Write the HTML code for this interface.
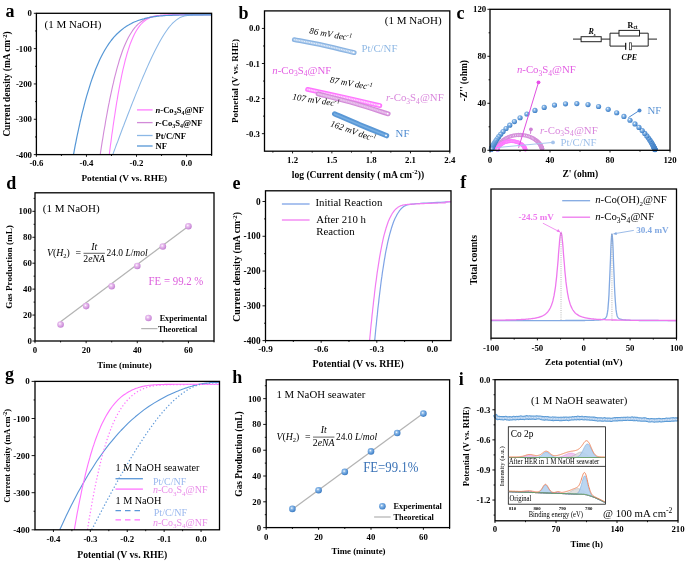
<!DOCTYPE html>
<html><head><meta charset="utf-8"><style>
html,body{margin:0;padding:0;background:#fff;overflow:hidden}
svg{display:block;will-change:transform}
text{font-family:"Liberation Serif", serif}
</style></head><body>
<svg width="685" height="561" viewBox="0 0 685 561">
<defs><radialGradient id="sB" cx="0.4" cy="0.38" r="0.62"><stop offset="0" stop-color="#ffffff"/><stop offset="0.3" stop-color="#8fbbe8"/><stop offset="0.75" stop-color="#5592d4"/><stop offset="1" stop-color="#3f7cc0"/></radialGradient><radialGradient id="sP" cx="0.4" cy="0.38" r="0.62"><stop offset="0" stop-color="#ffffff"/><stop offset="0.3" stop-color="#eac2f0"/><stop offset="0.75" stop-color="#d398de"/><stop offset="1" stop-color="#c281d2"/></radialGradient><radialGradient id="sM" cx="0.45" cy="0.45" r="0.6"><stop offset="0" stop-color="#ffffff"/><stop offset="0.4" stop-color="#ffb0ff"/><stop offset="1" stop-color="#f060f0"/></radialGradient><radialGradient id="sR" cx="0.45" cy="0.45" r="0.6"><stop offset="0" stop-color="#ffffff"/><stop offset="0.4" stop-color="#e8bdea"/><stop offset="1" stop-color="#cc88d2"/></radialGradient><radialGradient id="sL" cx="0.45" cy="0.45" r="0.6"><stop offset="0" stop-color="#ffffff"/><stop offset="0.4" stop-color="#cfe0f6"/><stop offset="1" stop-color="#a6c4ec"/></radialGradient></defs>
<rect width="685" height="561" fill="#fff"/>
<text x="5.40" y="16.60" font-size="18" font-weight="bold" text-anchor="start" fill="#000">a</text>
<path d="M100.2,154.6 L100.7,151.3 L101.2,148.1 L101.7,144.8 L102.2,141.6 L102.8,138.3 L103.3,135.0 L103.8,131.8 L104.4,128.5 L105.0,125.3 L105.5,122.0 L106.1,118.7 L106.7,115.5 L107.3,112.2 L107.9,108.9 L108.5,105.7 L109.2,102.4 L109.8,99.2 L110.5,95.9 L111.2,92.6 L111.9,89.4 L112.6,86.1 L113.4,82.9 L114.1,79.6 L114.9,76.3 L115.8,73.1 L116.6,69.8 L117.5,66.6 L118.5,63.3 L119.4,60.0 L120.5,56.8 L121.6,53.5 L122.7,50.3 L124.0,47.0 L125.4,43.7 L126.9,40.5 L128.5,37.2 L130.4,34.0 L132.5,30.7 L135.0,27.4 L135.0,27.4 L135.8,26.6 L136.5,25.7 L137.3,25.0 L138.1,24.2 L138.8,23.6 L139.6,22.9 L140.3,22.3 L141.1,21.8 L141.8,21.3 L142.5,20.8 L143.3,20.3 L144.0,19.9 L144.7,19.5 L145.5,19.1 L146.2,18.8 L146.9,18.4 L147.6,18.1 L148.4,17.8 L149.1,17.6 L149.8,17.3 L150.5,17.1 L151.2,16.9 L152.0,16.7 L152.7,16.6 L153.4,16.4 L154.1,16.2 L154.8,16.1 L155.5,16.0 L156.2,15.9 L157.0,15.8 L157.7,15.7 L158.4,15.6 L159.1,15.5 L159.8,15.5 L160.5,15.4 L161.2,15.4 L161.9,15.3 L162.6,15.3 L163.3,15.2 L164.0,15.2 L164.8,15.1 L165.5,15.1 L166.2,15.1 L166.9,15.1 L167.6,15.0 L168.3,15.0 L169.0,15.0 L169.7,15.0 L170.4,15.0 L171.1,14.9 L171.8,14.9 L172.5,14.9 L173.2,14.9 L173.9,14.9 L174.6,14.9 L175.3,14.9 L176.0,14.9 L176.7,14.8 L177.4,14.8 L178.1,14.8 L178.8,14.8 L179.5,14.8 L180.2,14.8 L180.9,14.8 L181.6,14.8 L182.3,14.8 L183.0,14.8 L183.8,14.8 L184.5,14.8 L185.2,14.8 L185.9,14.8 L186.6,14.8 L187.3,14.8 L188.0,14.8 L188.7,14.8 L189.4,14.8 L190.1,14.8 L190.8,14.8 L191.5,14.8 L192.2,14.8 L192.9,14.8 L193.6,14.8 L194.3,14.8 L195.0,14.8 L195.7,14.8 L196.4,14.8 L197.1,14.7 L197.8,14.7 L198.5,14.7 L199.2,14.7 L199.9,14.7 L200.6,14.7 L201.3,14.7 L202.0,14.7 L202.7,14.7 L203.4,14.7 L204.1,14.7 L204.8,14.7 L205.5,14.7 L206.2,14.7 L206.9,14.7 L207.6,14.7 L208.3,14.7 L209.0,14.7 L209.7,14.7 L210.4,14.7 L211.1,14.7 L211.2,14.3 L211.2,14.3 L211.2,14.3 L211.3,14.3 L211.3,14.3 L211.4,14.3 L211.4,14.3 L211.5,14.3 L211.5,14.3 L211.6,14.3 L211.6,14.3" fill="none" stroke="#d28ad8" stroke-width="1.1" stroke-linejoin="round"/>
<path d="M109.3,154.6 L109.7,151.3 L110.1,148.1 L110.5,144.8 L111.0,141.6 L111.4,138.3 L111.8,135.0 L112.3,131.8 L112.8,128.5 L113.2,125.3 L113.7,122.0 L114.2,118.7 L114.7,115.5 L115.2,112.2 L115.7,108.9 L116.2,105.7 L116.7,102.4 L117.3,99.2 L117.8,95.9 L118.4,92.6 L119.0,89.4 L119.6,86.1 L120.2,82.9 L120.9,79.6 L121.5,76.3 L122.2,73.1 L122.9,69.8 L123.7,66.6 L124.5,63.3 L125.3,60.0 L126.2,56.8 L127.1,53.5 L128.1,50.3 L129.2,47.0 L130.3,43.7 L131.6,40.5 L133.0,37.2 L134.5,34.0 L136.3,30.7 L138.5,27.4 L138.5,27.4 L139.1,26.6 L139.8,25.7 L140.4,25.0 L141.0,24.2 L141.7,23.6 L142.3,22.9 L142.9,22.3 L143.6,21.8 L144.2,21.3 L144.8,20.8 L145.5,20.3 L146.1,19.9 L146.7,19.5 L147.3,19.1 L147.9,18.8 L148.6,18.4 L149.2,18.1 L149.8,17.8 L150.4,17.6 L151.0,17.3 L151.6,17.1 L152.2,16.9 L152.9,16.7 L153.5,16.6 L154.1,16.4 L154.7,16.2 L155.3,16.1 L155.9,16.0 L156.5,15.9 L157.1,15.8 L157.7,15.7 L158.3,15.6 L158.9,15.5 L159.5,15.5 L160.1,15.4 L160.7,15.4 L161.3,15.3 L161.9,15.3 L162.5,15.2 L163.1,15.2 L163.7,15.1 L164.3,15.1 L164.9,15.1 L165.5,15.1 L166.1,15.0 L166.7,15.0 L167.3,15.0 L167.9,15.0 L168.5,15.0 L169.1,14.9 L169.7,14.9 L170.3,14.9 L170.9,14.9 L171.5,14.9 L172.1,14.9 L172.7,14.9 L173.3,14.9 L173.9,14.8 L174.5,14.8 L175.1,14.8 L175.7,14.8 L176.3,14.8 L176.9,14.8 L177.5,14.8 L178.1,14.8 L178.7,14.8 L179.3,14.8 L179.9,14.8 L180.5,14.8 L181.1,14.8 L181.7,14.8 L182.3,14.8 L182.9,14.8 L183.5,14.8 L184.1,14.8 L184.7,14.8 L185.3,14.8 L185.9,14.8 L186.5,14.8 L187.1,14.8 L187.7,14.8 L188.3,14.8 L188.9,14.8 L189.5,14.8 L190.1,14.8 L190.7,14.8 L191.3,14.7 L191.9,14.7 L192.5,14.7 L193.1,14.7 L193.7,14.7 L194.3,14.7 L194.9,14.7 L195.5,14.7 L196.1,14.7 L196.7,14.7 L197.3,14.7 L197.9,14.7 L198.5,14.7 L199.1,14.7 L199.7,14.7 L200.3,14.7 L200.8,14.7 L201.4,14.7 L202.0,14.7 L202.6,14.7 L203.2,14.7 L203.8,14.7 L204.4,14.7 L205.0,14.7 L205.6,14.7 L206.2,14.7 L206.8,14.7 L207.4,14.7 L208.0,14.7 L208.6,14.7 L209.2,14.7 L209.8,14.7 L210.4,14.7 L210.5,14.3 L210.6,14.3 L210.7,14.3 L210.8,14.3 L210.9,14.3 L211.1,14.3 L211.2,14.3 L211.3,14.3 L211.4,14.3 L211.5,14.3 L211.6,14.3" fill="none" stroke="#ff7dff" stroke-width="1.1" stroke-linejoin="round"/>
<path d="M112.8,154.6 L114.0,151.3 L115.2,148.1 L116.4,144.8 L117.7,141.6 L118.9,138.3 L120.1,135.0 L121.3,131.8 L122.5,128.5 L123.8,125.3 L125.0,122.0 L126.3,118.7 L127.5,115.5 L128.8,112.2 L130.1,108.9 L131.3,105.7 L132.6,102.4 L133.9,99.2 L135.2,95.9 L136.5,92.6 L137.9,89.4 L139.2,86.1 L140.5,82.9 L141.9,79.6 L143.3,76.3 L144.7,73.1 L146.1,69.8 L147.5,66.6 L149.0,63.3 L150.5,60.0 L152.0,56.8 L153.6,53.5 L155.2,50.3 L156.9,47.0 L158.6,43.7 L160.4,40.5 L162.3,37.2 L164.3,34.0 L166.5,30.7 L168.9,27.4 L168.9,27.4 L169.6,26.6 L170.3,25.7 L171.0,25.0 L171.6,24.2 L172.3,23.6 L172.9,22.9 L173.5,22.3 L174.1,21.8 L174.7,21.3 L175.3,20.8 L175.9,20.3 L176.4,19.9 L177.0,19.5 L177.5,19.1 L178.1,18.8 L178.6,18.4 L179.1,18.1 L179.6,17.8 L180.1,17.6 L180.7,17.3 L181.2,17.1 L181.6,16.9 L182.1,16.7 L182.6,16.6 L183.1,16.4 L183.6,16.3 L184.1,16.1 L184.5,16.0 L185.0,15.9 L185.5,15.8 L185.9,15.7 L186.4,15.7 L186.9,15.6 L187.3,15.5 L187.8,15.5 L188.2,15.4 L188.7,15.4 L189.1,15.3 L189.6,15.3 L190.0,15.2 L190.5,15.2 L190.9,15.2 L191.4,15.1 L191.8,15.1 L192.3,15.1 L192.7,15.1 L193.1,15.0 L193.6,15.0 L194.0,15.0 L194.4,15.0 L194.9,15.0 L195.3,15.0 L195.7,15.0 L196.2,14.9 L196.6,14.9 L197.0,14.9 L197.5,14.9 L197.9,14.9 L198.3,14.9 L198.8,14.9 L199.2,14.9 L199.6,14.9 L200.1,14.9 L200.5,14.9 L200.9,14.9 L201.3,14.9 L201.8,14.9 L202.2,14.9 L202.6,14.9 L203.0,14.9 L203.5,14.8 L203.9,14.8 L204.3,14.8 L204.8,14.8 L205.2,14.8 L205.6,14.8 L206.0,14.8 L206.5,14.8 L206.9,14.8 L207.3,14.8 L207.7,14.8 L208.2,14.8 L208.6,14.8 L209.0,14.8 L209.4,14.8 L209.9,14.8 L210.3,14.8 L210.7,14.8 L211.1,14.8 L211.6,14.8 L211.6,14.4 L211.6,14.4 L211.6,14.4 L211.6,14.4 L211.6,14.4 L211.6,14.4 L211.6,14.4 L211.6,14.4 L211.6,14.4 L211.6,14.4 L211.6,14.4" fill="none" stroke="#8cb8e6" stroke-width="1.05" stroke-linejoin="round"/>
<path d="M73.5,154.6 L74.1,151.3 L74.7,148.1 L75.3,144.8 L76.0,141.6 L76.6,138.3 L77.3,135.0 L78.0,131.8 L78.7,128.5 L79.4,125.3 L80.1,122.0 L80.9,118.7 L81.6,115.5 L82.4,112.2 L83.3,108.9 L84.1,105.7 L84.9,102.4 L85.8,99.2 L86.7,95.9 L87.7,92.6 L88.7,89.4 L89.7,86.1 L90.7,82.9 L91.8,79.6 L93.0,76.3 L94.2,73.1 L95.4,69.8 L96.8,66.6 L98.2,63.3 L99.6,60.0 L101.2,56.8 L102.9,53.5 L104.7,50.3 L106.7,47.0 L108.9,43.7 L111.2,40.5 L113.9,37.2 L116.9,34.0 L120.5,30.7 L124.7,27.4 L124.7,27.4 L126.0,26.6 L127.3,25.7 L128.6,25.0 L129.9,24.2 L131.2,23.6 L132.4,22.9 L133.7,22.3 L135.0,21.8 L136.3,21.3 L137.5,20.8 L138.8,20.3 L140.1,19.9 L141.3,19.5 L142.6,19.1 L143.9,18.8 L145.1,18.4 L146.4,18.1 L147.6,17.8 L148.9,17.6 L150.1,17.3 L151.3,17.1 L152.6,16.9 L153.8,16.7 L155.0,16.6 L156.3,16.4 L157.5,16.2 L158.7,16.1 L159.9,16.0 L161.1,15.9 L162.3,15.8 L163.5,15.7 L164.7,15.6 L165.9,15.5 L167.1,15.5 L168.3,15.4 L169.5,15.4 L170.6,15.3 L171.8,15.3 L173.0,15.2 L174.1,15.2 L175.2,15.1 L176.4,15.1 L177.5,15.1 L178.6,15.1 L179.7,15.0 L180.8,15.0 L181.9,15.0 L183.0,15.0 L184.1,15.0 L185.1,14.9 L186.2,14.9 L187.2,14.9 L188.2,14.9 L189.2,14.9 L190.2,14.9 L191.2,14.9 L192.2,14.9 L193.1,14.8 L194.0,14.8 L195.0,14.8 L195.9,14.8 L196.7,14.8 L197.6,14.8 L198.5,14.8 L199.3,14.8 L200.1,14.8 L200.9,14.8 L201.7,14.8 L202.4,14.8 L203.2,14.8 L203.9,14.8 L204.6,14.8 L205.3,14.8 L205.9,14.8 L206.5,14.8 L207.2,14.8 L207.8,14.8 L208.3,14.8 L208.9,14.8 L209.4,14.8 L209.9,14.8 L210.4,14.8 L210.9,14.8 L211.4,14.8 L211.4,14.3 L211.4,14.3 L211.4,14.3 L211.4,14.3 L211.5,14.3 L211.5,14.3 L211.5,14.3 L211.5,14.3 L211.6,14.3 L211.6,14.3 L211.6,14.3" fill="none" stroke="#5597d6" stroke-width="1.2" stroke-linejoin="round"/>
<rect x="36.40" y="13.30" width="175.20" height="141.30" fill="none" stroke="#000" stroke-width="1.3"/>
<line x1="61.43" y1="154.60" x2="61.43" y2="156.00" stroke="#000" stroke-width="0.9"/>
<line x1="111.49" y1="154.60" x2="111.49" y2="156.00" stroke="#000" stroke-width="0.9"/>
<line x1="161.54" y1="154.60" x2="161.54" y2="156.00" stroke="#000" stroke-width="0.9"/>
<line x1="211.60" y1="154.60" x2="211.60" y2="156.00" stroke="#000" stroke-width="0.9"/>
<line x1="36.40" y1="154.60" x2="36.40" y2="156.80" stroke="#000" stroke-width="0.9"/>
<text x="36.40" y="165.80" font-size="8.8" font-weight="bold" text-anchor="middle" fill="#000">-0.6</text>
<line x1="86.46" y1="154.60" x2="86.46" y2="156.80" stroke="#000" stroke-width="0.9"/>
<text x="86.46" y="165.80" font-size="8.8" font-weight="bold" text-anchor="middle" fill="#000">-0.4</text>
<line x1="136.51" y1="154.60" x2="136.51" y2="156.80" stroke="#000" stroke-width="0.9"/>
<text x="136.51" y="165.80" font-size="8.8" font-weight="bold" text-anchor="middle" fill="#000">-0.2</text>
<line x1="186.57" y1="154.60" x2="186.57" y2="156.80" stroke="#000" stroke-width="0.9"/>
<text x="186.57" y="165.80" font-size="8.8" font-weight="bold" text-anchor="middle" fill="#000">0.0</text>
<line x1="35.00" y1="30.96" x2="36.40" y2="30.96" stroke="#000" stroke-width="0.9"/>
<line x1="35.00" y1="66.29" x2="36.40" y2="66.29" stroke="#000" stroke-width="0.9"/>
<line x1="35.00" y1="101.61" x2="36.40" y2="101.61" stroke="#000" stroke-width="0.9"/>
<line x1="35.00" y1="136.94" x2="36.40" y2="136.94" stroke="#000" stroke-width="0.9"/>
<line x1="33.80" y1="13.30" x2="36.40" y2="13.30" stroke="#000" stroke-width="0.9"/>
<text x="32.00" y="16.30" font-size="8.8" font-weight="bold" text-anchor="end" fill="#000">0</text>
<line x1="33.80" y1="48.62" x2="36.40" y2="48.62" stroke="#000" stroke-width="0.9"/>
<text x="32.00" y="51.62" font-size="8.8" font-weight="bold" text-anchor="end" fill="#000">-100</text>
<line x1="33.80" y1="83.95" x2="36.40" y2="83.95" stroke="#000" stroke-width="0.9"/>
<text x="32.00" y="86.95" font-size="8.8" font-weight="bold" text-anchor="end" fill="#000">-200</text>
<line x1="33.80" y1="119.28" x2="36.40" y2="119.28" stroke="#000" stroke-width="0.9"/>
<text x="32.00" y="122.28" font-size="8.8" font-weight="bold" text-anchor="end" fill="#000">-300</text>
<line x1="33.80" y1="154.60" x2="36.40" y2="154.60" stroke="#000" stroke-width="0.9"/>
<text x="32.00" y="157.60" font-size="8.8" font-weight="bold" text-anchor="end" fill="#000">-400</text>
<text x="10.30" y="84.00" font-size="9.3" font-weight="bold" text-anchor="middle" fill="#000" transform="rotate(-90 10.30 84.00)">Current density (mA cm<tspan font-size="6.5" dy="-3.25">-2</tspan><tspan dy="3.25">)</tspan></text>
<text x="124.30" y="180.80" font-size="9.27" font-weight="bold" text-anchor="middle" fill="#000">Potential (V vs. RHE)</text>
<text x="44.50" y="28.00" font-size="11" font-weight="normal" text-anchor="start" fill="#000">(1 M NaOH)</text>
<line x1="137.00" y1="109.90" x2="152.60" y2="109.90" stroke="#ff7dff" stroke-width="1.3"/>
<text x="155.50" y="112.90" font-size="8.6" font-weight="bold" text-anchor="start" fill="#000"><tspan font-style="italic">n</tspan>-Co<tspan font-size="6.0" dy="2.15">3</tspan><tspan dy="-2.15">S</tspan><tspan font-size="6.0" dy="2.15">4</tspan><tspan dy="-2.15">@NF</tspan></text>
<line x1="137.00" y1="122.60" x2="152.60" y2="122.60" stroke="#d28ad8" stroke-width="1.3"/>
<text x="155.50" y="125.60" font-size="8.6" font-weight="bold" text-anchor="start" fill="#000"><tspan font-style="italic">r</tspan>-Co<tspan font-size="6.0" dy="2.15">3</tspan><tspan dy="-2.15">S</tspan><tspan font-size="6.0" dy="2.15">4</tspan><tspan dy="-2.15">@NF</tspan></text>
<line x1="137.00" y1="135.50" x2="152.60" y2="135.50" stroke="#8cb8e6" stroke-width="1.3"/>
<text x="155.50" y="138.50" font-size="8.6" font-weight="bold" text-anchor="start" fill="#000">Pt/C/NF</text>
<line x1="137.00" y1="146.00" x2="152.60" y2="146.00" stroke="#5597d6" stroke-width="1.3"/>
<text x="155.50" y="149.00" font-size="8.6" font-weight="bold" text-anchor="start" fill="#000">NF</text>
<text x="238.50" y="18.90" font-size="18" font-weight="bold" text-anchor="start" fill="#000">b</text>
<rect x="264.50" y="10.90" width="185.30" height="140.30" fill="none" stroke="#000" stroke-width="1.3"/>
<line x1="272.89" y1="151.20" x2="272.89" y2="152.60" stroke="#000" stroke-width="0.9"/>
<line x1="312.20" y1="151.20" x2="312.20" y2="152.60" stroke="#000" stroke-width="0.9"/>
<line x1="351.51" y1="151.20" x2="351.51" y2="152.60" stroke="#000" stroke-width="0.9"/>
<line x1="390.83" y1="151.20" x2="390.83" y2="152.60" stroke="#000" stroke-width="0.9"/>
<line x1="430.14" y1="151.20" x2="430.14" y2="152.60" stroke="#000" stroke-width="0.9"/>
<line x1="292.54" y1="151.20" x2="292.54" y2="153.40" stroke="#000" stroke-width="0.9"/>
<text x="292.54" y="162.50" font-size="8.8" font-weight="bold" text-anchor="middle" fill="#000">1.2</text>
<line x1="331.86" y1="151.20" x2="331.86" y2="153.40" stroke="#000" stroke-width="0.9"/>
<text x="331.86" y="162.50" font-size="8.8" font-weight="bold" text-anchor="middle" fill="#000">1.5</text>
<line x1="371.17" y1="151.20" x2="371.17" y2="153.40" stroke="#000" stroke-width="0.9"/>
<text x="371.17" y="162.50" font-size="8.8" font-weight="bold" text-anchor="middle" fill="#000">1.8</text>
<line x1="410.49" y1="151.20" x2="410.49" y2="153.40" stroke="#000" stroke-width="0.9"/>
<text x="410.49" y="162.50" font-size="8.8" font-weight="bold" text-anchor="middle" fill="#000">2.1</text>
<line x1="449.80" y1="151.20" x2="449.80" y2="153.40" stroke="#000" stroke-width="0.9"/>
<text x="449.80" y="162.50" font-size="8.8" font-weight="bold" text-anchor="middle" fill="#000">2.4</text>
<line x1="263.10" y1="45.97" x2="264.50" y2="45.97" stroke="#000" stroke-width="0.9"/>
<line x1="263.10" y1="81.05" x2="264.50" y2="81.05" stroke="#000" stroke-width="0.9"/>
<line x1="263.10" y1="116.12" x2="264.50" y2="116.12" stroke="#000" stroke-width="0.9"/>
<line x1="261.90" y1="28.44" x2="264.50" y2="28.44" stroke="#000" stroke-width="0.9"/>
<text x="260.00" y="31.44" font-size="8.8" font-weight="bold" text-anchor="end" fill="#000">0.0</text>
<line x1="261.90" y1="63.51" x2="264.50" y2="63.51" stroke="#000" stroke-width="0.9"/>
<text x="260.00" y="66.51" font-size="8.8" font-weight="bold" text-anchor="end" fill="#000">-0.1</text>
<line x1="261.90" y1="98.59" x2="264.50" y2="98.59" stroke="#000" stroke-width="0.9"/>
<text x="260.00" y="101.59" font-size="8.8" font-weight="bold" text-anchor="end" fill="#000">-0.2</text>
<line x1="261.90" y1="133.66" x2="264.50" y2="133.66" stroke="#000" stroke-width="0.9"/>
<text x="260.00" y="136.66" font-size="8.8" font-weight="bold" text-anchor="end" fill="#000">-0.3</text>
<text x="238.30" y="81.00" font-size="9.07" font-weight="bold" text-anchor="middle" fill="#000" transform="rotate(-90 238.30 81.00)">Potnetial (V vs. RHE)</text>
<text x="357.90" y="177.50" font-size="9.64" font-weight="bold" text-anchor="middle" fill="#000">log (Current density ( mA cm<tspan font-size="6.7" dy="-3.37">-2</tspan><tspan dy="3.37">))</tspan></text>
<text x="441.60" y="23.70" font-size="11" font-weight="normal" text-anchor="end" fill="#000">(1 M NaOH)</text>
<path d="M294.30,39.60 C299.20,40.55 313.72,43.13 323.70,45.30 C333.68,47.47 349.12,51.38 354.20,52.60" fill="none" stroke="#8ab4e2" stroke-width="4.8" stroke-linecap="round"/>
<path d="M294.30,39.60 C299.20,40.55 313.72,43.13 323.70,45.30 C333.68,47.47 349.12,51.38 354.20,52.60" fill="none" stroke="#b0cdee" stroke-width="2.4" stroke-linecap="round"/>
<path d="M294.30,39.60 C299.20,40.55 313.72,43.13 323.70,45.30 C333.68,47.47 349.12,51.38 354.20,52.60" fill="none" stroke="#fff" stroke-width="1.1" stroke-dasharray="0.8 0.9" opacity="0.85"/>
<circle cx="353.60" cy="52.30" r="0.9" fill="#fff"/>
<path d="M307.60,89.40 C313.83,90.75 332.97,94.80 345.00,97.50 C357.03,100.20 374.00,104.25 379.80,105.60" fill="none" stroke="#ff72ff" stroke-width="4.8" stroke-linecap="round"/>
<path d="M307.60,89.40 C313.83,90.75 332.97,94.80 345.00,97.50 C357.03,100.20 374.00,104.25 379.80,105.60" fill="none" stroke="#ff9eff" stroke-width="2.4" stroke-linecap="round"/>
<path d="M307.60,89.40 C313.83,90.75 332.97,94.80 345.00,97.50 C357.03,100.20 374.00,104.25 379.80,105.60" fill="none" stroke="#fff" stroke-width="1.1" stroke-dasharray="0.8 0.9" opacity="0.9"/>
<circle cx="379.20" cy="105.30" r="0.9" fill="#fff"/>
<path d="M318.10,93.90 C324.25,95.50 343.32,100.17 355.00,103.50 C366.68,106.83 382.67,112.17 388.20,113.90" fill="none" stroke="#d38ad8" stroke-width="4.8" stroke-linecap="round"/>
<path d="M318.10,93.90 C324.25,95.50 343.32,100.17 355.00,103.50 C366.68,106.83 382.67,112.17 388.20,113.90" fill="none" stroke="#e2aee6" stroke-width="2.4" stroke-linecap="round"/>
<path d="M318.10,93.90 C324.25,95.50 343.32,100.17 355.00,103.50 C366.68,106.83 382.67,112.17 388.20,113.90" fill="none" stroke="#fff" stroke-width="1.1" stroke-dasharray="0.8 0.9" opacity="0.45"/>
<circle cx="387.60" cy="113.60" r="0.9" fill="#fff"/>
<path d="M334.60,113.90 C338.83,115.72 351.33,121.17 360.00,124.80 C368.67,128.43 382.17,133.88 386.60,135.70" fill="none" stroke="#5a98d6" stroke-width="5.2" stroke-linecap="round"/>
<path d="M334.60,113.90 C338.83,115.72 351.33,121.17 360.00,124.80 C368.67,128.43 382.17,133.88 386.60,135.70" fill="none" stroke="#77aee2" stroke-width="1.6" stroke-linecap="round"/>
<circle cx="386.00" cy="135.40" r="0.9" fill="#fff"/>
<text x="309.00" y="33.50" font-size="9" font-weight="normal" text-anchor="start" fill="#000" font-style="italic" transform="rotate(10 309.00 33.50)">86 mV dec<tspan font-size="6.3" dy="-3.15">-1</tspan><tspan dy="3.15"></tspan></text>
<text x="361.40" y="52.00" font-size="10.8" font-weight="normal" text-anchor="start" fill="#8fb8e4">Pt/C/NF</text>
<text x="272.30" y="73.60" font-size="10.8" font-weight="normal" text-anchor="start" fill="#e35ee3"><tspan font-style="italic">n</tspan>-Co<tspan font-size="7.6" dy="2.70">3</tspan><tspan dy="-2.70">S</tspan><tspan font-size="7.6" dy="2.70">4</tspan><tspan dy="-2.70">@NF</tspan></text>
<text x="329.50" y="82.50" font-size="9" font-weight="normal" text-anchor="start" fill="#000" font-style="italic" transform="rotate(10.3 329.50 82.50)">87 mV dec<tspan font-size="6.3" dy="-3.15">-1</tspan><tspan dy="3.15"></tspan></text>
<text x="385.90" y="101.30" font-size="10.8" font-weight="normal" text-anchor="start" fill="#d987dc"><tspan font-style="italic">r</tspan>-Co<tspan font-size="7.6" dy="2.70">3</tspan><tspan dy="-2.70">S</tspan><tspan font-size="7.6" dy="2.70">4</tspan><tspan dy="-2.70">@NF</tspan></text>
<text x="292.00" y="99.60" font-size="9" font-weight="normal" text-anchor="start" fill="#000" font-style="italic" transform="rotate(8.7 292.00 99.60)">107 mV dec<tspan font-size="6.3" dy="-3.15">-1</tspan><tspan dy="3.15"></tspan></text>
<text x="329.80" y="126.00" font-size="9" font-weight="normal" text-anchor="start" fill="#000" font-style="italic" transform="rotate(19.5 329.80 126.00)">162 mV dec<tspan font-size="6.3" dy="-3.15">-1</tspan><tspan dy="3.15"></tspan></text>
<text x="395.60" y="136.70" font-size="10.8" font-weight="normal" text-anchor="start" fill="#4d8ad0">NF</text>
<text x="456.60" y="18.90" font-size="18" font-weight="bold" text-anchor="start" fill="#000">c</text>
<circle cx="497.9" cy="149.9" r="1.4" fill="#fff" stroke="#a9c6ec" stroke-width="1.1"/>
<circle cx="497.9" cy="149.8" r="1.4" fill="#fff" stroke="#a9c6ec" stroke-width="1.1"/>
<circle cx="497.8" cy="149.8" r="1.4" fill="#fff" stroke="#a9c6ec" stroke-width="1.1"/>
<circle cx="497.8" cy="149.7" r="1.4" fill="#fff" stroke="#a9c6ec" stroke-width="1.1"/>
<circle cx="497.7" cy="149.6" r="1.4" fill="#fff" stroke="#a9c6ec" stroke-width="1.1"/>
<circle cx="497.6" cy="149.5" r="1.4" fill="#fff" stroke="#a9c6ec" stroke-width="1.1"/>
<circle cx="497.5" cy="149.4" r="1.4" fill="#fff" stroke="#a9c6ec" stroke-width="1.1"/>
<circle cx="497.4" cy="149.3" r="1.4" fill="#fff" stroke="#a9c6ec" stroke-width="1.1"/>
<circle cx="497.3" cy="149.2" r="1.4" fill="#fff" stroke="#a9c6ec" stroke-width="1.1"/>
<circle cx="497.1" cy="149.1" r="1.4" fill="#fff" stroke="#a9c6ec" stroke-width="1.1"/>
<circle cx="496.9" cy="148.9" r="1.4" fill="#fff" stroke="#a9c6ec" stroke-width="1.1"/>
<circle cx="496.7" cy="148.8" r="1.4" fill="#fff" stroke="#a9c6ec" stroke-width="1.1"/>
<circle cx="496.4" cy="148.7" r="1.4" fill="#fff" stroke="#a9c6ec" stroke-width="1.1"/>
<circle cx="496.1" cy="148.5" r="1.4" fill="#fff" stroke="#a9c6ec" stroke-width="1.1"/>
<circle cx="495.8" cy="148.4" r="1.4" fill="#fff" stroke="#a9c6ec" stroke-width="1.1"/>
<circle cx="495.4" cy="148.3" r="1.4" fill="#fff" stroke="#a9c6ec" stroke-width="1.1"/>
<circle cx="495.0" cy="148.3" r="1.4" fill="#fff" stroke="#a9c6ec" stroke-width="1.1"/>
<circle cx="494.6" cy="148.3" r="1.4" fill="#fff" stroke="#a9c6ec" stroke-width="1.1"/>
<circle cx="494.2" cy="148.3" r="1.4" fill="#fff" stroke="#a9c6ec" stroke-width="1.1"/>
<circle cx="493.8" cy="148.3" r="1.4" fill="#fff" stroke="#a9c6ec" stroke-width="1.1"/>
<circle cx="493.5" cy="148.4" r="1.4" fill="#fff" stroke="#a9c6ec" stroke-width="1.1"/>
<circle cx="493.1" cy="148.5" r="1.4" fill="#fff" stroke="#a9c6ec" stroke-width="1.1"/>
<circle cx="492.8" cy="148.6" r="1.4" fill="#fff" stroke="#a9c6ec" stroke-width="1.1"/>
<circle cx="492.5" cy="148.7" r="1.4" fill="#fff" stroke="#a9c6ec" stroke-width="1.1"/>
<circle cx="492.2" cy="148.8" r="1.4" fill="#fff" stroke="#a9c6ec" stroke-width="1.1"/>
<circle cx="492.0" cy="149.0" r="1.4" fill="#fff" stroke="#a9c6ec" stroke-width="1.1"/>
<circle cx="491.8" cy="149.1" r="1.4" fill="#fff" stroke="#a9c6ec" stroke-width="1.1"/>
<circle cx="491.7" cy="149.2" r="1.4" fill="#fff" stroke="#a9c6ec" stroke-width="1.1"/>
<circle cx="491.6" cy="149.4" r="1.4" fill="#fff" stroke="#a9c6ec" stroke-width="1.1"/>
<circle cx="491.4" cy="149.5" r="1.4" fill="#fff" stroke="#a9c6ec" stroke-width="1.1"/>
<circle cx="491.4" cy="149.6" r="1.4" fill="#fff" stroke="#a9c6ec" stroke-width="1.1"/>
<circle cx="491.3" cy="149.7" r="1.4" fill="#fff" stroke="#a9c6ec" stroke-width="1.1"/>
<circle cx="491.2" cy="149.7" r="1.4" fill="#fff" stroke="#a9c6ec" stroke-width="1.1"/>
<circle cx="491.2" cy="149.8" r="1.4" fill="#fff" stroke="#a9c6ec" stroke-width="1.1"/>
<circle cx="491.1" cy="149.9" r="1.4" fill="#fff" stroke="#a9c6ec" stroke-width="1.1"/>
<circle cx="491.1" cy="149.9" r="1.4" fill="#fff" stroke="#a9c6ec" stroke-width="1.1"/>
<circle cx="491.1" cy="150.0" r="1.4" fill="#fff" stroke="#a9c6ec" stroke-width="1.1"/>
<circle cx="491.0" cy="150.0" r="1.4" fill="#fff" stroke="#a9c6ec" stroke-width="1.1"/>
<circle cx="491.0" cy="150.1" r="1.4" fill="#fff" stroke="#a9c6ec" stroke-width="1.1"/>
<circle cx="491.0" cy="150.1" r="1.4" fill="#fff" stroke="#a9c6ec" stroke-width="1.1"/>
<circle cx="542.2" cy="148.9" r="1.5" fill="#fff" stroke="#d48fda" stroke-width="1.3"/>
<circle cx="542.1" cy="148.8" r="1.5" fill="#fff" stroke="#d48fda" stroke-width="1.3"/>
<circle cx="542.1" cy="148.6" r="1.5" fill="#fff" stroke="#d48fda" stroke-width="1.3"/>
<circle cx="542.0" cy="148.5" r="1.5" fill="#fff" stroke="#d48fda" stroke-width="1.3"/>
<circle cx="542.0" cy="148.3" r="1.5" fill="#fff" stroke="#d48fda" stroke-width="1.3"/>
<circle cx="541.9" cy="148.1" r="1.5" fill="#fff" stroke="#d48fda" stroke-width="1.3"/>
<circle cx="541.8" cy="147.9" r="1.5" fill="#fff" stroke="#d48fda" stroke-width="1.3"/>
<circle cx="541.7" cy="147.7" r="1.5" fill="#fff" stroke="#d48fda" stroke-width="1.3"/>
<circle cx="541.6" cy="147.4" r="1.5" fill="#fff" stroke="#d48fda" stroke-width="1.3"/>
<circle cx="541.5" cy="147.2" r="1.5" fill="#fff" stroke="#d48fda" stroke-width="1.3"/>
<circle cx="541.4" cy="146.9" r="1.5" fill="#fff" stroke="#d48fda" stroke-width="1.3"/>
<circle cx="541.2" cy="146.6" r="1.5" fill="#fff" stroke="#d48fda" stroke-width="1.3"/>
<circle cx="541.0" cy="146.2" r="1.5" fill="#fff" stroke="#d48fda" stroke-width="1.3"/>
<circle cx="540.8" cy="145.8" r="1.5" fill="#fff" stroke="#d48fda" stroke-width="1.3"/>
<circle cx="540.6" cy="145.4" r="1.5" fill="#fff" stroke="#d48fda" stroke-width="1.3"/>
<circle cx="540.3" cy="145.0" r="1.5" fill="#fff" stroke="#d48fda" stroke-width="1.3"/>
<circle cx="540.0" cy="144.5" r="1.5" fill="#fff" stroke="#d48fda" stroke-width="1.3"/>
<circle cx="539.7" cy="144.0" r="1.5" fill="#fff" stroke="#d48fda" stroke-width="1.3"/>
<circle cx="539.3" cy="143.5" r="1.5" fill="#fff" stroke="#d48fda" stroke-width="1.3"/>
<circle cx="538.8" cy="143.0" r="1.5" fill="#fff" stroke="#d48fda" stroke-width="1.3"/>
<circle cx="538.3" cy="142.4" r="1.5" fill="#fff" stroke="#d48fda" stroke-width="1.3"/>
<circle cx="537.7" cy="141.7" r="1.5" fill="#fff" stroke="#d48fda" stroke-width="1.3"/>
<circle cx="537.0" cy="141.1" r="1.5" fill="#fff" stroke="#d48fda" stroke-width="1.3"/>
<circle cx="536.2" cy="140.4" r="1.5" fill="#fff" stroke="#d48fda" stroke-width="1.3"/>
<circle cx="535.3" cy="139.8" r="1.5" fill="#fff" stroke="#d48fda" stroke-width="1.3"/>
<circle cx="534.3" cy="139.1" r="1.5" fill="#fff" stroke="#d48fda" stroke-width="1.3"/>
<circle cx="533.2" cy="138.4" r="1.5" fill="#fff" stroke="#d48fda" stroke-width="1.3"/>
<circle cx="531.9" cy="137.8" r="1.5" fill="#fff" stroke="#d48fda" stroke-width="1.3"/>
<circle cx="530.6" cy="137.1" r="1.5" fill="#fff" stroke="#d48fda" stroke-width="1.3"/>
<circle cx="529.1" cy="136.6" r="1.5" fill="#fff" stroke="#d48fda" stroke-width="1.3"/>
<circle cx="527.6" cy="136.1" r="1.5" fill="#fff" stroke="#d48fda" stroke-width="1.3"/>
<circle cx="525.9" cy="135.6" r="1.5" fill="#fff" stroke="#d48fda" stroke-width="1.3"/>
<circle cx="524.1" cy="135.3" r="1.5" fill="#fff" stroke="#d48fda" stroke-width="1.3"/>
<circle cx="522.3" cy="135.1" r="1.5" fill="#fff" stroke="#d48fda" stroke-width="1.3"/>
<circle cx="520.5" cy="135.0" r="1.5" fill="#fff" stroke="#d48fda" stroke-width="1.3"/>
<circle cx="518.6" cy="135.0" r="1.5" fill="#fff" stroke="#d48fda" stroke-width="1.3"/>
<circle cx="516.8" cy="135.1" r="1.5" fill="#fff" stroke="#d48fda" stroke-width="1.3"/>
<circle cx="515.0" cy="135.3" r="1.5" fill="#fff" stroke="#d48fda" stroke-width="1.3"/>
<circle cx="513.2" cy="135.6" r="1.5" fill="#fff" stroke="#d48fda" stroke-width="1.3"/>
<circle cx="511.5" cy="136.1" r="1.5" fill="#fff" stroke="#d48fda" stroke-width="1.3"/>
<circle cx="510.0" cy="136.6" r="1.5" fill="#fff" stroke="#d48fda" stroke-width="1.3"/>
<circle cx="508.5" cy="137.1" r="1.5" fill="#fff" stroke="#d48fda" stroke-width="1.3"/>
<circle cx="507.2" cy="137.8" r="1.5" fill="#fff" stroke="#d48fda" stroke-width="1.3"/>
<circle cx="505.9" cy="138.4" r="1.5" fill="#fff" stroke="#d48fda" stroke-width="1.3"/>
<circle cx="504.8" cy="139.1" r="1.5" fill="#fff" stroke="#d48fda" stroke-width="1.3"/>
<circle cx="503.8" cy="139.8" r="1.5" fill="#fff" stroke="#d48fda" stroke-width="1.3"/>
<circle cx="502.9" cy="140.4" r="1.5" fill="#fff" stroke="#d48fda" stroke-width="1.3"/>
<circle cx="502.1" cy="141.1" r="1.5" fill="#fff" stroke="#d48fda" stroke-width="1.3"/>
<circle cx="501.4" cy="141.7" r="1.5" fill="#fff" stroke="#d48fda" stroke-width="1.3"/>
<circle cx="500.8" cy="142.4" r="1.5" fill="#fff" stroke="#d48fda" stroke-width="1.3"/>
<circle cx="500.3" cy="143.0" r="1.5" fill="#fff" stroke="#d48fda" stroke-width="1.3"/>
<circle cx="499.8" cy="143.5" r="1.5" fill="#fff" stroke="#d48fda" stroke-width="1.3"/>
<circle cx="499.4" cy="144.0" r="1.5" fill="#fff" stroke="#d48fda" stroke-width="1.3"/>
<circle cx="499.1" cy="144.5" r="1.5" fill="#fff" stroke="#d48fda" stroke-width="1.3"/>
<circle cx="498.8" cy="145.0" r="1.5" fill="#fff" stroke="#d48fda" stroke-width="1.3"/>
<circle cx="498.5" cy="145.4" r="1.5" fill="#fff" stroke="#d48fda" stroke-width="1.3"/>
<circle cx="498.3" cy="145.8" r="1.5" fill="#fff" stroke="#d48fda" stroke-width="1.3"/>
<circle cx="498.1" cy="146.2" r="1.5" fill="#fff" stroke="#d48fda" stroke-width="1.3"/>
<circle cx="497.9" cy="146.6" r="1.5" fill="#fff" stroke="#d48fda" stroke-width="1.3"/>
<circle cx="497.7" cy="146.9" r="1.5" fill="#fff" stroke="#d48fda" stroke-width="1.3"/>
<circle cx="497.6" cy="147.2" r="1.5" fill="#fff" stroke="#d48fda" stroke-width="1.3"/>
<circle cx="497.5" cy="147.4" r="1.5" fill="#fff" stroke="#d48fda" stroke-width="1.3"/>
<circle cx="497.4" cy="147.7" r="1.5" fill="#fff" stroke="#d48fda" stroke-width="1.3"/>
<circle cx="497.3" cy="147.9" r="1.5" fill="#fff" stroke="#d48fda" stroke-width="1.3"/>
<circle cx="497.2" cy="148.1" r="1.5" fill="#fff" stroke="#d48fda" stroke-width="1.3"/>
<circle cx="497.1" cy="148.3" r="1.5" fill="#fff" stroke="#d48fda" stroke-width="1.3"/>
<circle cx="497.1" cy="148.5" r="1.5" fill="#fff" stroke="#d48fda" stroke-width="1.3"/>
<circle cx="497.0" cy="148.6" r="1.5" fill="#fff" stroke="#d48fda" stroke-width="1.3"/>
<circle cx="497.0" cy="148.8" r="1.5" fill="#fff" stroke="#d48fda" stroke-width="1.3"/>
<circle cx="496.9" cy="148.9" r="1.5" fill="#fff" stroke="#d48fda" stroke-width="1.3"/>
<circle cx="525.4" cy="149.4" r="1.4" fill="#fff" stroke="#ff78ff" stroke-width="1.2"/>
<circle cx="525.4" cy="149.3" r="1.4" fill="#fff" stroke="#ff78ff" stroke-width="1.2"/>
<circle cx="525.3" cy="149.2" r="1.4" fill="#fff" stroke="#ff78ff" stroke-width="1.2"/>
<circle cx="525.3" cy="149.1" r="1.4" fill="#fff" stroke="#ff78ff" stroke-width="1.2"/>
<circle cx="525.2" cy="149.0" r="1.4" fill="#fff" stroke="#ff78ff" stroke-width="1.2"/>
<circle cx="525.2" cy="148.8" r="1.4" fill="#fff" stroke="#ff78ff" stroke-width="1.2"/>
<circle cx="525.1" cy="148.7" r="1.4" fill="#fff" stroke="#ff78ff" stroke-width="1.2"/>
<circle cx="525.0" cy="148.6" r="1.4" fill="#fff" stroke="#ff78ff" stroke-width="1.2"/>
<circle cx="525.0" cy="148.4" r="1.4" fill="#fff" stroke="#ff78ff" stroke-width="1.2"/>
<circle cx="524.9" cy="148.2" r="1.4" fill="#fff" stroke="#ff78ff" stroke-width="1.2"/>
<circle cx="524.8" cy="148.0" r="1.4" fill="#fff" stroke="#ff78ff" stroke-width="1.2"/>
<circle cx="524.7" cy="147.8" r="1.4" fill="#fff" stroke="#ff78ff" stroke-width="1.2"/>
<circle cx="524.5" cy="147.6" r="1.4" fill="#fff" stroke="#ff78ff" stroke-width="1.2"/>
<circle cx="524.4" cy="147.4" r="1.4" fill="#fff" stroke="#ff78ff" stroke-width="1.2"/>
<circle cx="524.2" cy="147.1" r="1.4" fill="#fff" stroke="#ff78ff" stroke-width="1.2"/>
<circle cx="524.0" cy="146.9" r="1.4" fill="#fff" stroke="#ff78ff" stroke-width="1.2"/>
<circle cx="523.8" cy="146.6" r="1.4" fill="#fff" stroke="#ff78ff" stroke-width="1.2"/>
<circle cx="523.6" cy="146.3" r="1.4" fill="#fff" stroke="#ff78ff" stroke-width="1.2"/>
<circle cx="523.3" cy="146.0" r="1.4" fill="#fff" stroke="#ff78ff" stroke-width="1.2"/>
<circle cx="523.0" cy="145.6" r="1.4" fill="#fff" stroke="#ff78ff" stroke-width="1.2"/>
<circle cx="522.6" cy="145.3" r="1.4" fill="#fff" stroke="#ff78ff" stroke-width="1.2"/>
<circle cx="522.2" cy="144.9" r="1.4" fill="#fff" stroke="#ff78ff" stroke-width="1.2"/>
<circle cx="521.8" cy="144.5" r="1.4" fill="#fff" stroke="#ff78ff" stroke-width="1.2"/>
<circle cx="521.3" cy="144.2" r="1.4" fill="#fff" stroke="#ff78ff" stroke-width="1.2"/>
<circle cx="520.7" cy="143.8" r="1.4" fill="#fff" stroke="#ff78ff" stroke-width="1.2"/>
<circle cx="520.1" cy="143.4" r="1.4" fill="#fff" stroke="#ff78ff" stroke-width="1.2"/>
<circle cx="519.4" cy="143.0" r="1.4" fill="#fff" stroke="#ff78ff" stroke-width="1.2"/>
<circle cx="518.6" cy="142.6" r="1.4" fill="#fff" stroke="#ff78ff" stroke-width="1.2"/>
<circle cx="517.8" cy="142.3" r="1.4" fill="#fff" stroke="#ff78ff" stroke-width="1.2"/>
<circle cx="516.9" cy="142.0" r="1.4" fill="#fff" stroke="#ff78ff" stroke-width="1.2"/>
<circle cx="516.0" cy="141.7" r="1.4" fill="#fff" stroke="#ff78ff" stroke-width="1.2"/>
<circle cx="515.0" cy="141.5" r="1.4" fill="#fff" stroke="#ff78ff" stroke-width="1.2"/>
<circle cx="514.0" cy="141.3" r="1.4" fill="#fff" stroke="#ff78ff" stroke-width="1.2"/>
<circle cx="512.9" cy="141.2" r="1.4" fill="#fff" stroke="#ff78ff" stroke-width="1.2"/>
<circle cx="511.8" cy="141.1" r="1.4" fill="#fff" stroke="#ff78ff" stroke-width="1.2"/>
<circle cx="510.8" cy="141.1" r="1.4" fill="#fff" stroke="#ff78ff" stroke-width="1.2"/>
<circle cx="509.7" cy="141.2" r="1.4" fill="#fff" stroke="#ff78ff" stroke-width="1.2"/>
<circle cx="508.6" cy="141.3" r="1.4" fill="#fff" stroke="#ff78ff" stroke-width="1.2"/>
<circle cx="507.6" cy="141.5" r="1.4" fill="#fff" stroke="#ff78ff" stroke-width="1.2"/>
<circle cx="506.6" cy="141.7" r="1.4" fill="#fff" stroke="#ff78ff" stroke-width="1.2"/>
<circle cx="505.7" cy="142.0" r="1.4" fill="#fff" stroke="#ff78ff" stroke-width="1.2"/>
<circle cx="504.8" cy="142.3" r="1.4" fill="#fff" stroke="#ff78ff" stroke-width="1.2"/>
<circle cx="504.0" cy="142.6" r="1.4" fill="#fff" stroke="#ff78ff" stroke-width="1.2"/>
<circle cx="503.2" cy="143.0" r="1.4" fill="#fff" stroke="#ff78ff" stroke-width="1.2"/>
<circle cx="502.5" cy="143.4" r="1.4" fill="#fff" stroke="#ff78ff" stroke-width="1.2"/>
<circle cx="501.9" cy="143.8" r="1.4" fill="#fff" stroke="#ff78ff" stroke-width="1.2"/>
<circle cx="501.3" cy="144.2" r="1.4" fill="#fff" stroke="#ff78ff" stroke-width="1.2"/>
<circle cx="500.8" cy="144.5" r="1.4" fill="#fff" stroke="#ff78ff" stroke-width="1.2"/>
<circle cx="500.4" cy="144.9" r="1.4" fill="#fff" stroke="#ff78ff" stroke-width="1.2"/>
<circle cx="500.0" cy="145.3" r="1.4" fill="#fff" stroke="#ff78ff" stroke-width="1.2"/>
<circle cx="499.6" cy="145.6" r="1.4" fill="#fff" stroke="#ff78ff" stroke-width="1.2"/>
<circle cx="499.3" cy="146.0" r="1.4" fill="#fff" stroke="#ff78ff" stroke-width="1.2"/>
<circle cx="499.0" cy="146.3" r="1.4" fill="#fff" stroke="#ff78ff" stroke-width="1.2"/>
<circle cx="498.8" cy="146.6" r="1.4" fill="#fff" stroke="#ff78ff" stroke-width="1.2"/>
<circle cx="498.6" cy="146.9" r="1.4" fill="#fff" stroke="#ff78ff" stroke-width="1.2"/>
<circle cx="498.4" cy="147.1" r="1.4" fill="#fff" stroke="#ff78ff" stroke-width="1.2"/>
<circle cx="498.2" cy="147.4" r="1.4" fill="#fff" stroke="#ff78ff" stroke-width="1.2"/>
<circle cx="498.1" cy="147.6" r="1.4" fill="#fff" stroke="#ff78ff" stroke-width="1.2"/>
<circle cx="497.9" cy="147.8" r="1.4" fill="#fff" stroke="#ff78ff" stroke-width="1.2"/>
<circle cx="497.8" cy="148.0" r="1.4" fill="#fff" stroke="#ff78ff" stroke-width="1.2"/>
<circle cx="497.7" cy="148.2" r="1.4" fill="#fff" stroke="#ff78ff" stroke-width="1.2"/>
<circle cx="497.6" cy="148.4" r="1.4" fill="#fff" stroke="#ff78ff" stroke-width="1.2"/>
<circle cx="497.6" cy="148.6" r="1.4" fill="#fff" stroke="#ff78ff" stroke-width="1.2"/>
<circle cx="497.5" cy="148.7" r="1.4" fill="#fff" stroke="#ff78ff" stroke-width="1.2"/>
<circle cx="497.4" cy="148.8" r="1.4" fill="#fff" stroke="#ff78ff" stroke-width="1.2"/>
<circle cx="497.4" cy="149.0" r="1.4" fill="#fff" stroke="#ff78ff" stroke-width="1.2"/>
<circle cx="497.3" cy="149.1" r="1.4" fill="#fff" stroke="#ff78ff" stroke-width="1.2"/>
<circle cx="497.3" cy="149.2" r="1.4" fill="#fff" stroke="#ff78ff" stroke-width="1.2"/>
<circle cx="497.2" cy="149.3" r="1.4" fill="#fff" stroke="#ff78ff" stroke-width="1.2"/>
<circle cx="497.2" cy="149.4" r="1.4" fill="#fff" stroke="#ff78ff" stroke-width="1.2"/>
<circle cx="654.99" cy="149.57" r="2.6" fill="url(#sB)"/>
<circle cx="654.93" cy="149.43" r="2.6" fill="url(#sB)"/>
<circle cx="654.85" cy="149.25" r="2.6" fill="url(#sB)"/>
<circle cx="654.76" cy="149.05" r="2.6" fill="url(#sB)"/>
<circle cx="654.65" cy="148.80" r="2.6" fill="url(#sB)"/>
<circle cx="654.52" cy="148.51" r="2.6" fill="url(#sB)"/>
<circle cx="654.36" cy="148.16" r="2.6" fill="url(#sB)"/>
<circle cx="654.17" cy="147.74" r="2.6" fill="url(#sB)"/>
<circle cx="653.93" cy="147.24" r="2.6" fill="url(#sB)"/>
<circle cx="653.64" cy="146.65" r="2.6" fill="url(#sB)"/>
<circle cx="653.28" cy="145.94" r="2.6" fill="url(#sB)"/>
<circle cx="652.84" cy="145.11" r="2.6" fill="url(#sB)"/>
<circle cx="652.30" cy="144.11" r="2.6" fill="url(#sB)"/>
<circle cx="651.63" cy="142.94" r="2.6" fill="url(#sB)"/>
<circle cx="650.80" cy="141.56" r="2.6" fill="url(#sB)"/>
<circle cx="649.76" cy="139.95" r="2.6" fill="url(#sB)"/>
<circle cx="648.45" cy="138.06" r="2.6" fill="url(#sB)"/>
<circle cx="646.82" cy="135.88" r="2.6" fill="url(#sB)"/>
<circle cx="644.77" cy="133.38" r="2.6" fill="url(#sB)"/>
<circle cx="642.19" cy="130.55" r="2.6" fill="url(#sB)"/>
<circle cx="638.97" cy="127.39" r="2.6" fill="url(#sB)"/>
<circle cx="634.95" cy="123.93" r="2.6" fill="url(#sB)"/>
<circle cx="629.98" cy="120.24" r="2.6" fill="url(#sB)"/>
<circle cx="623.92" cy="116.46" r="2.6" fill="url(#sB)"/>
<circle cx="616.67" cy="112.75" r="2.6" fill="url(#sB)"/>
<circle cx="608.19" cy="109.35" r="2.6" fill="url(#sB)"/>
<circle cx="598.56" cy="106.52" r="2.6" fill="url(#sB)"/>
<circle cx="587.99" cy="104.53" r="2.6" fill="url(#sB)"/>
<circle cx="576.82" cy="103.58" r="2.6" fill="url(#sB)"/>
<circle cx="565.50" cy="103.78" r="2.6" fill="url(#sB)"/>
<circle cx="554.49" cy="105.11" r="2.6" fill="url(#sB)"/>
<circle cx="544.20" cy="107.41" r="2.6" fill="url(#sB)"/>
<circle cx="534.95" cy="110.47" r="2.6" fill="url(#sB)"/>
<circle cx="526.89" cy="114.01" r="2.6" fill="url(#sB)"/>
<circle cx="520.06" cy="117.76" r="2.6" fill="url(#sB)"/>
<circle cx="514.40" cy="121.53" r="2.6" fill="url(#sB)"/>
<circle cx="509.77" cy="125.15" r="2.6" fill="url(#sB)"/>
<circle cx="506.04" cy="128.51" r="2.6" fill="url(#sB)"/>
<circle cx="503.05" cy="131.56" r="2.6" fill="url(#sB)"/>
<circle cx="500.67" cy="134.28" r="2.6" fill="url(#sB)"/>
<circle cx="498.77" cy="136.67" r="2.6" fill="url(#sB)"/>
<circle cx="497.26" cy="138.74" r="2.6" fill="url(#sB)"/>
<circle cx="496.06" cy="140.53" r="2.6" fill="url(#sB)"/>
<circle cx="495.10" cy="142.06" r="2.6" fill="url(#sB)"/>
<circle cx="494.32" cy="143.37" r="2.6" fill="url(#sB)"/>
<circle cx="493.70" cy="144.47" r="2.6" fill="url(#sB)"/>
<circle cx="493.20" cy="145.41" r="2.6" fill="url(#sB)"/>
<circle cx="492.79" cy="146.20" r="2.6" fill="url(#sB)"/>
<circle cx="492.46" cy="146.86" r="2.6" fill="url(#sB)"/>
<circle cx="492.19" cy="147.42" r="2.6" fill="url(#sB)"/>
<circle cx="491.96" cy="147.89" r="2.6" fill="url(#sB)"/>
<circle cx="491.78" cy="148.29" r="2.6" fill="url(#sB)"/>
<circle cx="491.63" cy="148.62" r="2.6" fill="url(#sB)"/>
<circle cx="491.51" cy="148.89" r="2.6" fill="url(#sB)"/>
<circle cx="491.40" cy="149.12" r="2.6" fill="url(#sB)"/>
<rect x="490.00" y="9.30" width="180.00" height="141.00" fill="none" stroke="#000" stroke-width="1.3"/>
<line x1="520.00" y1="150.30" x2="520.00" y2="151.70" stroke="#000" stroke-width="0.9"/>
<line x1="580.00" y1="150.30" x2="580.00" y2="151.70" stroke="#000" stroke-width="0.9"/>
<line x1="640.00" y1="150.30" x2="640.00" y2="151.70" stroke="#000" stroke-width="0.9"/>
<line x1="490.00" y1="150.30" x2="490.00" y2="152.50" stroke="#000" stroke-width="0.9"/>
<text x="490.00" y="162.50" font-size="8.8" font-weight="bold" text-anchor="middle" fill="#000">0</text>
<line x1="550.00" y1="150.30" x2="550.00" y2="152.50" stroke="#000" stroke-width="0.9"/>
<text x="550.00" y="162.50" font-size="8.8" font-weight="bold" text-anchor="middle" fill="#000">40</text>
<line x1="610.00" y1="150.30" x2="610.00" y2="152.50" stroke="#000" stroke-width="0.9"/>
<text x="610.00" y="162.50" font-size="8.8" font-weight="bold" text-anchor="middle" fill="#000">80</text>
<line x1="670.00" y1="150.30" x2="670.00" y2="152.50" stroke="#000" stroke-width="0.9"/>
<text x="670.00" y="162.50" font-size="8.8" font-weight="bold" text-anchor="middle" fill="#000">120</text>
<line x1="488.60" y1="126.80" x2="490.00" y2="126.80" stroke="#000" stroke-width="0.9"/>
<line x1="488.60" y1="79.80" x2="490.00" y2="79.80" stroke="#000" stroke-width="0.9"/>
<line x1="488.60" y1="32.80" x2="490.00" y2="32.80" stroke="#000" stroke-width="0.9"/>
<line x1="487.40" y1="150.30" x2="490.00" y2="150.30" stroke="#000" stroke-width="0.9"/>
<text x="486.20" y="153.30" font-size="8.8" font-weight="bold" text-anchor="end" fill="#000">0</text>
<line x1="487.40" y1="103.30" x2="490.00" y2="103.30" stroke="#000" stroke-width="0.9"/>
<text x="486.20" y="106.30" font-size="8.8" font-weight="bold" text-anchor="end" fill="#000">40</text>
<line x1="487.40" y1="56.30" x2="490.00" y2="56.30" stroke="#000" stroke-width="0.9"/>
<text x="486.20" y="59.30" font-size="8.8" font-weight="bold" text-anchor="end" fill="#000">80</text>
<line x1="487.40" y1="9.30" x2="490.00" y2="9.30" stroke="#000" stroke-width="0.9"/>
<text x="486.20" y="12.30" font-size="8.8" font-weight="bold" text-anchor="end" fill="#000">120</text>
<text x="466.60" y="80.60" font-size="9.45" font-weight="bold" text-anchor="middle" fill="#000" transform="rotate(-90 466.60 80.60)">-Z'' (ohm)</text>
<text x="580.30" y="177.30" font-size="9.5" font-weight="bold" text-anchor="middle" fill="#000">Z' (ohm)</text>
<text x="516.90" y="73.30" font-size="10.8" font-weight="normal" text-anchor="start" fill="#e35ee3"><tspan font-style="italic">n</tspan>-Co<tspan font-size="7.6" dy="2.70">3</tspan><tspan dy="-2.70">S</tspan><tspan font-size="7.6" dy="2.70">4</tspan><tspan dy="-2.70">@NF</tspan></text>
<line x1="538.50" y1="82.30" x2="518.60" y2="147.80" stroke="#e050e0" stroke-width="1.0"/>
<circle cx="538.5" cy="82.3" r="1.9" fill="#e84ee8"/>
<text x="539.90" y="133.60" font-size="10.8" font-weight="normal" text-anchor="start" fill="#d987dc"><tspan font-style="italic">r</tspan>-Co<tspan font-size="7.6" dy="2.70">3</tspan><tspan dy="-2.70">S</tspan><tspan font-size="7.6" dy="2.70">4</tspan><tspan dy="-2.70">@NF</tspan></text>
<line x1="530.90" y1="129.50" x2="530.50" y2="133.80" stroke="#cc80d2" stroke-width="1.0"/>
<circle cx="530.9" cy="129.3" r="1.9" fill="#cf7fd6"/>
<text x="560.50" y="146.30" font-size="10.8" font-weight="normal" text-anchor="start" fill="#9dbfea">Pt/C/NF</text>
<line x1="553.00" y1="142.40" x2="496.80" y2="147.60" stroke="#a8c6ec" stroke-width="1.0"/>
<circle cx="553" cy="142.4" r="1.9" fill="#a6c4ec"/>
<text x="647.40" y="114.30" font-size="10.8" font-weight="normal" text-anchor="start" fill="#5b93d3">NF</text>
<line x1="639.50" y1="110.40" x2="628.40" y2="117.60" stroke="#4f8ad0" stroke-width="1.0"/>
<circle cx="639.5" cy="110.4" r="2.0" fill="#4f8ad0"/>
<line x1="573.00" y1="39.10" x2="581.10" y2="39.10" stroke="#222" stroke-width="1.0"/>
<line x1="601.20" y1="39.10" x2="610.00" y2="39.10" stroke="#222" stroke-width="1.0"/>
<rect x="581.1" y="36.7" width="20.1" height="5" fill="#fff" stroke="#222" stroke-width="1.0"/>
<line x1="610.00" y1="33.20" x2="610.00" y2="46.10" stroke="#222" stroke-width="1.0"/>
<line x1="648.20" y1="33.20" x2="648.20" y2="46.10" stroke="#222" stroke-width="1.0"/>
<line x1="648.20" y1="39.10" x2="657.00" y2="39.10" stroke="#222" stroke-width="1.0"/>
<line x1="610.00" y1="33.20" x2="619.00" y2="33.20" stroke="#222" stroke-width="1.0"/>
<line x1="639.50" y1="33.20" x2="648.20" y2="33.20" stroke="#222" stroke-width="1.0"/>
<rect x="619" y="30.4" width="20.5" height="5.6" fill="#fff" stroke="#222" stroke-width="1.0"/>
<line x1="610.00" y1="46.10" x2="625.00" y2="46.10" stroke="#222" stroke-width="1.0"/>
<line x1="631.80" y1="46.10" x2="648.20" y2="46.10" stroke="#222" stroke-width="1.0"/>
<rect x="625" y="42.8" width="1.3" height="7" fill="#222"/>
<rect x="629.6" y="42.8" width="2" height="7" fill="#fff" stroke="#222" stroke-width="0.7"/>
<text x="588.40" y="34.00" font-size="8" font-weight="bold" text-anchor="start" fill="#000" font-style="italic">R<tspan font-size="5" dy="1.5">s</tspan></text>
<text x="627.60" y="27.80" font-size="8" font-weight="bold" text-anchor="start" fill="#000">R<tspan font-size="5.5" dy="1.5">ct</tspan></text>
<text x="629.20" y="60.30" font-size="8" font-weight="bold" text-anchor="middle" fill="#000" font-style="italic">CPE</text>
<text x="6.20" y="189.00" font-size="18" font-weight="bold" text-anchor="start" fill="#000">d</text>
<line x1="60.57" y1="321.68" x2="188.43" y2="226.25" stroke="#b4b4b4" stroke-width="1.25"/>
<circle cx="60.57" cy="324.53" r="3.3" fill="url(#sP)"/>
<circle cx="86.14" cy="306.12" r="3.3" fill="url(#sP)"/>
<circle cx="111.71" cy="286.28" r="3.3" fill="url(#sP)"/>
<circle cx="137.29" cy="265.93" r="3.3" fill="url(#sP)"/>
<circle cx="162.86" cy="246.48" r="3.3" fill="url(#sP)"/>
<circle cx="188.43" cy="226.25" r="3.3" fill="url(#sP)"/>
<rect x="35.00" y="192.80" width="179.00" height="148.20" fill="none" stroke="#000" stroke-width="1.3"/>
<line x1="60.57" y1="341.00" x2="60.57" y2="342.40" stroke="#000" stroke-width="0.9"/>
<line x1="111.71" y1="341.00" x2="111.71" y2="342.40" stroke="#000" stroke-width="0.9"/>
<line x1="162.86" y1="341.00" x2="162.86" y2="342.40" stroke="#000" stroke-width="0.9"/>
<line x1="214.00" y1="341.00" x2="214.00" y2="342.40" stroke="#000" stroke-width="0.9"/>
<line x1="35.00" y1="341.00" x2="35.00" y2="343.20" stroke="#000" stroke-width="0.9"/>
<text x="35.00" y="353.00" font-size="8.8" font-weight="bold" text-anchor="middle" fill="#000">0</text>
<line x1="86.14" y1="341.00" x2="86.14" y2="343.20" stroke="#000" stroke-width="0.9"/>
<text x="86.14" y="353.00" font-size="8.8" font-weight="bold" text-anchor="middle" fill="#000">20</text>
<line x1="137.29" y1="341.00" x2="137.29" y2="343.20" stroke="#000" stroke-width="0.9"/>
<text x="137.29" y="353.00" font-size="8.8" font-weight="bold" text-anchor="middle" fill="#000">40</text>
<line x1="188.43" y1="341.00" x2="188.43" y2="343.20" stroke="#000" stroke-width="0.9"/>
<text x="188.43" y="353.00" font-size="8.8" font-weight="bold" text-anchor="middle" fill="#000">60</text>
<line x1="33.60" y1="328.03" x2="35.00" y2="328.03" stroke="#000" stroke-width="0.9"/>
<line x1="33.60" y1="302.10" x2="35.00" y2="302.10" stroke="#000" stroke-width="0.9"/>
<line x1="33.60" y1="276.17" x2="35.00" y2="276.17" stroke="#000" stroke-width="0.9"/>
<line x1="33.60" y1="250.24" x2="35.00" y2="250.24" stroke="#000" stroke-width="0.9"/>
<line x1="33.60" y1="224.31" x2="35.00" y2="224.31" stroke="#000" stroke-width="0.9"/>
<line x1="33.60" y1="198.38" x2="35.00" y2="198.38" stroke="#000" stroke-width="0.9"/>
<line x1="32.40" y1="341.00" x2="35.00" y2="341.00" stroke="#000" stroke-width="0.9"/>
<text x="31.80" y="344.00" font-size="8.8" font-weight="bold" text-anchor="end" fill="#000">0</text>
<line x1="32.40" y1="315.07" x2="35.00" y2="315.07" stroke="#000" stroke-width="0.9"/>
<text x="31.80" y="318.07" font-size="8.8" font-weight="bold" text-anchor="end" fill="#000">20</text>
<line x1="32.40" y1="289.14" x2="35.00" y2="289.14" stroke="#000" stroke-width="0.9"/>
<text x="31.80" y="292.14" font-size="8.8" font-weight="bold" text-anchor="end" fill="#000">40</text>
<line x1="32.40" y1="263.20" x2="35.00" y2="263.20" stroke="#000" stroke-width="0.9"/>
<text x="31.80" y="266.20" font-size="8.8" font-weight="bold" text-anchor="end" fill="#000">60</text>
<line x1="32.40" y1="237.27" x2="35.00" y2="237.27" stroke="#000" stroke-width="0.9"/>
<text x="31.80" y="240.27" font-size="8.8" font-weight="bold" text-anchor="end" fill="#000">80</text>
<line x1="32.40" y1="211.34" x2="35.00" y2="211.34" stroke="#000" stroke-width="0.9"/>
<text x="31.80" y="214.34" font-size="8.8" font-weight="bold" text-anchor="end" fill="#000">100</text>
<text x="11.60" y="266.90" font-size="9.2" font-weight="bold" text-anchor="middle" fill="#000" transform="rotate(-90 11.60 266.90)">Gas Production (mL)</text>
<text x="124.50" y="367.60" font-size="8.9" font-weight="bold" text-anchor="middle" fill="#000">Time (minute)</text>
<text x="42.80" y="212.30" font-size="11" font-weight="normal" text-anchor="start" fill="#000">(1 M NaOH)</text>
<text x="46.90" y="256.00" font-size="9.8" font-weight="normal" text-anchor="start" fill="#000"><tspan font-style="italic">V</tspan>(<tspan font-style="italic">H</tspan><tspan font-size="6.5" dy="2">2</tspan><tspan dy="-2">)</tspan></text>
<text x="75.50" y="256.00" font-size="9.8" font-weight="normal" text-anchor="start" fill="#000">=</text>
<line x1="83.50" y1="253.30" x2="104.90" y2="253.30" stroke="#222" stroke-width="0.7"/>
<text x="94.20" y="249.50" font-size="9.8" font-weight="normal" text-anchor="middle" fill="#000" font-style="italic">It</text>
<text x="94.20" y="262.20" font-size="9.8" font-weight="normal" text-anchor="middle" fill="#000">2<tspan font-style="italic">eNA</tspan></text>
<text x="106.40" y="256.00" font-size="9.506" font-weight="normal" text-anchor="start" fill="#000">24.0 <tspan font-style="italic">L</tspan>/<tspan font-style="italic">mol</tspan></text>
<text x="148.60" y="284.60" font-size="11.6" font-weight="normal" text-anchor="start" fill="#dc5edc" textLength="54.8" lengthAdjust="spacingAndGlyphs">FE = 99.2 %</text>
<circle cx="148.50" cy="318.00" r="3.3" fill="url(#sP)"/>
<text x="159.70" y="320.80" font-size="8.1" font-weight="bold" text-anchor="start" fill="#000">Experimental</text>
<line x1="141.20" y1="328.60" x2="157.40" y2="328.60" stroke="#b4b4b4" stroke-width="1.25"/>
<text x="157.90" y="331.50" font-size="8.1" font-weight="bold" text-anchor="start" fill="#000">Theoretical</text>
<text x="232.50" y="188.80" font-size="18" font-weight="bold" text-anchor="start" fill="#000">e</text>
<path d="M374.7,340.6 L375.0,337.4 L375.3,334.2 L375.6,331.0 L375.9,327.8 L376.3,324.6 L376.6,321.3 L376.9,318.1 L377.3,314.9 L377.6,311.7 L377.9,308.5 L378.3,305.3 L378.7,302.1 L379.0,298.9 L379.4,295.7 L379.8,292.5 L380.2,289.2 L380.6,286.0 L381.0,282.8 L381.4,279.6 L381.9,276.4 L382.3,273.2 L382.8,270.0 L383.3,266.8 L383.8,263.6 L384.3,260.4 L384.9,257.1 L385.4,253.9 L386.0,250.7 L386.7,247.5 L387.3,244.3 L388.0,241.1 L388.8,237.9 L389.6,234.7 L390.5,231.5 L391.4,228.3 L392.5,225.0 L393.6,221.8 L395.0,218.6 L396.6,215.4 L396.6,215.4 L397.0,214.6 L397.5,213.8 L398.0,213.0 L398.4,212.3 L398.9,211.6 L399.3,211.0 L399.7,210.4 L400.2,209.9 L400.6,209.4 L401.0,208.9 L401.4,208.5 L401.8,208.1 L402.2,207.7 L402.6,207.4 L403.0,207.1 L403.4,206.8 L403.7,206.5 L404.1,206.3 L404.4,206.1 L404.8,205.9 L405.1,205.7 L405.4,205.6 L405.8,205.4 L406.1,205.3 L406.4,205.2 L406.7,205.1 L407.0,205.0 L407.3,204.9 L407.5,204.9 L407.8,204.8 L408.0,204.7 L408.3,204.7 L408.5,204.6 L408.8,204.6 L409.0,204.6 L409.2,204.5 L409.4,204.5 L409.6,204.5 L409.8,204.4 L410.0,204.4 L410.1,204.4 L410.3,204.4 L410.5,204.4 L410.6,204.3 L410.8,204.3 L410.9,204.3 L411.0,204.3 L411.2,204.3 L411.3,204.3 L411.4,204.3 L411.5,204.3 L411.6,204.3 L411.7,204.2 L411.8,204.2 L411.9,204.2 L412.0,204.2 L412.1,204.2 L412.2,204.2 L412.2,204.2 L412.3,204.2 L412.4,204.2 L412.4,204.2 L412.5,204.2 L412.5,204.2 L412.6,204.2 L412.6,204.2 L412.7,204.2 L412.7,204.1 L412.8,204.1 L412.8,204.1 L412.8,204.1 L412.9,204.1 L412.9,204.1 L412.9,204.1 L413.0,204.1 L413.0,204.1 L413.0,204.1 L413.0,204.1 L413.1,204.1 L413.1,204.1 L413.1,204.1 L413.1,204.1 L413.1,204.1 L413.2,204.1 L413.2,204.1 L413.2,204.1 L413.2,204.1 L413.2,204.1 L413.2,204.1 L413.2,204.1 L413.2,204.1 L413.3,204.1 L413.3,204.1 L413.3,204.1 L413.3,204.1 L413.3,204.1 L413.3,204.1 L413.3,204.1 L413.3,204.1 L413.3,204.1 L413.3,204.1 L413.3,204.1 L413.3,204.1 L413.3,204.1 L413.3,204.1 L413.3,204.1 L413.3,204.1 L413.4,204.1 L413.4,204.1 L413.4,204.1 L413.4,204.1 L413.4,204.1 L413.4,204.1 L413.4,204.1 L413.4,204.1 L413.4,204.1 L413.4,204.1 L413.4,204.1 L413.4,204.1 L416.8,203.5 L420.2,203.4 L423.6,203.2 L427.1,203.0 L430.5,202.8 L433.9,202.6 L437.3,202.4 L440.7,202.3 L444.2,202.1 L447.6,201.9 L451.0,201.7" fill="none" stroke="#7ea3e6" stroke-width="1.2" stroke-linejoin="round"/>
<path d="M369.6,340.6 L369.9,337.4 L370.2,334.2 L370.5,331.0 L370.8,327.8 L371.1,324.6 L371.5,321.3 L371.8,318.1 L372.1,314.9 L372.5,311.7 L372.8,308.5 L373.2,305.3 L373.5,302.1 L373.9,298.9 L374.3,295.7 L374.6,292.5 L375.0,289.2 L375.4,286.0 L375.8,282.8 L376.3,279.6 L376.7,276.4 L377.1,273.2 L377.6,270.0 L378.1,266.8 L378.6,263.6 L379.1,260.4 L379.6,257.1 L380.2,253.9 L380.8,250.7 L381.4,247.5 L382.0,244.3 L382.7,241.1 L383.4,237.9 L384.2,234.7 L385.1,231.5 L386.0,228.3 L387.1,225.0 L388.2,221.8 L389.6,218.6 L391.2,215.4 L391.2,215.4 L391.7,214.6 L392.1,213.8 L392.6,213.0 L393.1,212.3 L393.6,211.6 L394.1,211.0 L394.5,210.4 L395.0,209.9 L395.5,209.4 L396.0,208.9 L396.4,208.5 L396.9,208.1 L397.4,207.7 L397.8,207.4 L398.3,207.0 L398.8,206.8 L399.2,206.5 L399.7,206.3 L400.1,206.0 L400.6,205.8 L401.1,205.7 L401.5,205.5 L402.0,205.4 L402.4,205.2 L402.9,205.1 L403.4,205.0 L403.8,204.9 L404.3,204.8 L404.7,204.8 L405.2,204.7 L405.6,204.6 L406.1,204.6 L406.6,204.5 L407.0,204.5 L407.5,204.4 L407.9,204.4 L408.4,204.4 L408.8,204.3 L409.3,204.3 L409.7,204.3 L410.2,204.3 L410.6,204.2 L411.1,204.2 L411.5,204.2 L412.0,204.2 L412.4,204.2 L412.9,204.1 L413.4,204.1 L413.8,204.1 L414.3,204.0 L414.7,204.0 L415.2,204.0 L415.6,204.0 L416.1,203.9 L416.5,203.9 L417.0,203.9 L417.4,203.9 L417.9,203.8 L418.3,203.8 L418.8,203.8 L419.2,203.8 L419.7,203.8 L420.1,203.7 L420.6,203.7 L421.0,203.7 L421.5,203.7 L421.9,203.7 L422.4,203.6 L422.8,203.6 L423.3,203.6 L423.7,203.6 L424.2,203.6 L424.6,203.5 L425.1,203.5 L425.5,203.5 L426.0,203.5 L426.4,203.5 L426.9,203.4 L427.3,203.4 L427.8,203.4 L428.2,203.4 L428.7,203.4 L429.1,203.4 L429.6,203.3 L430.0,203.3 L430.5,203.3 L430.9,203.3 L431.4,203.3 L431.8,203.3 L432.3,203.2 L432.7,203.2 L433.2,203.2 L433.6,203.2 L434.1,203.2 L434.5,203.2 L435.0,203.1 L435.4,203.1 L435.9,203.1 L436.3,203.1 L436.8,203.1 L437.2,203.1 L437.7,203.1 L438.1,203.0 L438.6,203.0 L439.0,203.0 L439.5,203.0 L439.9,203.0 L440.4,203.0 L440.8,203.0 L441.3,202.9 L441.7,202.9 L442.2,202.9 L442.6,202.9 L443.1,202.9 L443.5,202.9 L444.0,202.9 L444.4,202.8 L444.9,202.8 L445.3,202.8 L445.9,201.9 L446.4,201.8 L446.9,201.8 L447.4,201.8 L447.9,201.8 L448.4,201.7 L448.9,201.7 L449.5,201.7 L450.0,201.7 L450.5,201.6 L451.0,201.6" fill="none" stroke="#f27cf2" stroke-width="1.2" stroke-linejoin="round"/>
<rect x="265.50" y="190.80" width="185.50" height="149.80" fill="none" stroke="#000" stroke-width="1.3"/>
<line x1="293.32" y1="340.60" x2="293.32" y2="342.00" stroke="#000" stroke-width="0.9"/>
<line x1="348.98" y1="340.60" x2="348.98" y2="342.00" stroke="#000" stroke-width="0.9"/>
<line x1="404.62" y1="340.60" x2="404.62" y2="342.00" stroke="#000" stroke-width="0.9"/>
<line x1="265.50" y1="340.60" x2="265.50" y2="342.80" stroke="#000" stroke-width="0.9"/>
<text x="265.50" y="351.80" font-size="9.2" font-weight="bold" text-anchor="middle" fill="#000">-0.9</text>
<line x1="321.15" y1="340.60" x2="321.15" y2="342.80" stroke="#000" stroke-width="0.9"/>
<text x="321.15" y="351.80" font-size="9.2" font-weight="bold" text-anchor="middle" fill="#000">-0.6</text>
<line x1="376.80" y1="340.60" x2="376.80" y2="342.80" stroke="#000" stroke-width="0.9"/>
<text x="376.80" y="351.80" font-size="9.2" font-weight="bold" text-anchor="middle" fill="#000">-0.3</text>
<line x1="432.45" y1="340.60" x2="432.45" y2="342.80" stroke="#000" stroke-width="0.9"/>
<text x="432.45" y="351.80" font-size="9.2" font-weight="bold" text-anchor="middle" fill="#000">0.0</text>
<line x1="264.10" y1="218.90" x2="265.50" y2="218.90" stroke="#000" stroke-width="0.9"/>
<line x1="264.10" y1="253.67" x2="265.50" y2="253.67" stroke="#000" stroke-width="0.9"/>
<line x1="264.10" y1="288.44" x2="265.50" y2="288.44" stroke="#000" stroke-width="0.9"/>
<line x1="264.10" y1="323.21" x2="265.50" y2="323.21" stroke="#000" stroke-width="0.9"/>
<line x1="262.50" y1="201.51" x2="265.50" y2="201.51" stroke="#000" stroke-width="0.9"/>
<text x="260.60" y="204.51" font-size="9.3" font-weight="bold" text-anchor="end" fill="#000">0</text>
<line x1="262.50" y1="236.28" x2="265.50" y2="236.28" stroke="#000" stroke-width="0.9"/>
<text x="260.60" y="239.28" font-size="9.3" font-weight="bold" text-anchor="end" fill="#000">-100</text>
<line x1="262.50" y1="271.05" x2="265.50" y2="271.05" stroke="#000" stroke-width="0.9"/>
<text x="260.60" y="274.05" font-size="9.3" font-weight="bold" text-anchor="end" fill="#000">-200</text>
<line x1="262.50" y1="305.83" x2="265.50" y2="305.83" stroke="#000" stroke-width="0.9"/>
<text x="260.60" y="308.83" font-size="9.3" font-weight="bold" text-anchor="end" fill="#000">-300</text>
<line x1="262.50" y1="340.60" x2="265.50" y2="340.60" stroke="#000" stroke-width="0.9"/>
<text x="260.60" y="343.60" font-size="9.3" font-weight="bold" text-anchor="end" fill="#000">-400</text>
<text x="240.20" y="266.90" font-size="9.7" font-weight="bold" text-anchor="middle" fill="#000" transform="rotate(-90 240.20 266.90)">Current density (mA cm<tspan font-size="6.8" dy="-3.39">-2</tspan><tspan dy="3.39">)</tspan></text>
<text x="358.20" y="367.20" font-size="9.85" font-weight="bold" text-anchor="middle" fill="#000">Potential (V vs. RHE)</text>
<line x1="281.90" y1="204.00" x2="309.60" y2="204.00" stroke="#7ea3e6" stroke-width="1.3"/>
<text x="315.50" y="206.30" font-size="10.8" font-weight="normal" text-anchor="start" fill="#000">Initial Reaction</text>
<line x1="281.90" y1="220.00" x2="309.60" y2="220.00" stroke="#f27cf2" stroke-width="1.3"/>
<text x="316.20" y="223.20" font-size="10.8" font-weight="normal" text-anchor="start" fill="#000">After 210 h</text>
<text x="316.20" y="235.30" font-size="10.8" font-weight="normal" text-anchor="start" fill="#000">Reaction</text>
<text x="460.20" y="187.50" font-size="18" font-weight="bold" text-anchor="start" fill="#000">f</text>
<path d="M491.0,320.6 L491.4,320.6 L491.7,320.6 L492.1,320.6 L492.5,320.6 L492.9,320.6 L493.2,320.6 L493.6,320.6 L494.0,320.6 L494.3,320.6 L494.7,320.6 L495.1,320.6 L495.5,320.6 L495.8,320.6 L496.2,320.6 L496.6,320.6 L496.9,320.6 L497.3,320.6 L497.7,320.6 L498.0,320.6 L498.4,320.6 L498.8,320.6 L499.2,320.6 L499.5,320.6 L499.9,320.6 L500.3,320.6 L500.6,320.6 L501.0,320.6 L501.4,320.6 L501.8,320.6 L502.1,320.6 L502.5,320.6 L502.9,320.6 L503.2,320.6 L503.6,320.6 L504.0,320.6 L504.4,320.6 L504.7,320.6 L505.1,320.6 L505.5,320.6 L505.8,320.6 L506.2,320.6 L506.6,320.6 L507.0,320.6 L507.3,320.6 L507.7,320.6 L508.1,320.6 L508.4,320.6 L508.8,320.6 L509.2,320.6 L509.6,320.6 L509.9,320.6 L510.3,320.6 L510.7,320.6 L511.0,320.6 L511.4,320.6 L511.8,320.6 L512.1,320.6 L512.5,320.6 L512.9,320.6 L513.3,320.6 L513.6,320.6 L514.0,320.6 L514.4,320.6 L514.7,320.6 L515.1,320.6 L515.5,320.6 L515.9,320.6 L516.2,320.6 L516.6,320.6 L517.0,320.6 L517.3,320.6 L517.7,320.6 L518.1,320.6 L518.5,320.6 L518.8,320.6 L519.2,320.6 L519.6,320.6 L519.9,320.6 L520.3,320.6 L520.7,320.6 L521.1,320.6 L521.4,320.6 L521.8,320.6 L522.2,320.6 L522.5,320.6 L522.9,320.6 L523.3,320.6 L523.6,320.6 L524.0,320.6 L524.4,320.6 L524.8,320.6 L525.1,320.6 L525.5,320.6 L525.9,320.6 L526.2,320.6 L526.6,320.6 L527.0,320.6 L527.4,320.6 L527.7,320.6 L528.1,320.6 L528.5,320.6 L528.8,320.6 L529.2,320.6 L529.6,320.6 L530.0,320.6 L530.3,320.6 L530.7,320.6 L531.1,320.6 L531.4,320.6 L531.8,320.6 L532.2,320.6 L532.6,320.6 L532.9,320.6 L533.3,320.6 L533.7,320.6 L534.0,320.6 L534.4,320.6 L534.8,320.6 L535.1,320.6 L535.5,320.6 L535.9,320.6 L536.3,320.6 L536.6,320.6 L537.0,320.6 L537.4,320.6 L537.7,320.6 L538.1,320.6 L538.5,320.6 L538.9,320.6 L539.2,320.6 L539.6,320.6 L540.0,320.6 L540.3,320.6 L540.7,320.6 L541.1,320.6 L541.5,320.6 L541.8,320.6 L542.2,320.6 L542.6,320.6 L542.9,320.6 L543.3,320.6 L543.7,320.6 L544.1,320.6 L544.4,320.6 L544.8,320.6 L545.2,320.6 L545.5,320.6 L545.9,320.6 L546.3,320.6 L546.6,320.6 L547.0,320.6 L547.4,320.6 L547.8,320.6 L548.1,320.6 L548.5,320.6 L548.9,320.6 L549.2,320.6 L549.6,320.6 L550.0,320.6 L550.4,320.6 L550.7,320.6 L551.1,320.6 L551.5,320.6 L551.8,320.6 L552.2,320.6 L552.6,320.6 L553.0,320.6 L553.3,320.6 L553.7,320.6 L554.1,320.6 L554.4,320.6 L554.8,320.6 L555.2,320.6 L555.6,320.6 L555.9,320.6 L556.3,320.6 L556.7,320.6 L557.0,320.6 L557.4,320.6 L557.8,320.6 L558.2,320.6 L558.5,320.6 L558.9,320.6 L559.3,320.6 L559.6,320.6 L560.0,320.6 L560.4,320.6 L560.7,320.6 L561.1,320.6 L561.5,320.6 L561.9,320.6 L562.2,320.6 L562.6,320.6 L563.0,320.6 L563.3,320.6 L563.7,320.6 L564.1,320.6 L564.5,320.6 L564.8,320.6 L565.2,320.6 L565.6,320.5 L565.9,320.5 L566.3,320.5 L566.7,320.5 L567.1,320.5 L567.4,320.5 L567.8,320.5 L568.2,320.5 L568.5,320.5 L568.9,320.5 L569.3,320.5 L569.7,320.5 L570.0,320.5 L570.4,320.5 L570.8,320.5 L571.1,320.5 L571.5,320.5 L571.9,320.5 L572.2,320.5 L572.6,320.5 L573.0,320.5 L573.4,320.5 L573.7,320.5 L574.1,320.5 L574.5,320.5 L574.8,320.5 L575.2,320.5 L575.6,320.5 L576.0,320.5 L576.3,320.5 L576.7,320.5 L577.1,320.5 L577.4,320.5 L577.8,320.5 L578.2,320.5 L578.6,320.5 L578.9,320.5 L579.3,320.5 L579.7,320.5 L580.0,320.5 L580.4,320.5 L580.8,320.5 L581.2,320.5 L581.5,320.5 L581.9,320.5 L582.3,320.5 L582.6,320.5 L583.0,320.5 L583.4,320.5 L583.8,320.5 L584.1,320.5 L584.5,320.5 L584.9,320.5 L585.2,320.4 L585.6,320.4 L586.0,320.4 L586.3,320.4 L586.7,320.4 L587.1,320.4 L587.5,320.4 L587.8,320.4 L588.2,320.4 L588.6,320.4 L588.9,320.4 L589.3,320.4 L589.7,320.4 L590.1,320.4 L590.4,320.4 L590.8,320.4 L591.2,320.4 L591.5,320.3 L591.9,320.3 L592.3,320.3 L592.7,320.3 L593.0,320.3 L593.4,320.3 L593.8,320.3 L594.1,320.3 L594.5,320.2 L594.9,320.2 L595.3,320.2 L595.6,320.2 L596.0,320.2 L596.4,320.2 L596.7,320.1 L597.1,320.1 L597.5,320.1 L597.8,320.1 L598.2,320.0 L598.6,320.0 L599.0,320.0 L599.3,319.9 L599.7,319.9 L600.1,319.9 L600.4,319.8 L600.8,319.8 L601.2,319.7 L601.6,319.6 L601.9,319.6 L602.3,319.5 L602.7,319.4 L603.0,319.3 L603.4,319.2 L603.8,319.1 L604.2,318.9 L604.5,318.7 L604.9,318.5 L605.3,318.2 L605.6,317.9 L606.0,317.4 L606.4,316.7 L606.8,315.7 L607.1,314.3 L607.5,312.2 L607.9,309.4 L608.2,305.6 L608.6,300.6 L609.0,294.4 L609.3,286.8 L609.7,278.1 L610.1,268.6 L610.5,258.7 L610.8,249.2 L611.2,241.1 L611.6,235.6 L611.9,233.6 L612.3,235.6 L612.7,241.1 L613.1,249.2 L613.4,258.7 L613.8,268.6 L614.2,278.1 L614.5,286.8 L614.9,294.4 L615.3,300.6 L615.7,305.6 L616.0,309.4 L616.4,312.2 L616.8,314.3 L617.1,315.7 L617.5,316.7 L617.9,317.4 L618.3,317.9 L618.6,318.2 L619.0,318.5 L619.4,318.7 L619.7,318.9 L620.1,319.1 L620.5,319.2 L620.9,319.3 L621.2,319.4 L621.6,319.5 L622.0,319.6 L622.3,319.6 L622.7,319.7 L623.1,319.8 L623.4,319.8 L623.8,319.9 L624.2,319.9 L624.6,319.9 L624.9,320.0 L625.3,320.0 L625.7,320.0 L626.0,320.1 L626.4,320.1 L626.8,320.1 L627.2,320.1 L627.5,320.2 L627.9,320.2 L628.3,320.2 L628.6,320.2 L629.0,320.2 L629.4,320.2 L629.8,320.3 L630.1,320.3 L630.5,320.3 L630.9,320.3 L631.2,320.3 L631.6,320.3 L632.0,320.3 L632.4,320.3 L632.7,320.4 L633.1,320.4 L633.5,320.4 L633.8,320.4 L634.2,320.4 L634.6,320.4 L634.9,320.4 L635.3,320.4 L635.7,320.4 L636.1,320.4 L636.4,320.4 L636.8,320.4 L637.2,320.4 L637.5,320.4 L637.9,320.4 L638.3,320.4 L638.7,320.4 L639.0,320.5 L639.4,320.5 L639.8,320.5 L640.1,320.5 L640.5,320.5 L640.9,320.5 L641.3,320.5 L641.6,320.5 L642.0,320.5 L642.4,320.5 L642.7,320.5 L643.1,320.5 L643.5,320.5 L643.9,320.5 L644.2,320.5 L644.6,320.5 L645.0,320.5 L645.3,320.5 L645.7,320.5 L646.1,320.5 L646.4,320.5 L646.8,320.5 L647.2,320.5 L647.6,320.5 L647.9,320.5 L648.3,320.5 L648.7,320.5 L649.0,320.5 L649.4,320.5 L649.8,320.5 L650.2,320.5 L650.5,320.5 L650.9,320.5 L651.3,320.5 L651.6,320.5 L652.0,320.5 L652.4,320.5 L652.8,320.5 L653.1,320.5 L653.5,320.5 L653.9,320.5 L654.2,320.5 L654.6,320.5 L655.0,320.5 L655.4,320.5 L655.7,320.5 L656.1,320.5 L656.5,320.5 L656.8,320.5 L657.2,320.5 L657.6,320.5 L658.0,320.5 L658.3,320.5 L658.7,320.6 L659.1,320.6 L659.4,320.6 L659.8,320.6 L660.2,320.6 L660.5,320.6 L660.9,320.6 L661.3,320.6 L661.7,320.6 L662.0,320.6 L662.4,320.6 L662.8,320.6 L663.1,320.6 L663.5,320.6 L663.9,320.6 L664.3,320.6 L664.6,320.6 L665.0,320.6 L665.4,320.6 L665.7,320.6 L666.1,320.6 L666.5,320.6 L666.9,320.6 L667.2,320.6 L667.6,320.6 L668.0,320.6 L668.3,320.6 L668.7,320.6 L669.1,320.6 L669.5,320.6 L669.8,320.6 L670.2,320.6 L670.6,320.6 L670.9,320.6 L671.3,320.6 L671.7,320.6 L672.0,320.6 L672.4,320.6 L672.8,320.6 L673.2,320.6 L673.5,320.6 L673.9,320.6 L674.3,320.6 L674.6,320.6 L675.0,320.6 L675.4,320.6 L675.8,320.6 L676.1,320.6 L676.5,320.6" fill="none" stroke="#82a9e2" stroke-width="1.3"/>
<path d="M491.0,320.3 L491.4,320.2 L491.7,320.2 L492.1,320.2 L492.5,320.2 L492.9,320.2 L493.2,320.2 L493.6,320.2 L494.0,320.2 L494.3,320.2 L494.7,320.2 L495.1,320.2 L495.5,320.2 L495.8,320.2 L496.2,320.2 L496.6,320.2 L496.9,320.2 L497.3,320.2 L497.7,320.2 L498.0,320.2 L498.4,320.2 L498.8,320.2 L499.2,320.2 L499.5,320.2 L499.9,320.1 L500.3,320.1 L500.6,320.1 L501.0,320.1 L501.4,320.1 L501.8,320.1 L502.1,320.1 L502.5,320.1 L502.9,320.1 L503.2,320.1 L503.6,320.1 L504.0,320.1 L504.4,320.1 L504.7,320.1 L505.1,320.1 L505.5,320.1 L505.8,320.0 L506.2,320.0 L506.6,320.0 L507.0,320.0 L507.3,320.0 L507.7,320.0 L508.1,320.0 L508.4,320.0 L508.8,320.0 L509.2,320.0 L509.6,320.0 L509.9,320.0 L510.3,319.9 L510.7,319.9 L511.0,319.9 L511.4,319.9 L511.8,319.9 L512.1,319.9 L512.5,319.9 L512.9,319.9 L513.3,319.9 L513.6,319.8 L514.0,319.8 L514.4,319.8 L514.7,319.8 L515.1,319.8 L515.5,319.8 L515.9,319.8 L516.2,319.8 L516.6,319.7 L517.0,319.7 L517.3,319.7 L517.7,319.7 L518.1,319.7 L518.5,319.7 L518.8,319.7 L519.2,319.6 L519.6,319.6 L519.9,319.6 L520.3,319.6 L520.7,319.6 L521.1,319.5 L521.4,319.5 L521.8,319.5 L522.2,319.5 L522.5,319.5 L522.9,319.4 L523.3,319.4 L523.6,319.4 L524.0,319.4 L524.4,319.3 L524.8,319.3 L525.1,319.3 L525.5,319.3 L525.9,319.2 L526.2,319.2 L526.6,319.2 L527.0,319.2 L527.4,319.1 L527.7,319.1 L528.1,319.1 L528.5,319.0 L528.8,319.0 L529.2,318.9 L529.6,318.9 L530.0,318.9 L530.3,318.8 L530.7,318.8 L531.1,318.7 L531.4,318.7 L531.8,318.6 L532.2,318.6 L532.6,318.5 L532.9,318.5 L533.3,318.4 L533.7,318.4 L534.0,318.3 L534.4,318.3 L534.8,318.2 L535.1,318.1 L535.5,318.1 L535.9,318.0 L536.3,317.9 L536.6,317.8 L537.0,317.7 L537.4,317.6 L537.7,317.6 L538.1,317.5 L538.5,317.4 L538.9,317.3 L539.2,317.1 L539.6,317.0 L540.0,316.9 L540.3,316.8 L540.7,316.6 L541.1,316.5 L541.5,316.4 L541.8,316.2 L542.2,316.0 L542.6,315.9 L542.9,315.7 L543.3,315.5 L543.7,315.3 L544.1,315.0 L544.4,314.8 L544.8,314.6 L545.2,314.3 L545.5,314.0 L545.9,313.7 L546.3,313.4 L546.6,313.0 L547.0,312.7 L547.4,312.3 L547.8,311.9 L548.1,311.4 L548.5,310.9 L548.9,310.4 L549.2,309.8 L549.6,309.2 L550.0,308.5 L550.4,307.8 L550.7,307.0 L551.1,306.1 L551.5,305.2 L551.8,304.1 L552.2,303.0 L552.6,301.8 L553.0,300.4 L553.3,298.9 L553.7,297.2 L554.1,295.4 L554.4,293.4 L554.8,291.2 L555.2,288.7 L555.6,286.0 L555.9,283.0 L556.3,279.7 L556.7,276.1 L557.0,272.2 L557.4,268.0 L557.8,263.6 L558.2,258.9 L558.5,254.1 L558.9,249.3 L559.3,244.7 L559.6,240.6 L560.0,237.1 L560.4,234.5 L560.7,232.9 L561.1,232.6 L561.5,233.6 L561.9,235.6 L562.2,238.7 L562.6,242.6 L563.0,247.0 L563.3,251.7 L563.7,256.5 L564.1,261.2 L564.5,265.8 L564.8,270.2 L565.2,274.2 L565.6,278.0 L565.9,281.4 L566.3,284.5 L566.7,287.4 L567.1,290.0 L567.4,292.3 L567.8,294.4 L568.2,296.3 L568.5,298.1 L568.9,299.7 L569.3,301.1 L569.7,302.4 L570.0,303.6 L570.4,304.7 L570.8,305.7 L571.1,306.6 L571.5,307.4 L571.9,308.1 L572.2,308.8 L572.6,309.5 L573.0,310.1 L573.4,310.6 L573.7,311.2 L574.1,311.6 L574.5,312.1 L574.8,312.5 L575.2,312.9 L575.6,313.2 L576.0,313.6 L576.3,313.9 L576.7,314.2 L577.1,314.4 L577.4,314.7 L577.8,314.9 L578.2,315.2 L578.6,315.4 L578.9,315.6 L579.3,315.8 L579.7,315.9 L580.0,316.1 L580.4,316.3 L580.8,316.4 L581.2,316.6 L581.5,316.7 L581.9,316.8 L582.3,317.0 L582.6,317.1 L583.0,317.2 L583.4,317.3 L583.8,317.4 L584.1,317.5 L584.5,317.6 L584.9,317.7 L585.2,317.8 L585.6,317.9 L586.0,317.9 L586.3,318.0 L586.7,318.1 L587.1,318.2 L587.5,318.2 L587.8,318.3 L588.2,318.3 L588.6,318.4 L588.9,318.5 L589.3,318.5 L589.7,318.6 L590.1,318.6 L590.4,318.7 L590.8,318.7 L591.2,318.8 L591.5,318.8 L591.9,318.8 L592.3,318.9 L592.7,318.9 L593.0,319.0 L593.4,319.0 L593.8,319.0 L594.1,319.1 L594.5,319.1 L594.9,319.1 L595.3,319.2 L595.6,319.2 L596.0,319.2 L596.4,319.3 L596.7,319.3 L597.1,319.3 L597.5,319.3 L597.8,319.4 L598.2,319.4 L598.6,319.4 L599.0,319.4 L599.3,319.5 L599.7,319.5 L600.1,319.5 L600.4,319.5 L600.8,319.5 L601.2,319.6 L601.6,319.6 L601.9,319.6 L602.3,319.6 L602.7,319.6 L603.0,319.6 L603.4,319.7 L603.8,319.7 L604.2,319.7 L604.5,319.7 L604.9,319.7 L605.3,319.7 L605.6,319.8 L606.0,319.8 L606.4,319.8 L606.8,319.8 L607.1,319.8 L607.5,319.8 L607.9,319.8 L608.2,319.8 L608.6,319.9 L609.0,319.9 L609.3,319.9 L609.7,319.9 L610.1,319.9 L610.5,319.9 L610.8,319.9 L611.2,319.9 L611.6,319.9 L611.9,319.9 L612.3,320.0 L612.7,320.0 L613.1,320.0 L613.4,320.0 L613.8,320.0 L614.2,320.0 L614.5,320.0 L614.9,320.0 L615.3,320.0 L615.7,320.0 L616.0,320.0 L616.4,320.0 L616.8,320.1 L617.1,320.1 L617.5,320.1 L617.9,320.1 L618.3,320.1 L618.6,320.1 L619.0,320.1 L619.4,320.1 L619.7,320.1 L620.1,320.1 L620.5,320.1 L620.9,320.1 L621.2,320.1 L621.6,320.1 L622.0,320.1 L622.3,320.1 L622.7,320.2 L623.1,320.2 L623.4,320.2 L623.8,320.2 L624.2,320.2 L624.6,320.2 L624.9,320.2 L625.3,320.2 L625.7,320.2 L626.0,320.2 L626.4,320.2 L626.8,320.2 L627.2,320.2 L627.5,320.2 L627.9,320.2 L628.3,320.2 L628.6,320.2 L629.0,320.2 L629.4,320.2 L629.8,320.2 L630.1,320.2 L630.5,320.2 L630.9,320.3 L631.2,320.3 L631.6,320.3 L632.0,320.3 L632.4,320.3 L632.7,320.3 L633.1,320.3 L633.5,320.3 L633.8,320.3 L634.2,320.3 L634.6,320.3 L634.9,320.3 L635.3,320.3 L635.7,320.3 L636.1,320.3 L636.4,320.3 L636.8,320.3 L637.2,320.3 L637.5,320.3 L637.9,320.3 L638.3,320.3 L638.7,320.3 L639.0,320.3 L639.4,320.3 L639.8,320.3 L640.1,320.3 L640.5,320.3 L640.9,320.3 L641.3,320.3 L641.6,320.3 L642.0,320.3 L642.4,320.3 L642.7,320.3 L643.1,320.3 L643.5,320.3 L643.9,320.4 L644.2,320.4 L644.6,320.4 L645.0,320.4 L645.3,320.4 L645.7,320.4 L646.1,320.4 L646.4,320.4 L646.8,320.4 L647.2,320.4 L647.6,320.4 L647.9,320.4 L648.3,320.4 L648.7,320.4 L649.0,320.4 L649.4,320.4 L649.8,320.4 L650.2,320.4 L650.5,320.4 L650.9,320.4 L651.3,320.4 L651.6,320.4 L652.0,320.4 L652.4,320.4 L652.8,320.4 L653.1,320.4 L653.5,320.4 L653.9,320.4 L654.2,320.4 L654.6,320.4 L655.0,320.4 L655.4,320.4 L655.7,320.4 L656.1,320.4 L656.5,320.4 L656.8,320.4 L657.2,320.4 L657.6,320.4 L658.0,320.4 L658.3,320.4 L658.7,320.4 L659.1,320.4 L659.4,320.4 L659.8,320.4 L660.2,320.4 L660.5,320.4 L660.9,320.4 L661.3,320.4 L661.7,320.4 L662.0,320.4 L662.4,320.4 L662.8,320.4 L663.1,320.4 L663.5,320.4 L663.9,320.4 L664.3,320.4 L664.6,320.4 L665.0,320.4 L665.4,320.4 L665.7,320.4 L666.1,320.4 L666.5,320.4 L666.9,320.4 L667.2,320.4 L667.6,320.4 L668.0,320.5 L668.3,320.5 L668.7,320.5 L669.1,320.5 L669.5,320.5 L669.8,320.5 L670.2,320.5 L670.6,320.5 L670.9,320.5 L671.3,320.5 L671.7,320.5 L672.0,320.5 L672.4,320.5 L672.8,320.5 L673.2,320.5 L673.5,320.5 L673.9,320.5 L674.3,320.5 L674.6,320.5 L675.0,320.5 L675.4,320.5 L675.8,320.5 L676.1,320.5 L676.5,320.5" fill="none" stroke="#ee78ee" stroke-width="1.3"/>
<line x1="561.03" y1="233.00" x2="561.03" y2="320.60" stroke="#999" stroke-width="0.7" stroke-dasharray="1 1.2"/>
<line x1="611.95" y1="234.00" x2="611.95" y2="320.60" stroke="#999" stroke-width="0.7" stroke-dasharray="1 1.2"/>
<rect x="491.00" y="189.00" width="185.50" height="149.20" fill="none" stroke="#000" stroke-width="1.3"/>
<line x1="514.19" y1="338.20" x2="514.19" y2="339.60" stroke="#000" stroke-width="0.9"/>
<line x1="560.56" y1="338.20" x2="560.56" y2="339.60" stroke="#000" stroke-width="0.9"/>
<line x1="606.94" y1="338.20" x2="606.94" y2="339.60" stroke="#000" stroke-width="0.9"/>
<line x1="653.31" y1="338.20" x2="653.31" y2="339.60" stroke="#000" stroke-width="0.9"/>
<line x1="491.00" y1="338.20" x2="491.00" y2="340.40" stroke="#000" stroke-width="0.9"/>
<text x="491.00" y="350.50" font-size="8.8" font-weight="bold" text-anchor="middle" fill="#000">-100</text>
<line x1="537.38" y1="338.20" x2="537.38" y2="340.40" stroke="#000" stroke-width="0.9"/>
<text x="537.38" y="350.50" font-size="8.8" font-weight="bold" text-anchor="middle" fill="#000">-50</text>
<line x1="583.75" y1="338.20" x2="583.75" y2="340.40" stroke="#000" stroke-width="0.9"/>
<text x="583.75" y="350.50" font-size="8.8" font-weight="bold" text-anchor="middle" fill="#000">0</text>
<line x1="630.12" y1="338.20" x2="630.12" y2="340.40" stroke="#000" stroke-width="0.9"/>
<text x="630.12" y="350.50" font-size="8.8" font-weight="bold" text-anchor="middle" fill="#000">50</text>
<line x1="676.50" y1="338.20" x2="676.50" y2="340.40" stroke="#000" stroke-width="0.9"/>
<text x="676.50" y="350.50" font-size="8.8" font-weight="bold" text-anchor="middle" fill="#000">100</text>
<text x="477.20" y="260.00" font-size="9.6" font-weight="bold" text-anchor="middle" fill="#000" transform="rotate(-90 477.20 260.00)">Total counts</text>
<text x="583.80" y="365.00" font-size="9.2" font-weight="bold" text-anchor="middle" fill="#000">Zeta potential (mV)</text>
<line x1="562.20" y1="200.70" x2="590.10" y2="200.70" stroke="#82a9e2" stroke-width="1.3"/>
<text x="595.20" y="203.30" font-size="10.8" font-weight="normal" text-anchor="start" fill="#000"><tspan font-style="italic">n</tspan>-Co(OH)<tspan font-size="7" dy="2.5">2</tspan><tspan dy="-2.5">@NF</tspan></text>
<line x1="562.20" y1="217.20" x2="590.10" y2="217.20" stroke="#ee78ee" stroke-width="1.3"/>
<text x="595.20" y="220.20" font-size="10.8" font-weight="normal" text-anchor="start" fill="#000"><tspan font-style="italic">n</tspan>-Co<tspan font-size="7.6" dy="2.70">3</tspan><tspan dy="-2.70">S</tspan><tspan font-size="7.6" dy="2.70">4</tspan><tspan dy="-2.70">@NF</tspan></text>
<text x="518.50" y="219.70" font-size="9.1" font-weight="bold" text-anchor="start" fill="#ee78ee">-24.5 mV</text>
<line x1="542.90" y1="223.20" x2="558.50" y2="231.30" stroke="#ee78ee" stroke-width="0.8"/>
<path d="M560.6,232.4 L556.6,231.6 L558.2,228.9 Z" fill="#ee78ee"/>
<text x="636.20" y="233.30" font-size="9.1" font-weight="bold" text-anchor="start" fill="#82a9e2">30.4 mV</text>
<line x1="633.80" y1="230.40" x2="615.00" y2="233.60" stroke="#82a9e2" stroke-width="0.8"/>
<path d="M612.8,233.9 L616.4,232.1 L616.8,235.0 Z" fill="#82a9e2"/>
<text x="5.00" y="379.60" font-size="18" font-weight="bold" text-anchor="start" fill="#000">g</text>
<path d="M59.7,529.8 L61.3,526.4 L62.9,523.0 L64.5,519.5 L66.1,516.1 L67.7,512.7 L69.4,509.3 L71.1,505.8 L72.8,502.4 L74.6,499.0 L76.4,495.6 L78.2,492.1 L80.1,488.7 L82.0,485.3 L84.0,481.9 L86.0,478.4 L88.0,475.0 L90.1,471.6 L92.3,468.2 L94.5,464.7 L96.7,461.3 L99.1,457.9 L101.5,454.5 L104.0,451.0 L106.5,447.6 L109.2,444.2 L112.0,440.8 L114.9,437.3 L117.9,433.9 L121.0,430.5 L124.3,427.1 L127.7,423.6 L131.4,420.2 L135.3,416.8 L139.5,413.4 L143.9,409.9 L148.7,406.5 L154.0,403.1 L159.8,399.7 L166.2,396.2 L166.2,396.2 L168.1,395.3 L169.9,394.5 L171.6,393.7 L173.3,392.9 L175.0,392.2 L176.6,391.5 L178.1,390.9 L179.6,390.3 L181.0,389.8 L182.4,389.2 L183.7,388.8 L185.0,388.3 L186.3,387.9 L187.4,387.5 L188.6,387.1 L189.7,386.8 L190.7,386.5 L191.7,386.2 L192.6,385.9 L193.5,385.6 L194.4,385.4 L195.2,385.2 L196.0,385.0 L196.8,384.8 L197.5,384.6 L198.2,384.5 L198.8,384.3 L199.4,384.2 L200.0,384.1 L200.6,384.0 L201.1,383.9 L201.6,383.8 L202.1,383.7 L202.5,383.7 L202.9,383.6 L203.3,383.5 L203.7,383.5 L204.1,383.4 L204.4,383.4 L204.7,383.4 L205.0,383.3 L205.3,383.3 L205.6,383.3 L205.8,383.2 L206.1,383.2 L206.3,383.2 L206.5,383.2 L206.7,383.1 L206.9,383.1 L207.1,383.1 L207.2,383.1 L207.4,383.1 L207.5,383.1 L207.7,383.1 L207.8,383.0 L207.9,383.0 L208.0,383.0 L208.1,383.0 L208.2,383.0 L208.3,383.0 L208.4,383.0 L208.5,383.0 L208.6,383.0 L208.7,383.0 L208.7,383.0 L208.8,383.0 L208.9,383.0 L208.9,383.0 L209.0,383.0 L209.0,383.0 L209.1,383.0 L209.1,382.9 L209.2,382.9 L209.2,382.9 L209.2,382.9 L209.3,382.9 L209.3,382.9 L209.3,382.9 L209.4,382.9 L209.4,382.9 L209.4,382.9 L209.4,382.9 L209.5,382.9 L209.5,382.9 L209.5,382.9 L209.5,382.9 L209.5,382.9 L209.6,382.9 L209.6,382.9 L209.6,382.9 L209.6,382.9 L209.6,382.9 L209.6,382.9 L209.6,382.9 L209.6,382.9 L209.6,382.9 L209.7,382.9 L209.7,382.9 L209.7,382.9 L209.7,382.9 L209.7,382.9 L209.7,382.9 L209.7,382.9 L209.7,382.9 L209.7,382.9 L209.7,382.9 L209.7,382.9 L209.7,382.9 L209.7,382.9 L209.7,382.9 L209.7,382.9 L209.7,382.9 L209.7,382.9 L209.8,382.9 L209.8,382.9 L209.8,382.9 L209.8,382.9 L209.8,382.9 L209.8,382.9 L210.6,382.5 L211.5,382.5 L212.4,382.5 L213.3,382.5 L214.2,382.5 L215.1,382.5 L216.0,382.5 L216.8,382.5 L217.7,382.5 L218.6,382.5 L219.5,382.5" fill="none" stroke="#5b97d8" stroke-width="1.1" stroke-linejoin="round"/>
<path d="M74.3,529.8 L74.9,526.4 L75.5,523.0 L76.1,519.5 L76.7,516.1 L77.3,512.7 L78.0,509.3 L78.6,505.8 L79.3,502.4 L80.0,499.0 L80.7,495.6 L81.4,492.1 L82.1,488.7 L82.9,485.3 L83.7,481.9 L84.5,478.4 L85.3,475.0 L86.1,471.6 L87.0,468.2 L87.9,464.7 L88.8,461.3 L89.8,457.9 L90.7,454.5 L91.8,451.0 L92.8,447.6 L94.0,444.2 L95.1,440.8 L96.4,437.3 L97.7,433.9 L99.1,430.5 L100.5,427.1 L102.1,423.6 L103.8,420.2 L105.6,416.8 L107.6,413.4 L109.8,409.9 L112.2,406.5 L115.0,403.1 L118.2,399.7 L122.1,396.2 L122.1,396.2 L123.3,395.3 L124.5,394.5 L125.7,393.7 L126.8,392.9 L128.0,392.2 L129.2,391.5 L130.4,390.9 L131.5,390.3 L132.7,389.8 L133.9,389.3 L135.0,388.8 L136.2,388.3 L137.4,387.9 L138.5,387.5 L139.7,387.2 L140.8,386.9 L142.0,386.6 L143.1,386.3 L144.3,386.1 L145.4,385.9 L146.6,385.7 L147.7,385.5 L148.9,385.3 L150.0,385.2 L151.2,385.1 L152.3,385.0 L153.5,384.9 L154.6,384.8 L155.8,384.8 L156.9,384.7 L158.1,384.6 L159.2,384.6 L160.4,384.6 L161.5,384.5 L162.7,384.5 L163.8,384.5 L164.9,384.4 L166.1,384.4 L167.2,384.4 L168.4,384.4 L169.5,384.4 L170.6,384.4 L171.8,384.4 L172.9,384.3 L174.1,384.3 L175.2,384.3 L176.4,384.3 L177.5,384.3 L178.6,384.3 L179.8,384.3 L180.9,384.3 L182.1,384.3 L183.2,384.3 L184.3,384.3 L185.5,384.3 L186.6,384.3 L187.8,384.3 L188.9,384.3 L190.0,384.3 L191.2,384.3 L192.3,384.3 L193.5,384.3 L194.6,384.2 L195.7,384.2 L196.9,384.2 L198.0,384.2 L199.2,384.2 L200.3,384.2 L201.4,384.2 L202.6,384.2 L203.7,384.2 L204.9,384.2 L206.0,384.2 L207.1,384.2 L208.3,384.2 L209.4,384.2 L210.5,384.2 L211.7,384.2 L212.8,384.2 L214.0,384.2 L215.1,384.2 L216.2,384.2 L217.4,384.2 L218.5,384.2 L218.6,384.1 L218.7,384.1 L218.8,384.1 L218.9,384.1 L219.0,384.1 L219.1,384.1 L219.1,384.1 L219.2,384.1 L219.3,384.1 L219.4,384.1 L219.5,384.1" fill="none" stroke="#ff72ff" stroke-width="1.1" stroke-linejoin="round"/>
<path d="M87.5,529.8 L88.0,526.4 L88.6,523.0 L89.1,519.5 L89.7,516.1 L90.3,512.7 L90.9,509.3 L91.5,505.8 L92.1,502.4 L92.7,499.0 L93.4,495.6 L94.0,492.1 L94.7,488.7 L95.4,485.3 L96.1,481.9 L96.9,478.4 L97.6,475.0 L98.4,471.6 L99.2,468.2 L100.0,464.7 L100.8,461.3 L101.7,457.9 L102.6,454.5 L103.6,451.0 L104.6,447.6 L105.6,444.2 L106.7,440.8 L107.8,437.3 L109.0,433.9 L110.3,430.5 L111.6,427.1 L113.0,423.6 L114.6,420.2 L116.2,416.8 L118.1,413.4 L120.1,409.9 L122.3,406.5 L124.9,403.1 L127.8,399.7 L131.4,396.2 L131.4,396.2 L132.5,395.3 L133.5,394.5 L134.6,393.7 L135.7,392.9 L136.8,392.2 L137.8,391.5 L138.9,390.9 L140.0,390.3 L141.0,389.8 L142.1,389.3 L143.2,388.8 L144.2,388.3 L145.3,387.9 L146.3,387.6 L147.4,387.2 L148.4,386.9 L149.5,386.6 L150.6,386.4 L151.6,386.1 L152.7,385.9 L153.7,385.8 L154.8,385.6 L155.8,385.5 L156.9,385.3 L157.9,385.2 L159.0,385.1 L160.0,385.1 L161.0,385.0 L162.1,384.9 L163.1,384.9 L164.2,384.8 L165.2,384.8 L166.3,384.8 L167.3,384.7 L168.4,384.7 L169.4,384.7 L170.4,384.7 L171.5,384.7 L172.5,384.6 L173.6,384.6 L174.6,384.6 L175.7,384.6 L176.7,384.6 L177.7,384.6 L178.8,384.6 L179.8,384.6 L180.9,384.6 L181.9,384.6 L182.9,384.6 L184.0,384.6 L185.0,384.5 L186.1,384.5 L187.1,384.5 L188.1,384.5 L189.2,384.5 L190.2,384.5 L191.3,384.5 L192.3,384.5 L193.3,384.5 L194.4,384.5 L195.4,384.5 L196.5,384.5 L197.5,384.5 L198.5,384.5 L199.6,384.5 L200.6,384.5 L201.7,384.5 L202.7,384.5 L203.7,384.5 L204.8,384.5 L205.8,384.5 L206.8,384.5 L207.9,384.5 L208.9,384.5 L210.0,384.5 L211.0,384.5 L212.0,384.5 L213.1,384.5 L214.1,384.5 L215.2,384.5 L216.2,384.5 L217.2,384.5 L218.3,384.5 L219.3,384.5 L219.3,384.4 L219.3,384.4 L219.4,384.4 L219.4,384.4 L219.4,384.4 L219.4,384.4 L219.4,384.4 L219.4,384.4 L219.5,384.4 L219.5,384.4 L219.5,384.4" fill="none" stroke="#ff72ff" stroke-width="1.2" stroke-linejoin="round" stroke-dasharray="1.3 2.1"/>
<path d="M91.7,529.8 L93.5,526.4 L95.2,523.0 L97.0,519.5 L98.8,516.1 L100.6,512.7 L102.4,509.3 L104.2,505.8 L106.0,502.4 L107.8,499.0 L109.7,495.6 L111.5,492.1 L113.4,488.7 L115.3,485.3 L117.2,481.9 L119.1,478.4 L121.0,475.0 L123.0,471.6 L125.0,468.2 L127.0,464.7 L129.0,461.3 L131.0,457.9 L133.1,454.5 L135.2,451.0 L137.3,447.6 L139.5,444.2 L141.7,440.8 L144.0,437.3 L146.3,433.9 L148.6,430.5 L151.1,427.1 L153.6,423.6 L156.1,420.2 L158.8,416.8 L161.6,413.4 L164.6,409.9 L167.7,406.5 L171.0,403.1 L174.6,399.7 L178.6,396.2 L178.6,396.2 L179.8,395.3 L180.9,394.5 L181.9,393.7 L183.0,392.9 L184.0,392.2 L185.0,391.5 L186.0,390.9 L186.9,390.3 L187.8,389.8 L188.7,389.2 L189.5,388.8 L190.4,388.3 L191.2,387.9 L191.9,387.5 L192.7,387.1 L193.4,386.8 L194.1,386.5 L194.8,386.2 L195.4,385.9 L196.1,385.7 L196.7,385.4 L197.3,385.2 L197.8,385.0 L198.4,384.9 L198.9,384.7 L199.4,384.6 L199.9,384.4 L200.3,384.3 L200.8,384.2 L201.2,384.1 L201.6,384.0 L202.0,384.0 L202.4,383.9 L202.7,383.8 L203.1,383.8 L203.4,383.7 L203.7,383.7 L204.0,383.6 L204.3,383.6 L204.5,383.6 L204.8,383.5 L205.0,383.5 L205.3,383.5 L205.5,383.5 L205.7,383.4 L205.9,383.4 L206.1,383.4 L206.2,383.4 L206.4,383.4 L206.6,383.4 L206.7,383.4 L206.8,383.3 L207.0,383.3 L207.1,383.3 L207.2,383.3 L207.3,383.3 L207.4,383.3 L207.5,383.3 L207.6,383.3 L207.7,383.3 L207.8,383.3 L207.9,383.3 L207.9,383.3 L208.0,383.3 L208.1,383.3 L208.1,383.3 L208.2,383.3 L208.3,383.2 L208.3,383.2 L208.4,383.2 L208.4,383.2 L208.4,383.2 L208.5,383.2 L208.5,383.2 L208.6,383.2 L208.6,383.2 L208.6,383.2 L208.7,383.2 L208.7,383.2 L208.7,383.2 L208.7,383.2 L208.8,383.2 L208.8,383.2 L208.8,383.2 L208.8,383.2 L208.8,383.2 L208.8,383.2 L208.9,383.2 L208.9,383.2 L208.9,383.2 L208.9,383.2 L208.9,383.2 L208.9,383.2 L208.9,383.2 L208.9,383.2 L209.0,383.2 L209.0,383.2 L209.0,383.2 L209.0,383.2 L209.0,383.2 L209.0,383.2 L209.0,383.2 L209.0,383.2 L209.0,383.2 L209.0,383.2 L209.0,383.2 L209.0,383.2 L209.0,383.2 L209.0,383.2 L209.0,383.2 L209.0,383.2 L209.0,383.2 L209.1,383.2 L209.1,383.2 L209.1,383.2 L209.1,383.2 L209.1,383.2 L209.1,383.2 L209.1,383.2 L210.0,382.9 L211.0,382.9 L211.9,382.9 L212.9,382.9 L213.8,382.9 L214.8,382.9 L215.7,382.9 L216.7,382.9 L217.6,382.9 L218.6,382.9 L219.5,382.9" fill="none" stroke="#5b97d8" stroke-width="1.2" stroke-linejoin="round" stroke-dasharray="1.3 2.1"/>
<rect x="35.00" y="381.40" width="184.50" height="148.40" fill="none" stroke="#000" stroke-width="1.3"/>
<line x1="71.90" y1="529.80" x2="71.90" y2="531.20" stroke="#000" stroke-width="0.9"/>
<line x1="108.80" y1="529.80" x2="108.80" y2="531.20" stroke="#000" stroke-width="0.9"/>
<line x1="145.70" y1="529.80" x2="145.70" y2="531.20" stroke="#000" stroke-width="0.9"/>
<line x1="182.60" y1="529.80" x2="182.60" y2="531.20" stroke="#000" stroke-width="0.9"/>
<line x1="53.45" y1="529.80" x2="53.45" y2="532.00" stroke="#000" stroke-width="0.9"/>
<text x="53.45" y="542.00" font-size="8.8" font-weight="bold" text-anchor="middle" fill="#000">-0.4</text>
<line x1="90.35" y1="529.80" x2="90.35" y2="532.00" stroke="#000" stroke-width="0.9"/>
<text x="90.35" y="542.00" font-size="8.8" font-weight="bold" text-anchor="middle" fill="#000">-0.3</text>
<line x1="127.25" y1="529.80" x2="127.25" y2="532.00" stroke="#000" stroke-width="0.9"/>
<text x="127.25" y="542.00" font-size="8.8" font-weight="bold" text-anchor="middle" fill="#000">-0.2</text>
<line x1="164.15" y1="529.80" x2="164.15" y2="532.00" stroke="#000" stroke-width="0.9"/>
<text x="164.15" y="542.00" font-size="8.8" font-weight="bold" text-anchor="middle" fill="#000">-0.1</text>
<line x1="201.05" y1="529.80" x2="201.05" y2="532.00" stroke="#000" stroke-width="0.9"/>
<text x="201.05" y="542.00" font-size="8.8" font-weight="bold" text-anchor="middle" fill="#000">0.0</text>
<line x1="33.60" y1="399.95" x2="35.00" y2="399.95" stroke="#000" stroke-width="0.9"/>
<line x1="33.60" y1="437.05" x2="35.00" y2="437.05" stroke="#000" stroke-width="0.9"/>
<line x1="33.60" y1="474.15" x2="35.00" y2="474.15" stroke="#000" stroke-width="0.9"/>
<line x1="33.60" y1="511.25" x2="35.00" y2="511.25" stroke="#000" stroke-width="0.9"/>
<line x1="31.60" y1="381.40" x2="35.00" y2="381.40" stroke="#000" stroke-width="0.9"/>
<text x="29.80" y="384.40" font-size="9.0" font-weight="bold" text-anchor="end" fill="#000">0</text>
<line x1="31.60" y1="418.50" x2="35.00" y2="418.50" stroke="#000" stroke-width="0.9"/>
<text x="29.80" y="421.50" font-size="9.0" font-weight="bold" text-anchor="end" fill="#000">-100</text>
<line x1="31.60" y1="455.60" x2="35.00" y2="455.60" stroke="#000" stroke-width="0.9"/>
<text x="29.80" y="458.60" font-size="9.0" font-weight="bold" text-anchor="end" fill="#000">-200</text>
<line x1="31.60" y1="492.70" x2="35.00" y2="492.70" stroke="#000" stroke-width="0.9"/>
<text x="29.80" y="495.70" font-size="9.0" font-weight="bold" text-anchor="end" fill="#000">-300</text>
<line x1="31.60" y1="529.80" x2="35.00" y2="529.80" stroke="#000" stroke-width="0.9"/>
<text x="29.80" y="532.80" font-size="9.0" font-weight="bold" text-anchor="end" fill="#000">-400</text>
<text x="9.60" y="455.90" font-size="8.3" font-weight="bold" text-anchor="middle" fill="#000" transform="rotate(-90 9.60 455.90)">Current density (mA cm<tspan font-size="5.8" dy="-2.91">-2</tspan><tspan dy="2.91">)</tspan></text>
<text x="122.30" y="557.50" font-size="9.74" font-weight="bold" text-anchor="middle" fill="#000">Potential (V vs. RHE)</text>
<text x="115.50" y="471.40" font-size="10.2" font-weight="normal" text-anchor="start" fill="#000">1 M NaOH seawater</text>
<line x1="115.50" y1="478.70" x2="142.90" y2="478.70" stroke="#5b97d8" stroke-width="1.3"/>
<text x="152.90" y="484.60" font-size="10" font-weight="normal" text-anchor="start" fill="#9ab8ee">Pt/C/NF</text>
<line x1="115.50" y1="489.10" x2="142.90" y2="489.10" stroke="#ff72ff" stroke-width="1.3"/>
<text x="152.90" y="493.40" font-size="10" font-weight="normal" text-anchor="start" fill="#e98de9"><tspan font-style="italic">n</tspan>-Co<tspan font-size="7.0" dy="2.50">3</tspan><tspan dy="-2.50">S</tspan><tspan font-size="7.0" dy="2.50">4</tspan><tspan dy="-2.50">@NF</tspan></text>
<text x="115.50" y="504.30" font-size="10.2" font-weight="normal" text-anchor="start" fill="#000">1 M NaOH</text>
<line x1="115.50" y1="510.70" x2="142.90" y2="510.70" stroke="#5b97d8" stroke-width="1.3" stroke-dasharray="5.5 4"/>
<text x="153.80" y="516.10" font-size="10" font-weight="normal" text-anchor="start" fill="#9ab8ee">Pt/C/NF</text>
<line x1="115.50" y1="519.80" x2="142.90" y2="519.80" stroke="#ff72ff" stroke-width="1.3" stroke-dasharray="5.5 4"/>
<text x="152.90" y="525.60" font-size="10" font-weight="normal" text-anchor="start" fill="#e98de9"><tspan font-style="italic">n</tspan>-Co<tspan font-size="7.0" dy="2.50">3</tspan><tspan dy="-2.50">S</tspan><tspan font-size="7.0" dy="2.50">4</tspan><tspan dy="-2.50">@NF</tspan></text>
<text x="232.30" y="382.50" font-size="18" font-weight="bold" text-anchor="start" fill="#000">h</text>
<line x1="292.40" y1="509.16" x2="423.40" y2="413.33" stroke="#b4b4b4" stroke-width="1.25"/>
<circle cx="292.40" cy="508.90" r="3.3" fill="url(#sB)"/>
<circle cx="318.60" cy="490.20" r="3.3" fill="url(#sB)"/>
<circle cx="344.80" cy="471.88" r="3.3" fill="url(#sB)"/>
<circle cx="371.00" cy="451.38" r="3.3" fill="url(#sB)"/>
<circle cx="397.20" cy="433.06" r="3.3" fill="url(#sB)"/>
<circle cx="423.40" cy="413.59" r="3.3" fill="url(#sB)"/>
<rect x="266.20" y="379.80" width="183.40" height="147.80" fill="none" stroke="#000" stroke-width="1.3"/>
<line x1="292.40" y1="527.60" x2="292.40" y2="529.00" stroke="#000" stroke-width="0.9"/>
<line x1="344.80" y1="527.60" x2="344.80" y2="529.00" stroke="#000" stroke-width="0.9"/>
<line x1="397.20" y1="527.60" x2="397.20" y2="529.00" stroke="#000" stroke-width="0.9"/>
<line x1="449.60" y1="527.60" x2="449.60" y2="529.00" stroke="#000" stroke-width="0.9"/>
<line x1="266.20" y1="527.60" x2="266.20" y2="529.80" stroke="#000" stroke-width="0.9"/>
<text x="266.20" y="539.50" font-size="8.8" font-weight="bold" text-anchor="middle" fill="#000">0</text>
<line x1="318.60" y1="527.60" x2="318.60" y2="529.80" stroke="#000" stroke-width="0.9"/>
<text x="318.60" y="539.50" font-size="8.8" font-weight="bold" text-anchor="middle" fill="#000">20</text>
<line x1="371.00" y1="527.60" x2="371.00" y2="529.80" stroke="#000" stroke-width="0.9"/>
<text x="371.00" y="539.50" font-size="8.8" font-weight="bold" text-anchor="middle" fill="#000">40</text>
<line x1="423.40" y1="527.60" x2="423.40" y2="529.80" stroke="#000" stroke-width="0.9"/>
<text x="423.40" y="539.50" font-size="8.8" font-weight="bold" text-anchor="middle" fill="#000">60</text>
<line x1="264.80" y1="514.70" x2="266.20" y2="514.70" stroke="#000" stroke-width="0.9"/>
<line x1="264.80" y1="488.91" x2="266.20" y2="488.91" stroke="#000" stroke-width="0.9"/>
<line x1="264.80" y1="463.11" x2="266.20" y2="463.11" stroke="#000" stroke-width="0.9"/>
<line x1="264.80" y1="437.32" x2="266.20" y2="437.32" stroke="#000" stroke-width="0.9"/>
<line x1="264.80" y1="411.53" x2="266.20" y2="411.53" stroke="#000" stroke-width="0.9"/>
<line x1="264.80" y1="385.73" x2="266.20" y2="385.73" stroke="#000" stroke-width="0.9"/>
<line x1="263.20" y1="527.60" x2="266.20" y2="527.60" stroke="#000" stroke-width="0.9"/>
<text x="261.10" y="530.60" font-size="8.8" font-weight="bold" text-anchor="end" fill="#000">0</text>
<line x1="263.20" y1="501.81" x2="266.20" y2="501.81" stroke="#000" stroke-width="0.9"/>
<text x="261.10" y="504.81" font-size="8.8" font-weight="bold" text-anchor="end" fill="#000">20</text>
<line x1="263.20" y1="476.01" x2="266.20" y2="476.01" stroke="#000" stroke-width="0.9"/>
<text x="261.10" y="479.01" font-size="8.8" font-weight="bold" text-anchor="end" fill="#000">40</text>
<line x1="263.20" y1="450.22" x2="266.20" y2="450.22" stroke="#000" stroke-width="0.9"/>
<text x="261.10" y="453.22" font-size="8.8" font-weight="bold" text-anchor="end" fill="#000">60</text>
<line x1="263.20" y1="424.42" x2="266.20" y2="424.42" stroke="#000" stroke-width="0.9"/>
<text x="261.10" y="427.42" font-size="8.8" font-weight="bold" text-anchor="end" fill="#000">80</text>
<line x1="263.20" y1="398.63" x2="266.20" y2="398.63" stroke="#000" stroke-width="0.9"/>
<text x="261.10" y="401.63" font-size="8.8" font-weight="bold" text-anchor="end" fill="#000">100</text>
<text x="241.80" y="454.00" font-size="9.4" font-weight="bold" text-anchor="middle" fill="#000" transform="rotate(-90 241.80 454.00)">Gas Production (mL)</text>
<text x="358.50" y="554.30" font-size="8.85" font-weight="bold" text-anchor="middle" fill="#000">Time (minute)</text>
<text x="276.40" y="397.80" font-size="10.8" font-weight="normal" text-anchor="start" fill="#000">1 M NaOH seawater</text>
<text x="276.40" y="439.80" font-size="9.8" font-weight="normal" text-anchor="start" fill="#000"><tspan font-style="italic">V</tspan>(<tspan font-style="italic">H</tspan><tspan font-size="6.5" dy="2">2</tspan><tspan dy="-2">)</tspan></text>
<text x="305.00" y="439.80" font-size="9.8" font-weight="normal" text-anchor="start" fill="#000">=</text>
<line x1="313.00" y1="437.10" x2="334.40" y2="437.10" stroke="#222" stroke-width="0.7"/>
<text x="323.70" y="433.30" font-size="9.8" font-weight="normal" text-anchor="middle" fill="#000" font-style="italic">It</text>
<text x="323.70" y="446.00" font-size="9.8" font-weight="normal" text-anchor="middle" fill="#000">2<tspan font-style="italic">eNA</tspan></text>
<text x="335.90" y="439.80" font-size="9.506" font-weight="normal" text-anchor="start" fill="#000">24.0 <tspan font-style="italic">L</tspan>/<tspan font-style="italic">mol</tspan></text>
<text x="363.20" y="472.40" font-size="14" font-weight="normal" text-anchor="start" fill="#3a72b6" textLength="55.2" lengthAdjust="spacingAndGlyphs">FE=99.1%</text>
<circle cx="382.40" cy="506.30" r="3.3" fill="url(#sB)"/>
<text x="393.50" y="509.20" font-size="8.3" font-weight="bold" text-anchor="start" fill="#000">Experimental</text>
<line x1="374.10" y1="517.00" x2="390.60" y2="517.00" stroke="#b4b4b4" stroke-width="1.25"/>
<text x="393.50" y="519.80" font-size="8.3" font-weight="bold" text-anchor="start" fill="#000">Theoretical</text>
<text x="458.80" y="385.40" font-size="18" font-weight="bold" text-anchor="start" fill="#000">i</text>
<path d="M495.0,414.6 L495.8,416.5 L496.7,417.2 L497.5,418.1 L498.3,417.9 L499.2,417.9 L500.0,418.0 L500.8,418.1 L501.7,418.1 L502.5,418.2 L503.4,418.4 L504.2,418.0 L505.0,418.0 L505.9,417.9 L506.7,418.3 L507.5,418.4 L508.4,418.4 L509.2,418.6 L510.0,418.1 L510.9,418.5 L511.7,418.5 L512.5,418.3 L513.4,417.9 L514.2,418.1 L515.1,418.3 L515.9,418.2 L516.7,417.9 L517.6,418.0 L518.4,418.1 L519.2,417.9 L520.1,417.7 L520.9,417.4 L521.7,418.0 L522.6,417.8 L523.4,417.8 L524.2,418.1 L525.1,417.7 L525.9,417.7 L526.8,417.2 L527.6,417.5 L528.4,417.8 L529.3,417.3 L530.1,417.5 L530.9,417.8 L531.8,417.5 L532.6,417.5 L533.4,417.6 L534.3,417.5 L535.1,418.0 L535.9,417.6 L536.8,417.4 L537.6,417.5 L538.5,417.5 L539.3,417.5 L540.1,417.5 L541.0,418.1 L541.8,417.8 L542.6,418.4 L543.5,418.2 L544.3,418.6 L545.1,418.1 L546.0,418.1 L546.8,418.5 L547.6,418.1 L548.5,418.7 L549.3,418.6 L550.2,418.6 L551.0,418.9 L551.8,418.7 L552.7,418.4 L553.5,419.1 L554.3,418.7 L555.2,419.0 L556.0,418.6 L556.8,418.9 L557.7,418.8 L558.5,418.8 L559.3,418.9 L560.2,419.2 L561.0,418.6 L561.8,419.2 L562.7,418.8 L563.5,418.7 L564.4,419.0 L565.2,418.7 L566.0,418.5 L566.9,418.7 L567.7,418.8 L568.5,419.1 L569.4,418.7 L570.2,418.6 L571.0,418.5 L571.9,418.5 L572.7,418.2 L573.5,418.4 L574.4,418.2 L575.2,418.0 L576.1,418.3 L576.9,418.2 L577.7,417.7 L578.6,417.9 L579.4,418.3 L580.2,418.1 L581.1,418.0 L581.9,417.9 L582.7,418.1 L583.6,418.3 L584.4,418.3 L585.2,418.1 L586.1,418.2 L586.9,418.4 L587.8,418.4 L588.6,418.5 L589.4,418.4 L590.3,418.7 L591.1,418.6 L591.9,418.6 L592.8,418.7 L593.6,419.0 L594.4,418.7 L595.3,419.2 L596.1,419.0 L596.9,419.3 L597.8,419.6 L598.6,419.3 L599.5,419.3 L600.3,419.4 L601.1,419.4 L602.0,419.6 L602.8,419.7 L603.6,419.6 L604.5,419.2 L605.3,419.5 L606.1,419.7 L607.0,419.5 L607.8,419.7 L608.6,419.7 L609.5,419.5 L610.3,419.7 L611.2,419.9 L612.0,419.7 L612.8,419.5 L613.7,419.4 L614.5,419.2 L615.3,419.5 L616.2,419.2 L617.0,419.2 L617.8,419.3 L618.7,419.0 L619.5,419.0 L620.3,419.2 L621.2,418.8 L622.0,419.2 L622.8,418.9 L623.7,418.9 L624.5,418.8 L625.4,419.0 L626.2,418.8 L627.0,418.8 L627.9,418.6 L628.7,418.9 L629.5,418.8 L630.4,418.8 L631.2,419.0 L632.0,418.3 L632.9,418.9 L633.7,419.2 L634.5,418.6 L635.4,419.2 L636.2,418.9 L637.1,418.9 L637.9,419.3 L638.7,419.3 L639.6,419.4 L640.4,419.4 L641.2,419.7 L642.1,419.7 L642.9,419.6 L643.7,419.4 L644.6,419.6 L645.4,419.4 L646.2,419.7 L647.1,420.0 L647.9,420.0 L648.8,420.4 L649.6,420.3 L650.4,420.4 L651.3,420.1 L652.1,420.1 L652.9,420.4 L653.8,420.4 L654.6,420.6 L655.4,420.3 L656.3,420.3 L657.1,420.2 L657.9,420.5 L658.8,419.9 L659.6,420.0 L660.5,420.3 L661.3,420.3 L662.1,420.3 L663.0,420.1 L663.8,420.1 L664.6,420.0 L665.5,419.9 L666.3,419.7 L667.1,419.7 L668.0,419.9 L668.8,419.7 L669.6,419.8 L670.5,419.8 L671.3,419.3 L672.2,419.7 L673.0,419.2 L673.8,419.6 L674.7,419.5 L675.5,419.3 L676.3,419.5 L677.2,419.4 L678.0,419.5" fill="none" stroke="#5b9bd5" stroke-width="4.2" stroke-linejoin="round"/>
<path d="M495.0,414.6 L495.8,416.5 L496.7,417.2 L497.5,418.1 L498.3,417.9 L499.2,417.9 L500.0,418.0 L500.8,418.1 L501.7,418.1 L502.5,418.2 L503.4,418.4 L504.2,418.0 L505.0,418.0 L505.9,417.9 L506.7,418.3 L507.5,418.4 L508.4,418.4 L509.2,418.6 L510.0,418.1 L510.9,418.5 L511.7,418.5 L512.5,418.3 L513.4,417.9 L514.2,418.1 L515.1,418.3 L515.9,418.2 L516.7,417.9 L517.6,418.0 L518.4,418.1 L519.2,417.9 L520.1,417.7 L520.9,417.4 L521.7,418.0 L522.6,417.8 L523.4,417.8 L524.2,418.1 L525.1,417.7 L525.9,417.7 L526.8,417.2 L527.6,417.5 L528.4,417.8 L529.3,417.3 L530.1,417.5 L530.9,417.8 L531.8,417.5 L532.6,417.5 L533.4,417.6 L534.3,417.5 L535.1,418.0 L535.9,417.6 L536.8,417.4 L537.6,417.5 L538.5,417.5 L539.3,417.5 L540.1,417.5 L541.0,418.1 L541.8,417.8 L542.6,418.4 L543.5,418.2 L544.3,418.6 L545.1,418.1 L546.0,418.1 L546.8,418.5 L547.6,418.1 L548.5,418.7 L549.3,418.6 L550.2,418.6 L551.0,418.9 L551.8,418.7 L552.7,418.4 L553.5,419.1 L554.3,418.7 L555.2,419.0 L556.0,418.6 L556.8,418.9 L557.7,418.8 L558.5,418.8 L559.3,418.9 L560.2,419.2 L561.0,418.6 L561.8,419.2 L562.7,418.8 L563.5,418.7 L564.4,419.0 L565.2,418.7 L566.0,418.5 L566.9,418.7 L567.7,418.8 L568.5,419.1 L569.4,418.7 L570.2,418.6 L571.0,418.5 L571.9,418.5 L572.7,418.2 L573.5,418.4 L574.4,418.2 L575.2,418.0 L576.1,418.3 L576.9,418.2 L577.7,417.7 L578.6,417.9 L579.4,418.3 L580.2,418.1 L581.1,418.0 L581.9,417.9 L582.7,418.1 L583.6,418.3 L584.4,418.3 L585.2,418.1 L586.1,418.2 L586.9,418.4 L587.8,418.4 L588.6,418.5 L589.4,418.4 L590.3,418.7 L591.1,418.6 L591.9,418.6 L592.8,418.7 L593.6,419.0 L594.4,418.7 L595.3,419.2 L596.1,419.0 L596.9,419.3 L597.8,419.6 L598.6,419.3 L599.5,419.3 L600.3,419.4 L601.1,419.4 L602.0,419.6 L602.8,419.7 L603.6,419.6 L604.5,419.2 L605.3,419.5 L606.1,419.7 L607.0,419.5 L607.8,419.7 L608.6,419.7 L609.5,419.5 L610.3,419.7 L611.2,419.9 L612.0,419.7 L612.8,419.5 L613.7,419.4 L614.5,419.2 L615.3,419.5 L616.2,419.2 L617.0,419.2 L617.8,419.3 L618.7,419.0 L619.5,419.0 L620.3,419.2 L621.2,418.8 L622.0,419.2 L622.8,418.9 L623.7,418.9 L624.5,418.8 L625.4,419.0 L626.2,418.8 L627.0,418.8 L627.9,418.6 L628.7,418.9 L629.5,418.8 L630.4,418.8 L631.2,419.0 L632.0,418.3 L632.9,418.9 L633.7,419.2 L634.5,418.6 L635.4,419.2 L636.2,418.9 L637.1,418.9 L637.9,419.3 L638.7,419.3 L639.6,419.4 L640.4,419.4 L641.2,419.7 L642.1,419.7 L642.9,419.6 L643.7,419.4 L644.6,419.6 L645.4,419.4 L646.2,419.7 L647.1,420.0 L647.9,420.0 L648.8,420.4 L649.6,420.3 L650.4,420.4 L651.3,420.1 L652.1,420.1 L652.9,420.4 L653.8,420.4 L654.6,420.6 L655.4,420.3 L656.3,420.3 L657.1,420.2 L657.9,420.5 L658.8,419.9 L659.6,420.0 L660.5,420.3 L661.3,420.3 L662.1,420.3 L663.0,420.1 L663.8,420.1 L664.6,420.0 L665.5,419.9 L666.3,419.7 L667.1,419.7 L668.0,419.9 L668.8,419.7 L669.6,419.8 L670.5,419.8 L671.3,419.3 L672.2,419.7 L673.0,419.2 L673.8,419.6 L674.7,419.5 L675.5,419.3 L676.3,419.5 L677.2,419.4 L678.0,419.5" fill="none" stroke="#a9c9ec" stroke-width="2.2" stroke-linejoin="round"/>
<path d="M495.0,414.6 L495.8,416.5 L496.7,417.2 L497.5,418.1 L498.3,417.9 L499.2,417.9 L500.0,418.0 L500.8,418.1 L501.7,418.1 L502.5,418.2 L503.4,418.4 L504.2,418.0 L505.0,418.0 L505.9,417.9 L506.7,418.3 L507.5,418.4 L508.4,418.4 L509.2,418.6 L510.0,418.1 L510.9,418.5 L511.7,418.5 L512.5,418.3 L513.4,417.9 L514.2,418.1 L515.1,418.3 L515.9,418.2 L516.7,417.9 L517.6,418.0 L518.4,418.1 L519.2,417.9 L520.1,417.7 L520.9,417.4 L521.7,418.0 L522.6,417.8 L523.4,417.8 L524.2,418.1 L525.1,417.7 L525.9,417.7 L526.8,417.2 L527.6,417.5 L528.4,417.8 L529.3,417.3 L530.1,417.5 L530.9,417.8 L531.8,417.5 L532.6,417.5 L533.4,417.6 L534.3,417.5 L535.1,418.0 L535.9,417.6 L536.8,417.4 L537.6,417.5 L538.5,417.5 L539.3,417.5 L540.1,417.5 L541.0,418.1 L541.8,417.8 L542.6,418.4 L543.5,418.2 L544.3,418.6 L545.1,418.1 L546.0,418.1 L546.8,418.5 L547.6,418.1 L548.5,418.7 L549.3,418.6 L550.2,418.6 L551.0,418.9 L551.8,418.7 L552.7,418.4 L553.5,419.1 L554.3,418.7 L555.2,419.0 L556.0,418.6 L556.8,418.9 L557.7,418.8 L558.5,418.8 L559.3,418.9 L560.2,419.2 L561.0,418.6 L561.8,419.2 L562.7,418.8 L563.5,418.7 L564.4,419.0 L565.2,418.7 L566.0,418.5 L566.9,418.7 L567.7,418.8 L568.5,419.1 L569.4,418.7 L570.2,418.6 L571.0,418.5 L571.9,418.5 L572.7,418.2 L573.5,418.4 L574.4,418.2 L575.2,418.0 L576.1,418.3 L576.9,418.2 L577.7,417.7 L578.6,417.9 L579.4,418.3 L580.2,418.1 L581.1,418.0 L581.9,417.9 L582.7,418.1 L583.6,418.3 L584.4,418.3 L585.2,418.1 L586.1,418.2 L586.9,418.4 L587.8,418.4 L588.6,418.5 L589.4,418.4 L590.3,418.7 L591.1,418.6 L591.9,418.6 L592.8,418.7 L593.6,419.0 L594.4,418.7 L595.3,419.2 L596.1,419.0 L596.9,419.3 L597.8,419.6 L598.6,419.3 L599.5,419.3 L600.3,419.4 L601.1,419.4 L602.0,419.6 L602.8,419.7 L603.6,419.6 L604.5,419.2 L605.3,419.5 L606.1,419.7 L607.0,419.5 L607.8,419.7 L608.6,419.7 L609.5,419.5 L610.3,419.7 L611.2,419.9 L612.0,419.7 L612.8,419.5 L613.7,419.4 L614.5,419.2 L615.3,419.5 L616.2,419.2 L617.0,419.2 L617.8,419.3 L618.7,419.0 L619.5,419.0 L620.3,419.2 L621.2,418.8 L622.0,419.2 L622.8,418.9 L623.7,418.9 L624.5,418.8 L625.4,419.0 L626.2,418.8 L627.0,418.8 L627.9,418.6 L628.7,418.9 L629.5,418.8 L630.4,418.8 L631.2,419.0 L632.0,418.3 L632.9,418.9 L633.7,419.2 L634.5,418.6 L635.4,419.2 L636.2,418.9 L637.1,418.9 L637.9,419.3 L638.7,419.3 L639.6,419.4 L640.4,419.4 L641.2,419.7 L642.1,419.7 L642.9,419.6 L643.7,419.4 L644.6,419.6 L645.4,419.4 L646.2,419.7 L647.1,420.0 L647.9,420.0 L648.8,420.4 L649.6,420.3 L650.4,420.4 L651.3,420.1 L652.1,420.1 L652.9,420.4 L653.8,420.4 L654.6,420.6 L655.4,420.3 L656.3,420.3 L657.1,420.2 L657.9,420.5 L658.8,419.9 L659.6,420.0 L660.5,420.3 L661.3,420.3 L662.1,420.3 L663.0,420.1 L663.8,420.1 L664.6,420.0 L665.5,419.9 L666.3,419.7 L667.1,419.7 L668.0,419.9 L668.8,419.7 L669.6,419.8 L670.5,419.8 L671.3,419.3 L672.2,419.7 L673.0,419.2 L673.8,419.6 L674.7,419.5 L675.5,419.3 L676.3,419.5 L677.2,419.4 L678.0,419.5" fill="none" stroke="#fff" stroke-width="1" stroke-dasharray="0.8 0.9" opacity="0.8"/>
<rect x="495.00" y="379.70" width="183.00" height="141.10" fill="none" stroke="#000" stroke-width="1.3"/>
<line x1="525.50" y1="520.80" x2="525.50" y2="522.20" stroke="#000" stroke-width="0.9"/>
<line x1="586.50" y1="520.80" x2="586.50" y2="522.20" stroke="#000" stroke-width="0.9"/>
<line x1="647.50" y1="520.80" x2="647.50" y2="522.20" stroke="#000" stroke-width="0.9"/>
<line x1="495.00" y1="520.80" x2="495.00" y2="523.00" stroke="#000" stroke-width="0.9"/>
<text x="495.00" y="532.30" font-size="8.8" font-weight="bold" text-anchor="middle" fill="#000">0</text>
<line x1="556.00" y1="520.80" x2="556.00" y2="523.00" stroke="#000" stroke-width="0.9"/>
<text x="556.00" y="532.30" font-size="8.8" font-weight="bold" text-anchor="middle" fill="#000">70</text>
<line x1="617.00" y1="520.80" x2="617.00" y2="523.00" stroke="#000" stroke-width="0.9"/>
<text x="617.00" y="532.30" font-size="8.8" font-weight="bold" text-anchor="middle" fill="#000">140</text>
<line x1="678.00" y1="520.80" x2="678.00" y2="523.00" stroke="#000" stroke-width="0.9"/>
<text x="678.00" y="532.30" font-size="8.8" font-weight="bold" text-anchor="middle" fill="#000">210</text>
<line x1="493.60" y1="394.74" x2="495.00" y2="394.74" stroke="#000" stroke-width="0.9"/>
<line x1="493.60" y1="424.83" x2="495.00" y2="424.83" stroke="#000" stroke-width="0.9"/>
<line x1="493.60" y1="454.91" x2="495.00" y2="454.91" stroke="#000" stroke-width="0.9"/>
<line x1="493.60" y1="485.00" x2="495.00" y2="485.00" stroke="#000" stroke-width="0.9"/>
<line x1="493.60" y1="515.08" x2="495.00" y2="515.08" stroke="#000" stroke-width="0.9"/>
<line x1="492.40" y1="379.70" x2="495.00" y2="379.70" stroke="#000" stroke-width="0.9"/>
<text x="490.50" y="382.70" font-size="8.8" font-weight="bold" text-anchor="end" fill="#000">0.0</text>
<line x1="492.40" y1="409.79" x2="495.00" y2="409.79" stroke="#000" stroke-width="0.9"/>
<text x="490.50" y="412.79" font-size="8.8" font-weight="bold" text-anchor="end" fill="#000">-0.3</text>
<line x1="492.40" y1="439.87" x2="495.00" y2="439.87" stroke="#000" stroke-width="0.9"/>
<text x="490.50" y="442.87" font-size="8.8" font-weight="bold" text-anchor="end" fill="#000">-0.6</text>
<line x1="492.40" y1="469.96" x2="495.00" y2="469.96" stroke="#000" stroke-width="0.9"/>
<text x="490.50" y="472.96" font-size="8.8" font-weight="bold" text-anchor="end" fill="#000">-0.9</text>
<line x1="492.40" y1="500.04" x2="495.00" y2="500.04" stroke="#000" stroke-width="0.9"/>
<text x="490.50" y="503.04" font-size="8.8" font-weight="bold" text-anchor="end" fill="#000">-1.2</text>
<text x="468.60" y="446.50" font-size="8.6" font-weight="bold" text-anchor="middle" fill="#000" transform="rotate(-90 468.60 446.50)">Potential (V vs. RHE)</text>
<text x="586.70" y="546.50" font-size="8.8" font-weight="bold" text-anchor="middle" fill="#000">Time (h)</text>
<text x="531.00" y="403.70" font-size="10.8" font-weight="normal" text-anchor="start" fill="#000">(1 M NaOH seawater)</text>
<text x="603.00" y="516.50" font-size="10.8" font-weight="normal" text-anchor="start" fill="#000">@ 100 mA cm<tspan font-size="7.6" dy="-3.78">-2</tspan><tspan dy="3.78"></tspan></text>
<rect x="508.3" y="426.8" width="97.1" height="77.4" fill="#fff" stroke="#111" stroke-width="0.8"/>
<line x1="508.30" y1="466.40" x2="605.40" y2="466.40" stroke="#111" stroke-width="0.8"/>
<path d="M508.9,457.5 L509.3,457.5 L509.7,457.5 L510.1,457.5 L510.5,457.5 L510.9,457.5 L511.3,457.5 L511.7,457.5 L512.1,457.5 L512.5,457.5 L512.9,457.5 L513.3,457.5 L513.7,457.5 L514.1,457.5 L514.5,457.5 L514.9,457.5 L515.3,457.5 L515.7,457.5 L516.1,457.5 L516.5,457.5 L516.9,457.5 L517.3,457.5 L517.7,457.4 L518.1,457.4 L518.5,457.4 L518.9,457.4 L519.3,457.4 L519.7,457.3 L520.1,457.3 L520.5,457.2 L520.9,457.2 L521.3,457.1 L521.7,457.0 L522.1,457.0 L522.5,456.9 L522.9,456.8 L523.3,456.7 L523.7,456.5 L524.1,456.4 L524.5,456.3 L525.0,456.1 L525.4,456.0 L525.8,455.9 L526.2,455.7 L526.6,455.6 L527.0,455.5 L527.4,455.4 L527.8,455.3 L528.2,455.2 L528.6,455.2 L529.0,455.1 L529.4,455.1 L529.8,455.1 L530.2,455.1 L530.6,455.2 L531.0,455.2 L531.4,455.3 L531.8,455.4 L532.2,455.5 L532.6,455.7 L533.0,455.8 L533.4,455.9 L533.8,456.1 L534.2,456.2 L534.6,456.3 L535.0,456.5 L535.4,456.6 L535.8,456.7 L536.2,456.8 L536.6,456.9 L537.0,457.0 L537.4,457.1 L537.8,457.1 L538.2,457.2 L538.6,457.3 L539.0,457.3 L539.4,457.3 L539.8,457.4 L540.2,457.4 L540.6,457.4 L541.0,457.4 L541.4,457.5 L541.8,457.5 L542.2,457.5 L542.6,457.5 L543.0,457.5 L543.4,457.5 L543.8,457.5 L544.2,457.5 L544.6,457.5 L545.0,457.5 L545.4,457.5 L545.8,457.5 L546.2,457.5 L546.6,457.5 L547.0,457.5 L547.4,457.5 L547.8,457.5 L548.2,457.5 L548.6,457.5 L549.0,457.5 L549.4,457.5 L549.8,457.5 L550.2,457.5 L550.6,457.5 L551.0,457.5 L551.4,457.5 L551.8,457.5 L552.2,457.5 L552.6,457.5 L553.0,457.5 L553.4,457.5 L553.8,457.5 L554.2,457.5 L554.6,457.5 L555.0,457.5 L555.4,457.5 L555.8,457.5 L556.2,457.5 L556.6,457.5 L557.1,457.5 L557.5,457.5 L557.9,457.5 L558.3,457.5 L558.7,457.5 L559.1,457.5 L559.5,457.5 L559.9,457.5 L560.3,457.5 L560.7,457.5 L561.1,457.5 L561.5,457.5 L561.9,457.5 L562.3,457.5 L562.7,457.5 L563.1,457.5 L563.5,457.5 L563.9,457.5 L564.3,457.5 L564.7,457.5 L565.1,457.5 L565.5,457.5 L565.9,457.5 L566.3,457.5 L566.7,457.5 L567.1,457.5 L567.5,457.5 L567.9,457.5 L568.3,457.5 L568.7,457.5 L569.1,457.5 L569.5,457.5 L569.9,457.5 L570.3,457.5 L570.7,457.5 L571.1,457.5 L571.5,457.5 L571.9,457.5 L572.3,457.5 L572.7,457.5 L573.1,457.5 L573.5,457.5 L573.9,457.5 L574.3,457.5 L574.7,457.5 L575.1,457.5 L575.5,457.5 L575.9,457.5 L576.3,457.5 L576.7,457.5 L577.1,457.5 L577.5,457.5 L577.9,457.5 L578.3,457.5 L578.7,457.5 L579.1,457.5 L579.5,457.5 L579.9,457.5 L580.3,457.5 L580.7,457.5 L581.1,457.5 L581.5,457.5 L581.9,457.5 L582.3,457.5 L582.7,457.5 L583.1,457.5 L583.5,457.5 L583.9,457.5 L584.3,457.5 L584.7,457.5 L585.1,457.5 L585.5,457.5 L585.9,457.5 L586.3,457.5 L586.7,457.5 L587.1,457.5 L587.5,457.5 L587.9,457.5 L588.3,457.5 L588.7,457.5 L589.2,457.5 L589.6,457.5 L590.0,457.5 L590.4,457.5 L590.8,457.5 L591.2,457.5 L591.6,457.5 L592.0,457.5 L592.4,457.5 L592.8,457.5 L593.2,457.5 L593.6,457.5 L594.0,457.5 L594.4,457.5 L594.8,457.5 L595.2,457.5 L595.6,457.5 L596.0,457.5 L596.4,457.5 L596.8,457.5 L597.2,457.5 L597.6,457.5 L598.0,457.5 L598.4,457.5 L598.8,457.5 L599.2,457.5 L599.6,457.5 L600.0,457.5 L600.4,457.5 L600.8,457.5 L601.2,457.5 L601.6,457.5 L602.0,457.5 L602.4,457.5 L602.8,457.5 L603.2,457.5 L603.6,457.5 L604.0,457.5 L604.4,457.5 L604.8,457.5 L604.8,457.5 L604.4,457.5 L604.0,457.5 L603.6,457.5 L603.2,457.5 L602.8,457.5 L602.4,457.5 L602.0,457.5 L601.6,457.5 L601.2,457.5 L600.8,457.5 L600.4,457.5 L600.0,457.5 L599.6,457.5 L599.2,457.5 L598.8,457.5 L598.4,457.5 L598.0,457.5 L597.6,457.5 L597.2,457.5 L596.8,457.5 L596.4,457.5 L596.0,457.5 L595.6,457.5 L595.2,457.5 L594.8,457.5 L594.4,457.5 L594.0,457.5 L593.6,457.5 L593.2,457.5 L592.8,457.5 L592.4,457.5 L592.0,457.5 L591.6,457.5 L591.2,457.5 L590.8,457.5 L590.4,457.5 L590.0,457.5 L589.6,457.5 L589.2,457.5 L588.7,457.5 L588.3,457.5 L587.9,457.5 L587.5,457.5 L587.1,457.5 L586.7,457.5 L586.3,457.5 L585.9,457.5 L585.5,457.5 L585.1,457.5 L584.7,457.5 L584.3,457.5 L583.9,457.5 L583.5,457.5 L583.1,457.5 L582.7,457.5 L582.3,457.5 L581.9,457.5 L581.5,457.5 L581.1,457.5 L580.7,457.5 L580.3,457.5 L579.9,457.5 L579.5,457.5 L579.1,457.5 L578.7,457.5 L578.3,457.5 L577.9,457.5 L577.5,457.5 L577.1,457.5 L576.7,457.5 L576.3,457.5 L575.9,457.5 L575.5,457.5 L575.1,457.5 L574.7,457.5 L574.3,457.5 L573.9,457.5 L573.5,457.5 L573.1,457.5 L572.7,457.5 L572.3,457.5 L571.9,457.5 L571.5,457.5 L571.1,457.5 L570.7,457.5 L570.3,457.5 L569.9,457.5 L569.5,457.5 L569.1,457.5 L568.7,457.5 L568.3,457.5 L567.9,457.5 L567.5,457.5 L567.1,457.5 L566.7,457.5 L566.3,457.5 L565.9,457.5 L565.5,457.5 L565.1,457.5 L564.7,457.5 L564.3,457.5 L563.9,457.5 L563.5,457.5 L563.1,457.5 L562.7,457.5 L562.3,457.5 L561.9,457.5 L561.5,457.5 L561.1,457.5 L560.7,457.5 L560.3,457.5 L559.9,457.5 L559.5,457.5 L559.1,457.5 L558.7,457.5 L558.3,457.5 L557.9,457.5 L557.5,457.5 L557.1,457.5 L556.6,457.5 L556.2,457.5 L555.8,457.5 L555.4,457.5 L555.0,457.5 L554.6,457.5 L554.2,457.5 L553.8,457.5 L553.4,457.5 L553.0,457.5 L552.6,457.5 L552.2,457.5 L551.8,457.5 L551.4,457.5 L551.0,457.5 L550.6,457.5 L550.2,457.5 L549.8,457.5 L549.4,457.5 L549.0,457.5 L548.6,457.5 L548.2,457.5 L547.8,457.5 L547.4,457.5 L547.0,457.5 L546.6,457.5 L546.2,457.5 L545.8,457.5 L545.4,457.5 L545.0,457.5 L544.6,457.5 L544.2,457.5 L543.8,457.5 L543.4,457.5 L543.0,457.5 L542.6,457.5 L542.2,457.5 L541.8,457.5 L541.4,457.5 L541.0,457.5 L540.6,457.5 L540.2,457.5 L539.8,457.5 L539.4,457.5 L539.0,457.5 L538.6,457.5 L538.2,457.5 L537.8,457.5 L537.4,457.5 L537.0,457.5 L536.6,457.5 L536.2,457.5 L535.8,457.5 L535.4,457.5 L535.0,457.5 L534.6,457.5 L534.2,457.5 L533.8,457.5 L533.4,457.5 L533.0,457.5 L532.6,457.5 L532.2,457.5 L531.8,457.5 L531.4,457.5 L531.0,457.5 L530.6,457.5 L530.2,457.5 L529.8,457.5 L529.4,457.5 L529.0,457.5 L528.6,457.5 L528.2,457.5 L527.8,457.5 L527.4,457.5 L527.0,457.5 L526.6,457.5 L526.2,457.5 L525.8,457.5 L525.4,457.5 L525.0,457.5 L524.5,457.5 L524.1,457.5 L523.7,457.5 L523.3,457.5 L522.9,457.5 L522.5,457.5 L522.1,457.5 L521.7,457.5 L521.3,457.5 L520.9,457.5 L520.5,457.5 L520.1,457.5 L519.7,457.5 L519.3,457.5 L518.9,457.5 L518.5,457.5 L518.1,457.5 L517.7,457.5 L517.3,457.5 L516.9,457.5 L516.5,457.5 L516.1,457.5 L515.7,457.5 L515.3,457.5 L514.9,457.5 L514.5,457.5 L514.1,457.5 L513.7,457.5 L513.3,457.5 L512.9,457.5 L512.5,457.5 L512.1,457.5 L511.7,457.5 L511.3,457.5 L510.9,457.5 L510.5,457.5 L510.1,457.5 L509.7,457.5 L509.3,457.5 L508.9,457.5Z" fill="#ecc0ee" stroke="#d37fd3" stroke-width="0.45" opacity="0.9"/>
<path d="M508.9,457.5 L509.3,457.5 L509.7,457.5 L510.1,457.5 L510.5,457.5 L510.9,457.5 L511.3,457.5 L511.7,457.5 L512.1,457.5 L512.5,457.5 L512.9,457.5 L513.3,457.5 L513.7,457.5 L514.1,457.5 L514.5,457.5 L514.9,457.5 L515.3,457.5 L515.7,457.5 L516.1,457.5 L516.5,457.5 L516.9,457.5 L517.3,457.5 L517.7,457.5 L518.1,457.5 L518.5,457.5 L518.9,457.5 L519.3,457.5 L519.7,457.5 L520.1,457.5 L520.5,457.5 L520.9,457.5 L521.3,457.5 L521.7,457.5 L522.1,457.5 L522.5,457.5 L522.9,457.5 L523.3,457.5 L523.7,457.5 L524.1,457.5 L524.5,457.5 L525.0,457.5 L525.4,457.5 L525.8,457.5 L526.2,457.5 L526.6,457.5 L527.0,457.5 L527.4,457.5 L527.8,457.5 L528.2,457.5 L528.6,457.5 L529.0,457.5 L529.4,457.5 L529.8,457.5 L530.2,457.5 L530.6,457.5 L531.0,457.5 L531.4,457.5 L531.8,457.5 L532.2,457.5 L532.6,457.5 L533.0,457.5 L533.4,457.5 L533.8,457.5 L534.2,457.5 L534.6,457.5 L535.0,457.5 L535.4,457.4 L535.8,457.4 L536.2,457.4 L536.6,457.3 L537.0,457.3 L537.4,457.2 L537.8,457.2 L538.2,457.1 L538.6,456.9 L539.0,456.8 L539.4,456.6 L539.8,456.4 L540.2,456.2 L540.6,455.9 L541.0,455.7 L541.4,455.4 L541.8,455.0 L542.2,454.7 L542.6,454.3 L543.0,454.0 L543.4,453.6 L543.8,453.3 L544.2,453.0 L544.6,452.7 L545.0,452.5 L545.4,452.3 L545.8,452.2 L546.2,452.1 L546.6,452.1 L547.0,452.2 L547.4,452.3 L547.8,452.5 L548.2,452.7 L548.6,453.0 L549.0,453.3 L549.4,453.7 L549.8,454.0 L550.2,454.4 L550.6,454.7 L551.0,455.1 L551.4,455.4 L551.8,455.7 L552.2,456.0 L552.6,456.2 L553.0,456.4 L553.4,456.6 L553.8,456.8 L554.2,456.9 L554.6,457.1 L555.0,457.2 L555.4,457.2 L555.8,457.3 L556.2,457.4 L556.6,457.4 L557.1,457.4 L557.5,457.4 L557.9,457.5 L558.3,457.5 L558.7,457.5 L559.1,457.5 L559.5,457.5 L559.9,457.5 L560.3,457.5 L560.7,457.5 L561.1,457.5 L561.5,457.5 L561.9,457.5 L562.3,457.5 L562.7,457.5 L563.1,457.5 L563.5,457.5 L563.9,457.5 L564.3,457.5 L564.7,457.5 L565.1,457.5 L565.5,457.5 L565.9,457.5 L566.3,457.5 L566.7,457.5 L567.1,457.5 L567.5,457.5 L567.9,457.5 L568.3,457.5 L568.7,457.5 L569.1,457.5 L569.5,457.5 L569.9,457.5 L570.3,457.5 L570.7,457.5 L571.1,457.5 L571.5,457.5 L571.9,457.5 L572.3,457.5 L572.7,457.5 L573.1,457.5 L573.5,457.5 L573.9,457.5 L574.3,457.5 L574.7,457.5 L575.1,457.5 L575.5,457.5 L575.9,457.5 L576.3,457.5 L576.7,457.5 L577.1,457.5 L577.5,457.5 L577.9,457.5 L578.3,457.5 L578.7,457.5 L579.1,457.5 L579.5,457.5 L579.9,457.5 L580.3,457.5 L580.7,457.5 L581.1,457.5 L581.5,457.5 L581.9,457.5 L582.3,457.5 L582.7,457.5 L583.1,457.5 L583.5,457.5 L583.9,457.5 L584.3,457.5 L584.7,457.5 L585.1,457.5 L585.5,457.5 L585.9,457.5 L586.3,457.5 L586.7,457.5 L587.1,457.5 L587.5,457.5 L587.9,457.5 L588.3,457.5 L588.7,457.5 L589.2,457.5 L589.6,457.5 L590.0,457.5 L590.4,457.5 L590.8,457.5 L591.2,457.5 L591.6,457.5 L592.0,457.5 L592.4,457.5 L592.8,457.5 L593.2,457.5 L593.6,457.5 L594.0,457.5 L594.4,457.5 L594.8,457.5 L595.2,457.5 L595.6,457.5 L596.0,457.5 L596.4,457.5 L596.8,457.5 L597.2,457.5 L597.6,457.5 L598.0,457.5 L598.4,457.5 L598.8,457.5 L599.2,457.5 L599.6,457.5 L600.0,457.5 L600.4,457.5 L600.8,457.5 L601.2,457.5 L601.6,457.5 L602.0,457.5 L602.4,457.5 L602.8,457.5 L603.2,457.5 L603.6,457.5 L604.0,457.5 L604.4,457.5 L604.8,457.5 L604.8,457.5 L604.4,457.5 L604.0,457.5 L603.6,457.5 L603.2,457.5 L602.8,457.5 L602.4,457.5 L602.0,457.5 L601.6,457.5 L601.2,457.5 L600.8,457.5 L600.4,457.5 L600.0,457.5 L599.6,457.5 L599.2,457.5 L598.8,457.5 L598.4,457.5 L598.0,457.5 L597.6,457.5 L597.2,457.5 L596.8,457.5 L596.4,457.5 L596.0,457.5 L595.6,457.5 L595.2,457.5 L594.8,457.5 L594.4,457.5 L594.0,457.5 L593.6,457.5 L593.2,457.5 L592.8,457.5 L592.4,457.5 L592.0,457.5 L591.6,457.5 L591.2,457.5 L590.8,457.5 L590.4,457.5 L590.0,457.5 L589.6,457.5 L589.2,457.5 L588.7,457.5 L588.3,457.5 L587.9,457.5 L587.5,457.5 L587.1,457.5 L586.7,457.5 L586.3,457.5 L585.9,457.5 L585.5,457.5 L585.1,457.5 L584.7,457.5 L584.3,457.5 L583.9,457.5 L583.5,457.5 L583.1,457.5 L582.7,457.5 L582.3,457.5 L581.9,457.5 L581.5,457.5 L581.1,457.5 L580.7,457.5 L580.3,457.5 L579.9,457.5 L579.5,457.5 L579.1,457.5 L578.7,457.5 L578.3,457.5 L577.9,457.5 L577.5,457.5 L577.1,457.5 L576.7,457.5 L576.3,457.5 L575.9,457.5 L575.5,457.5 L575.1,457.5 L574.7,457.5 L574.3,457.5 L573.9,457.5 L573.5,457.5 L573.1,457.5 L572.7,457.5 L572.3,457.5 L571.9,457.5 L571.5,457.5 L571.1,457.5 L570.7,457.5 L570.3,457.5 L569.9,457.5 L569.5,457.5 L569.1,457.5 L568.7,457.5 L568.3,457.5 L567.9,457.5 L567.5,457.5 L567.1,457.5 L566.7,457.5 L566.3,457.5 L565.9,457.5 L565.5,457.5 L565.1,457.5 L564.7,457.5 L564.3,457.5 L563.9,457.5 L563.5,457.5 L563.1,457.5 L562.7,457.5 L562.3,457.5 L561.9,457.5 L561.5,457.5 L561.1,457.5 L560.7,457.5 L560.3,457.5 L559.9,457.5 L559.5,457.5 L559.1,457.5 L558.7,457.5 L558.3,457.5 L557.9,457.5 L557.5,457.5 L557.1,457.5 L556.6,457.5 L556.2,457.5 L555.8,457.5 L555.4,457.5 L555.0,457.5 L554.6,457.5 L554.2,457.5 L553.8,457.5 L553.4,457.5 L553.0,457.5 L552.6,457.5 L552.2,457.5 L551.8,457.5 L551.4,457.5 L551.0,457.5 L550.6,457.5 L550.2,457.5 L549.8,457.5 L549.4,457.5 L549.0,457.5 L548.6,457.5 L548.2,457.5 L547.8,457.5 L547.4,457.5 L547.0,457.5 L546.6,457.5 L546.2,457.5 L545.8,457.5 L545.4,457.5 L545.0,457.5 L544.6,457.5 L544.2,457.5 L543.8,457.5 L543.4,457.5 L543.0,457.5 L542.6,457.5 L542.2,457.5 L541.8,457.5 L541.4,457.5 L541.0,457.5 L540.6,457.5 L540.2,457.5 L539.8,457.5 L539.4,457.5 L539.0,457.5 L538.6,457.5 L538.2,457.5 L537.8,457.5 L537.4,457.5 L537.0,457.5 L536.6,457.5 L536.2,457.5 L535.8,457.5 L535.4,457.5 L535.0,457.5 L534.6,457.5 L534.2,457.5 L533.8,457.5 L533.4,457.5 L533.0,457.5 L532.6,457.5 L532.2,457.5 L531.8,457.5 L531.4,457.5 L531.0,457.5 L530.6,457.5 L530.2,457.5 L529.8,457.5 L529.4,457.5 L529.0,457.5 L528.6,457.5 L528.2,457.5 L527.8,457.5 L527.4,457.5 L527.0,457.5 L526.6,457.5 L526.2,457.5 L525.8,457.5 L525.4,457.5 L525.0,457.5 L524.5,457.5 L524.1,457.5 L523.7,457.5 L523.3,457.5 L522.9,457.5 L522.5,457.5 L522.1,457.5 L521.7,457.5 L521.3,457.5 L520.9,457.5 L520.5,457.5 L520.1,457.5 L519.7,457.5 L519.3,457.5 L518.9,457.5 L518.5,457.5 L518.1,457.5 L517.7,457.5 L517.3,457.5 L516.9,457.5 L516.5,457.5 L516.1,457.5 L515.7,457.5 L515.3,457.5 L514.9,457.5 L514.5,457.5 L514.1,457.5 L513.7,457.5 L513.3,457.5 L512.9,457.5 L512.5,457.5 L512.1,457.5 L511.7,457.5 L511.3,457.5 L510.9,457.5 L510.5,457.5 L510.1,457.5 L509.7,457.5 L509.3,457.5 L508.9,457.5Z" fill="#b4d2f0" stroke="#4a8ad0" stroke-width="0.45" opacity="0.9"/>
<path d="M508.9,457.5 L509.3,457.5 L509.7,457.5 L510.1,457.5 L510.5,457.5 L510.9,457.5 L511.3,457.5 L511.7,457.5 L512.1,457.5 L512.5,457.5 L512.9,457.5 L513.3,457.5 L513.7,457.5 L514.1,457.5 L514.5,457.5 L514.9,457.5 L515.3,457.5 L515.7,457.5 L516.1,457.5 L516.5,457.5 L516.9,457.5 L517.3,457.5 L517.7,457.5 L518.1,457.5 L518.5,457.5 L518.9,457.5 L519.3,457.5 L519.7,457.5 L520.1,457.5 L520.5,457.5 L520.9,457.5 L521.3,457.5 L521.7,457.5 L522.1,457.5 L522.5,457.5 L522.9,457.5 L523.3,457.5 L523.7,457.5 L524.1,457.5 L524.5,457.5 L525.0,457.5 L525.4,457.5 L525.8,457.5 L526.2,457.5 L526.6,457.5 L527.0,457.5 L527.4,457.5 L527.8,457.5 L528.2,457.5 L528.6,457.5 L529.0,457.5 L529.4,457.5 L529.8,457.5 L530.2,457.5 L530.6,457.5 L531.0,457.5 L531.4,457.5 L531.8,457.5 L532.2,457.5 L532.6,457.5 L533.0,457.5 L533.4,457.5 L533.8,457.5 L534.2,457.5 L534.6,457.5 L535.0,457.5 L535.4,457.5 L535.8,457.5 L536.2,457.5 L536.6,457.5 L537.0,457.5 L537.4,457.5 L537.8,457.5 L538.2,457.5 L538.6,457.5 L539.0,457.5 L539.4,457.5 L539.8,457.5 L540.2,457.5 L540.6,457.5 L541.0,457.5 L541.4,457.5 L541.8,457.5 L542.2,457.5 L542.6,457.5 L543.0,457.5 L543.4,457.5 L543.8,457.5 L544.2,457.5 L544.6,457.5 L545.0,457.5 L545.4,457.5 L545.8,457.5 L546.2,457.5 L546.6,457.5 L547.0,457.5 L547.4,457.5 L547.8,457.5 L548.2,457.5 L548.6,457.5 L549.0,457.5 L549.4,457.5 L549.8,457.5 L550.2,457.5 L550.6,457.5 L551.0,457.5 L551.4,457.5 L551.8,457.5 L552.2,457.5 L552.6,457.5 L553.0,457.5 L553.4,457.5 L553.8,457.5 L554.2,457.4 L554.6,457.4 L555.0,457.4 L555.4,457.4 L555.8,457.4 L556.2,457.3 L556.6,457.3 L557.1,457.3 L557.5,457.2 L557.9,457.2 L558.3,457.1 L558.7,457.1 L559.1,457.0 L559.5,456.9 L559.9,456.8 L560.3,456.7 L560.7,456.6 L561.1,456.5 L561.5,456.4 L561.9,456.3 L562.3,456.1 L562.7,456.0 L563.1,455.8 L563.5,455.6 L563.9,455.5 L564.3,455.3 L564.7,455.1 L565.1,454.9 L565.5,454.7 L565.9,454.5 L566.3,454.3 L566.7,454.2 L567.1,454.0 L567.5,453.8 L567.9,453.7 L568.3,453.5 L568.7,453.4 L569.1,453.3 L569.5,453.2 L569.9,453.2 L570.3,453.1 L570.7,453.1 L571.1,453.1 L571.5,453.1 L571.9,453.2 L572.3,453.2 L572.7,453.3 L573.1,453.4 L573.5,453.5 L573.9,453.7 L574.3,453.8 L574.7,454.0 L575.1,454.2 L575.5,454.3 L575.9,454.5 L576.3,454.7 L576.7,454.9 L577.1,455.1 L577.5,455.3 L577.9,455.5 L578.3,455.6 L578.7,455.8 L579.1,456.0 L579.5,456.1 L579.9,456.3 L580.3,456.4 L580.7,456.5 L581.1,456.6 L581.5,456.7 L581.9,456.8 L582.3,456.9 L582.7,457.0 L583.1,457.1 L583.5,457.1 L583.9,457.2 L584.3,457.2 L584.7,457.3 L585.1,457.3 L585.5,457.3 L585.9,457.4 L586.3,457.4 L586.7,457.4 L587.1,457.4 L587.5,457.4 L587.9,457.5 L588.3,457.5 L588.7,457.5 L589.2,457.5 L589.6,457.5 L590.0,457.5 L590.4,457.5 L590.8,457.5 L591.2,457.5 L591.6,457.5 L592.0,457.5 L592.4,457.5 L592.8,457.5 L593.2,457.5 L593.6,457.5 L594.0,457.5 L594.4,457.5 L594.8,457.5 L595.2,457.5 L595.6,457.5 L596.0,457.5 L596.4,457.5 L596.8,457.5 L597.2,457.5 L597.6,457.5 L598.0,457.5 L598.4,457.5 L598.8,457.5 L599.2,457.5 L599.6,457.5 L600.0,457.5 L600.4,457.5 L600.8,457.5 L601.2,457.5 L601.6,457.5 L602.0,457.5 L602.4,457.5 L602.8,457.5 L603.2,457.5 L603.6,457.5 L604.0,457.5 L604.4,457.5 L604.8,457.5 L604.8,457.5 L604.4,457.5 L604.0,457.5 L603.6,457.5 L603.2,457.5 L602.8,457.5 L602.4,457.5 L602.0,457.5 L601.6,457.5 L601.2,457.5 L600.8,457.5 L600.4,457.5 L600.0,457.5 L599.6,457.5 L599.2,457.5 L598.8,457.5 L598.4,457.5 L598.0,457.5 L597.6,457.5 L597.2,457.5 L596.8,457.5 L596.4,457.5 L596.0,457.5 L595.6,457.5 L595.2,457.5 L594.8,457.5 L594.4,457.5 L594.0,457.5 L593.6,457.5 L593.2,457.5 L592.8,457.5 L592.4,457.5 L592.0,457.5 L591.6,457.5 L591.2,457.5 L590.8,457.5 L590.4,457.5 L590.0,457.5 L589.6,457.5 L589.2,457.5 L588.7,457.5 L588.3,457.5 L587.9,457.5 L587.5,457.5 L587.1,457.5 L586.7,457.5 L586.3,457.5 L585.9,457.5 L585.5,457.5 L585.1,457.5 L584.7,457.5 L584.3,457.5 L583.9,457.5 L583.5,457.5 L583.1,457.5 L582.7,457.5 L582.3,457.5 L581.9,457.5 L581.5,457.5 L581.1,457.5 L580.7,457.5 L580.3,457.5 L579.9,457.5 L579.5,457.5 L579.1,457.5 L578.7,457.5 L578.3,457.5 L577.9,457.5 L577.5,457.5 L577.1,457.5 L576.7,457.5 L576.3,457.5 L575.9,457.5 L575.5,457.5 L575.1,457.5 L574.7,457.5 L574.3,457.5 L573.9,457.5 L573.5,457.5 L573.1,457.5 L572.7,457.5 L572.3,457.5 L571.9,457.5 L571.5,457.5 L571.1,457.5 L570.7,457.5 L570.3,457.5 L569.9,457.5 L569.5,457.5 L569.1,457.5 L568.7,457.5 L568.3,457.5 L567.9,457.5 L567.5,457.5 L567.1,457.5 L566.7,457.5 L566.3,457.5 L565.9,457.5 L565.5,457.5 L565.1,457.5 L564.7,457.5 L564.3,457.5 L563.9,457.5 L563.5,457.5 L563.1,457.5 L562.7,457.5 L562.3,457.5 L561.9,457.5 L561.5,457.5 L561.1,457.5 L560.7,457.5 L560.3,457.5 L559.9,457.5 L559.5,457.5 L559.1,457.5 L558.7,457.5 L558.3,457.5 L557.9,457.5 L557.5,457.5 L557.1,457.5 L556.6,457.5 L556.2,457.5 L555.8,457.5 L555.4,457.5 L555.0,457.5 L554.6,457.5 L554.2,457.5 L553.8,457.5 L553.4,457.5 L553.0,457.5 L552.6,457.5 L552.2,457.5 L551.8,457.5 L551.4,457.5 L551.0,457.5 L550.6,457.5 L550.2,457.5 L549.8,457.5 L549.4,457.5 L549.0,457.5 L548.6,457.5 L548.2,457.5 L547.8,457.5 L547.4,457.5 L547.0,457.5 L546.6,457.5 L546.2,457.5 L545.8,457.5 L545.4,457.5 L545.0,457.5 L544.6,457.5 L544.2,457.5 L543.8,457.5 L543.4,457.5 L543.0,457.5 L542.6,457.5 L542.2,457.5 L541.8,457.5 L541.4,457.5 L541.0,457.5 L540.6,457.5 L540.2,457.5 L539.8,457.5 L539.4,457.5 L539.0,457.5 L538.6,457.5 L538.2,457.5 L537.8,457.5 L537.4,457.5 L537.0,457.5 L536.6,457.5 L536.2,457.5 L535.8,457.5 L535.4,457.5 L535.0,457.5 L534.6,457.5 L534.2,457.5 L533.8,457.5 L533.4,457.5 L533.0,457.5 L532.6,457.5 L532.2,457.5 L531.8,457.5 L531.4,457.5 L531.0,457.5 L530.6,457.5 L530.2,457.5 L529.8,457.5 L529.4,457.5 L529.0,457.5 L528.6,457.5 L528.2,457.5 L527.8,457.5 L527.4,457.5 L527.0,457.5 L526.6,457.5 L526.2,457.5 L525.8,457.5 L525.4,457.5 L525.0,457.5 L524.5,457.5 L524.1,457.5 L523.7,457.5 L523.3,457.5 L522.9,457.5 L522.5,457.5 L522.1,457.5 L521.7,457.5 L521.3,457.5 L520.9,457.5 L520.5,457.5 L520.1,457.5 L519.7,457.5 L519.3,457.5 L518.9,457.5 L518.5,457.5 L518.1,457.5 L517.7,457.5 L517.3,457.5 L516.9,457.5 L516.5,457.5 L516.1,457.5 L515.7,457.5 L515.3,457.5 L514.9,457.5 L514.5,457.5 L514.1,457.5 L513.7,457.5 L513.3,457.5 L512.9,457.5 L512.5,457.5 L512.1,457.5 L511.7,457.5 L511.3,457.5 L510.9,457.5 L510.5,457.5 L510.1,457.5 L509.7,457.5 L509.3,457.5 L508.9,457.5Z" fill="#eec0f0" stroke="#cc70cc" stroke-width="0.45" opacity="0.9"/>
<path d="M508.9,457.5 L509.3,457.5 L509.7,457.5 L510.1,457.5 L510.5,457.5 L510.9,457.5 L511.3,457.5 L511.7,457.5 L512.1,457.5 L512.5,457.5 L512.9,457.5 L513.3,457.5 L513.7,457.5 L514.1,457.5 L514.5,457.5 L514.9,457.5 L515.3,457.5 L515.7,457.5 L516.1,457.5 L516.5,457.5 L516.9,457.5 L517.3,457.5 L517.7,457.5 L518.1,457.5 L518.5,457.5 L518.9,457.5 L519.3,457.5 L519.7,457.5 L520.1,457.5 L520.5,457.5 L520.9,457.5 L521.3,457.5 L521.7,457.5 L522.1,457.5 L522.5,457.5 L522.9,457.5 L523.3,457.5 L523.7,457.5 L524.1,457.5 L524.5,457.5 L525.0,457.5 L525.4,457.5 L525.8,457.5 L526.2,457.5 L526.6,457.5 L527.0,457.5 L527.4,457.5 L527.8,457.5 L528.2,457.5 L528.6,457.5 L529.0,457.5 L529.4,457.5 L529.8,457.5 L530.2,457.5 L530.6,457.5 L531.0,457.5 L531.4,457.5 L531.8,457.5 L532.2,457.5 L532.6,457.5 L533.0,457.5 L533.4,457.5 L533.8,457.5 L534.2,457.5 L534.6,457.5 L535.0,457.5 L535.4,457.5 L535.8,457.5 L536.2,457.5 L536.6,457.5 L537.0,457.5 L537.4,457.5 L537.8,457.5 L538.2,457.5 L538.6,457.5 L539.0,457.5 L539.4,457.5 L539.8,457.5 L540.2,457.5 L540.6,457.5 L541.0,457.5 L541.4,457.5 L541.8,457.5 L542.2,457.5 L542.6,457.5 L543.0,457.5 L543.4,457.5 L543.8,457.5 L544.2,457.5 L544.6,457.5 L545.0,457.5 L545.4,457.5 L545.8,457.5 L546.2,457.5 L546.6,457.5 L547.0,457.5 L547.4,457.5 L547.8,457.5 L548.2,457.5 L548.6,457.5 L549.0,457.5 L549.4,457.5 L549.8,457.5 L550.2,457.5 L550.6,457.5 L551.0,457.5 L551.4,457.5 L551.8,457.5 L552.2,457.5 L552.6,457.5 L553.0,457.5 L553.4,457.5 L553.8,457.5 L554.2,457.5 L554.6,457.5 L555.0,457.5 L555.4,457.5 L555.8,457.5 L556.2,457.5 L556.6,457.5 L557.1,457.5 L557.5,457.5 L557.9,457.5 L558.3,457.5 L558.7,457.5 L559.1,457.5 L559.5,457.5 L559.9,457.5 L560.3,457.5 L560.7,457.5 L561.1,457.5 L561.5,457.5 L561.9,457.5 L562.3,457.5 L562.7,457.5 L563.1,457.5 L563.5,457.5 L563.9,457.5 L564.3,457.5 L564.7,457.5 L565.1,457.5 L565.5,457.5 L565.9,457.4 L566.3,457.4 L566.7,457.4 L567.1,457.4 L567.5,457.4 L567.9,457.3 L568.3,457.3 L568.7,457.2 L569.1,457.2 L569.5,457.1 L569.9,457.0 L570.3,457.0 L570.7,456.9 L571.1,456.7 L571.5,456.6 L571.9,456.5 L572.3,456.3 L572.7,456.1 L573.1,455.9 L573.5,455.7 L573.9,455.5 L574.3,455.3 L574.7,455.0 L575.1,454.8 L575.5,454.5 L575.9,454.3 L576.3,454.0 L576.7,453.7 L577.1,453.5 L577.5,453.2 L577.9,453.0 L578.3,452.8 L578.7,452.6 L579.1,452.4 L579.5,452.3 L579.9,452.2 L580.3,452.1 L580.7,452.1 L581.1,452.1 L581.5,452.1 L581.9,452.2 L582.3,452.3 L582.7,452.5 L583.1,452.6 L583.5,452.8 L583.9,453.0 L584.3,453.3 L584.7,453.5 L585.1,453.8 L585.5,454.0 L585.9,454.3 L586.3,454.5 L586.7,454.8 L587.1,455.1 L587.5,455.3 L587.9,455.5 L588.3,455.8 L588.7,456.0 L589.2,456.2 L589.6,456.3 L590.0,456.5 L590.4,456.6 L590.8,456.8 L591.2,456.9 L591.6,457.0 L592.0,457.1 L592.4,457.1 L592.8,457.2 L593.2,457.2 L593.6,457.3 L594.0,457.3 L594.4,457.4 L594.8,457.4 L595.2,457.4 L595.6,457.4 L596.0,457.4 L596.4,457.5 L596.8,457.5 L597.2,457.5 L597.6,457.5 L598.0,457.5 L598.4,457.5 L598.8,457.5 L599.2,457.5 L599.6,457.5 L600.0,457.5 L600.4,457.5 L600.8,457.5 L601.2,457.5 L601.6,457.5 L602.0,457.5 L602.4,457.5 L602.8,457.5 L603.2,457.5 L603.6,457.5 L604.0,457.5 L604.4,457.5 L604.8,457.5 L604.8,457.5 L604.4,457.5 L604.0,457.5 L603.6,457.5 L603.2,457.5 L602.8,457.5 L602.4,457.5 L602.0,457.5 L601.6,457.5 L601.2,457.5 L600.8,457.5 L600.4,457.5 L600.0,457.5 L599.6,457.5 L599.2,457.5 L598.8,457.5 L598.4,457.5 L598.0,457.5 L597.6,457.5 L597.2,457.5 L596.8,457.5 L596.4,457.5 L596.0,457.5 L595.6,457.5 L595.2,457.5 L594.8,457.5 L594.4,457.5 L594.0,457.5 L593.6,457.5 L593.2,457.5 L592.8,457.5 L592.4,457.5 L592.0,457.5 L591.6,457.5 L591.2,457.5 L590.8,457.5 L590.4,457.5 L590.0,457.5 L589.6,457.5 L589.2,457.5 L588.7,457.5 L588.3,457.5 L587.9,457.5 L587.5,457.5 L587.1,457.5 L586.7,457.5 L586.3,457.5 L585.9,457.5 L585.5,457.5 L585.1,457.5 L584.7,457.5 L584.3,457.5 L583.9,457.5 L583.5,457.5 L583.1,457.5 L582.7,457.5 L582.3,457.5 L581.9,457.5 L581.5,457.5 L581.1,457.5 L580.7,457.5 L580.3,457.5 L579.9,457.5 L579.5,457.5 L579.1,457.5 L578.7,457.5 L578.3,457.5 L577.9,457.5 L577.5,457.5 L577.1,457.5 L576.7,457.5 L576.3,457.5 L575.9,457.5 L575.5,457.5 L575.1,457.5 L574.7,457.5 L574.3,457.5 L573.9,457.5 L573.5,457.5 L573.1,457.5 L572.7,457.5 L572.3,457.5 L571.9,457.5 L571.5,457.5 L571.1,457.5 L570.7,457.5 L570.3,457.5 L569.9,457.5 L569.5,457.5 L569.1,457.5 L568.7,457.5 L568.3,457.5 L567.9,457.5 L567.5,457.5 L567.1,457.5 L566.7,457.5 L566.3,457.5 L565.9,457.5 L565.5,457.5 L565.1,457.5 L564.7,457.5 L564.3,457.5 L563.9,457.5 L563.5,457.5 L563.1,457.5 L562.7,457.5 L562.3,457.5 L561.9,457.5 L561.5,457.5 L561.1,457.5 L560.7,457.5 L560.3,457.5 L559.9,457.5 L559.5,457.5 L559.1,457.5 L558.7,457.5 L558.3,457.5 L557.9,457.5 L557.5,457.5 L557.1,457.5 L556.6,457.5 L556.2,457.5 L555.8,457.5 L555.4,457.5 L555.0,457.5 L554.6,457.5 L554.2,457.5 L553.8,457.5 L553.4,457.5 L553.0,457.5 L552.6,457.5 L552.2,457.5 L551.8,457.5 L551.4,457.5 L551.0,457.5 L550.6,457.5 L550.2,457.5 L549.8,457.5 L549.4,457.5 L549.0,457.5 L548.6,457.5 L548.2,457.5 L547.8,457.5 L547.4,457.5 L547.0,457.5 L546.6,457.5 L546.2,457.5 L545.8,457.5 L545.4,457.5 L545.0,457.5 L544.6,457.5 L544.2,457.5 L543.8,457.5 L543.4,457.5 L543.0,457.5 L542.6,457.5 L542.2,457.5 L541.8,457.5 L541.4,457.5 L541.0,457.5 L540.6,457.5 L540.2,457.5 L539.8,457.5 L539.4,457.5 L539.0,457.5 L538.6,457.5 L538.2,457.5 L537.8,457.5 L537.4,457.5 L537.0,457.5 L536.6,457.5 L536.2,457.5 L535.8,457.5 L535.4,457.5 L535.0,457.5 L534.6,457.5 L534.2,457.5 L533.8,457.5 L533.4,457.5 L533.0,457.5 L532.6,457.5 L532.2,457.5 L531.8,457.5 L531.4,457.5 L531.0,457.5 L530.6,457.5 L530.2,457.5 L529.8,457.5 L529.4,457.5 L529.0,457.5 L528.6,457.5 L528.2,457.5 L527.8,457.5 L527.4,457.5 L527.0,457.5 L526.6,457.5 L526.2,457.5 L525.8,457.5 L525.4,457.5 L525.0,457.5 L524.5,457.5 L524.1,457.5 L523.7,457.5 L523.3,457.5 L522.9,457.5 L522.5,457.5 L522.1,457.5 L521.7,457.5 L521.3,457.5 L520.9,457.5 L520.5,457.5 L520.1,457.5 L519.7,457.5 L519.3,457.5 L518.9,457.5 L518.5,457.5 L518.1,457.5 L517.7,457.5 L517.3,457.5 L516.9,457.5 L516.5,457.5 L516.1,457.5 L515.7,457.5 L515.3,457.5 L514.9,457.5 L514.5,457.5 L514.1,457.5 L513.7,457.5 L513.3,457.5 L512.9,457.5 L512.5,457.5 L512.1,457.5 L511.7,457.5 L511.3,457.5 L510.9,457.5 L510.5,457.5 L510.1,457.5 L509.7,457.5 L509.3,457.5 L508.9,457.5Z" fill="#dedede" stroke="#9a9a9a" stroke-width="0.45" opacity="0.9"/>
<path d="M508.9,457.5 L509.3,457.5 L509.7,457.5 L510.1,457.5 L510.5,457.5 L510.9,457.5 L511.3,457.5 L511.7,457.5 L512.1,457.5 L512.5,457.5 L512.9,457.5 L513.3,457.5 L513.7,457.5 L514.1,457.5 L514.5,457.5 L514.9,457.5 L515.3,457.5 L515.7,457.5 L516.1,457.5 L516.5,457.5 L516.9,457.5 L517.3,457.5 L517.7,457.5 L518.1,457.5 L518.5,457.5 L518.9,457.5 L519.3,457.5 L519.7,457.5 L520.1,457.5 L520.5,457.5 L520.9,457.5 L521.3,457.5 L521.7,457.5 L522.1,457.5 L522.5,457.5 L522.9,457.5 L523.3,457.5 L523.7,457.5 L524.1,457.5 L524.5,457.5 L525.0,457.5 L525.4,457.5 L525.8,457.5 L526.2,457.5 L526.6,457.5 L527.0,457.5 L527.4,457.5 L527.8,457.5 L528.2,457.5 L528.6,457.5 L529.0,457.5 L529.4,457.5 L529.8,457.5 L530.2,457.5 L530.6,457.5 L531.0,457.5 L531.4,457.5 L531.8,457.5 L532.2,457.5 L532.6,457.5 L533.0,457.5 L533.4,457.5 L533.8,457.5 L534.2,457.5 L534.6,457.5 L535.0,457.5 L535.4,457.5 L535.8,457.5 L536.2,457.5 L536.6,457.5 L537.0,457.5 L537.4,457.5 L537.8,457.5 L538.2,457.5 L538.6,457.5 L539.0,457.5 L539.4,457.5 L539.8,457.5 L540.2,457.5 L540.6,457.5 L541.0,457.5 L541.4,457.5 L541.8,457.5 L542.2,457.5 L542.6,457.5 L543.0,457.5 L543.4,457.5 L543.8,457.5 L544.2,457.5 L544.6,457.5 L545.0,457.5 L545.4,457.5 L545.8,457.5 L546.2,457.5 L546.6,457.5 L547.0,457.5 L547.4,457.5 L547.8,457.5 L548.2,457.5 L548.6,457.5 L549.0,457.5 L549.4,457.5 L549.8,457.5 L550.2,457.5 L550.6,457.5 L551.0,457.5 L551.4,457.5 L551.8,457.5 L552.2,457.5 L552.6,457.5 L553.0,457.5 L553.4,457.5 L553.8,457.5 L554.2,457.5 L554.6,457.5 L555.0,457.5 L555.4,457.5 L555.8,457.5 L556.2,457.5 L556.6,457.5 L557.1,457.5 L557.5,457.5 L557.9,457.5 L558.3,457.5 L558.7,457.5 L559.1,457.5 L559.5,457.5 L559.9,457.5 L560.3,457.5 L560.7,457.5 L561.1,457.5 L561.5,457.5 L561.9,457.5 L562.3,457.5 L562.7,457.5 L563.1,457.5 L563.5,457.5 L563.9,457.5 L564.3,457.5 L564.7,457.5 L565.1,457.5 L565.5,457.5 L565.9,457.5 L566.3,457.5 L566.7,457.5 L567.1,457.5 L567.5,457.5 L567.9,457.5 L568.3,457.5 L568.7,457.5 L569.1,457.5 L569.5,457.5 L569.9,457.5 L570.3,457.5 L570.7,457.5 L571.1,457.5 L571.5,457.5 L571.9,457.5 L572.3,457.5 L572.7,457.5 L573.1,457.5 L573.5,457.5 L573.9,457.5 L574.3,457.4 L574.7,457.4 L575.1,457.4 L575.5,457.4 L575.9,457.3 L576.3,457.2 L576.7,457.1 L577.1,457.0 L577.5,456.9 L577.9,456.7 L578.3,456.5 L578.7,456.3 L579.1,456.0 L579.5,455.6 L579.9,455.2 L580.3,454.7 L580.7,454.2 L581.1,453.6 L581.5,453.0 L581.9,452.3 L582.3,451.5 L582.7,450.7 L583.1,449.9 L583.5,449.1 L583.9,448.2 L584.3,447.4 L584.7,446.7 L585.1,445.9 L585.5,445.3 L585.9,444.8 L586.3,444.4 L586.7,444.1 L587.1,443.9 L587.5,443.9 L587.9,444.0 L588.3,444.3 L588.7,444.7 L589.2,445.2 L589.6,445.8 L590.0,446.5 L590.4,447.2 L590.8,448.0 L591.2,448.8 L591.6,449.7 L592.0,450.5 L592.4,451.3 L592.8,452.1 L593.2,452.8 L593.6,453.5 L594.0,454.1 L594.4,454.6 L594.8,455.1 L595.2,455.5 L595.6,455.9 L596.0,456.2 L596.4,456.5 L596.8,456.7 L597.2,456.9 L597.6,457.0 L598.0,457.1 L598.4,457.2 L598.8,457.3 L599.2,457.3 L599.6,457.4 L600.0,457.4 L600.4,457.4 L600.8,457.5 L601.2,457.5 L601.6,457.5 L602.0,457.5 L602.4,457.5 L602.8,457.5 L603.2,457.5 L603.6,457.5 L604.0,457.5 L604.4,457.5 L604.8,457.5 L604.8,457.5 L604.4,457.5 L604.0,457.5 L603.6,457.5 L603.2,457.5 L602.8,457.5 L602.4,457.5 L602.0,457.5 L601.6,457.5 L601.2,457.5 L600.8,457.5 L600.4,457.5 L600.0,457.5 L599.6,457.5 L599.2,457.5 L598.8,457.5 L598.4,457.5 L598.0,457.5 L597.6,457.5 L597.2,457.5 L596.8,457.5 L596.4,457.5 L596.0,457.5 L595.6,457.5 L595.2,457.5 L594.8,457.5 L594.4,457.5 L594.0,457.5 L593.6,457.5 L593.2,457.5 L592.8,457.5 L592.4,457.5 L592.0,457.5 L591.6,457.5 L591.2,457.5 L590.8,457.5 L590.4,457.5 L590.0,457.5 L589.6,457.5 L589.2,457.5 L588.7,457.5 L588.3,457.5 L587.9,457.5 L587.5,457.5 L587.1,457.5 L586.7,457.5 L586.3,457.5 L585.9,457.5 L585.5,457.5 L585.1,457.5 L584.7,457.5 L584.3,457.5 L583.9,457.5 L583.5,457.5 L583.1,457.5 L582.7,457.5 L582.3,457.5 L581.9,457.5 L581.5,457.5 L581.1,457.5 L580.7,457.5 L580.3,457.5 L579.9,457.5 L579.5,457.5 L579.1,457.5 L578.7,457.5 L578.3,457.5 L577.9,457.5 L577.5,457.5 L577.1,457.5 L576.7,457.5 L576.3,457.5 L575.9,457.5 L575.5,457.5 L575.1,457.5 L574.7,457.5 L574.3,457.5 L573.9,457.5 L573.5,457.5 L573.1,457.5 L572.7,457.5 L572.3,457.5 L571.9,457.5 L571.5,457.5 L571.1,457.5 L570.7,457.5 L570.3,457.5 L569.9,457.5 L569.5,457.5 L569.1,457.5 L568.7,457.5 L568.3,457.5 L567.9,457.5 L567.5,457.5 L567.1,457.5 L566.7,457.5 L566.3,457.5 L565.9,457.5 L565.5,457.5 L565.1,457.5 L564.7,457.5 L564.3,457.5 L563.9,457.5 L563.5,457.5 L563.1,457.5 L562.7,457.5 L562.3,457.5 L561.9,457.5 L561.5,457.5 L561.1,457.5 L560.7,457.5 L560.3,457.5 L559.9,457.5 L559.5,457.5 L559.1,457.5 L558.7,457.5 L558.3,457.5 L557.9,457.5 L557.5,457.5 L557.1,457.5 L556.6,457.5 L556.2,457.5 L555.8,457.5 L555.4,457.5 L555.0,457.5 L554.6,457.5 L554.2,457.5 L553.8,457.5 L553.4,457.5 L553.0,457.5 L552.6,457.5 L552.2,457.5 L551.8,457.5 L551.4,457.5 L551.0,457.5 L550.6,457.5 L550.2,457.5 L549.8,457.5 L549.4,457.5 L549.0,457.5 L548.6,457.5 L548.2,457.5 L547.8,457.5 L547.4,457.5 L547.0,457.5 L546.6,457.5 L546.2,457.5 L545.8,457.5 L545.4,457.5 L545.0,457.5 L544.6,457.5 L544.2,457.5 L543.8,457.5 L543.4,457.5 L543.0,457.5 L542.6,457.5 L542.2,457.5 L541.8,457.5 L541.4,457.5 L541.0,457.5 L540.6,457.5 L540.2,457.5 L539.8,457.5 L539.4,457.5 L539.0,457.5 L538.6,457.5 L538.2,457.5 L537.8,457.5 L537.4,457.5 L537.0,457.5 L536.6,457.5 L536.2,457.5 L535.8,457.5 L535.4,457.5 L535.0,457.5 L534.6,457.5 L534.2,457.5 L533.8,457.5 L533.4,457.5 L533.0,457.5 L532.6,457.5 L532.2,457.5 L531.8,457.5 L531.4,457.5 L531.0,457.5 L530.6,457.5 L530.2,457.5 L529.8,457.5 L529.4,457.5 L529.0,457.5 L528.6,457.5 L528.2,457.5 L527.8,457.5 L527.4,457.5 L527.0,457.5 L526.6,457.5 L526.2,457.5 L525.8,457.5 L525.4,457.5 L525.0,457.5 L524.5,457.5 L524.1,457.5 L523.7,457.5 L523.3,457.5 L522.9,457.5 L522.5,457.5 L522.1,457.5 L521.7,457.5 L521.3,457.5 L520.9,457.5 L520.5,457.5 L520.1,457.5 L519.7,457.5 L519.3,457.5 L518.9,457.5 L518.5,457.5 L518.1,457.5 L517.7,457.5 L517.3,457.5 L516.9,457.5 L516.5,457.5 L516.1,457.5 L515.7,457.5 L515.3,457.5 L514.9,457.5 L514.5,457.5 L514.1,457.5 L513.7,457.5 L513.3,457.5 L512.9,457.5 L512.5,457.5 L512.1,457.5 L511.7,457.5 L511.3,457.5 L510.9,457.5 L510.5,457.5 L510.1,457.5 L509.7,457.5 L509.3,457.5 L508.9,457.5Z" fill="#b4d2f0" stroke="#4a8ad0" stroke-width="0.45" opacity="0.9"/>
<path d="M508.9,457.5 L509.3,457.5 L509.7,457.5 L510.1,457.5 L510.5,457.5 L510.9,457.5 L511.3,457.5 L511.7,457.5 L512.1,457.5 L512.5,457.5 L512.9,457.5 L513.3,457.5 L513.7,457.5 L514.1,457.5 L514.5,457.5 L514.9,457.5 L515.3,457.5 L515.7,457.5 L516.1,457.5 L516.5,457.5 L516.9,457.5 L517.3,457.5 L517.7,457.5 L518.1,457.5 L518.5,457.5 L518.9,457.5 L519.3,457.5 L519.7,457.5 L520.1,457.5 L520.5,457.5 L520.9,457.5 L521.3,457.5 L521.7,457.5 L522.1,457.5 L522.5,457.5 L522.9,457.5 L523.3,457.5 L523.7,457.5 L524.1,457.5 L524.5,457.5 L525.0,457.5 L525.4,457.5 L525.8,457.5 L526.2,457.5 L526.6,457.5 L527.0,457.5 L527.4,457.5 L527.8,457.5 L528.2,457.5 L528.6,457.5 L529.0,457.5 L529.4,457.5 L529.8,457.5 L530.2,457.5 L530.6,457.5 L531.0,457.5 L531.4,457.5 L531.8,457.5 L532.2,457.5 L532.6,457.5 L533.0,457.5 L533.4,457.5 L533.8,457.5 L534.2,457.5 L534.6,457.5 L535.0,457.5 L535.4,457.5 L535.8,457.5 L536.2,457.5 L536.6,457.5 L537.0,457.5 L537.4,457.5 L537.8,457.5 L538.2,457.5 L538.6,457.5 L539.0,457.5 L539.4,457.5 L539.8,457.5 L540.2,457.5 L540.6,457.5 L541.0,457.5 L541.4,457.5 L541.8,457.5 L542.2,457.5 L542.6,457.5 L543.0,457.5 L543.4,457.5 L543.8,457.5 L544.2,457.5 L544.6,457.5 L545.0,457.5 L545.4,457.5 L545.8,457.5 L546.2,457.5 L546.6,457.5 L547.0,457.5 L547.4,457.5 L547.8,457.5 L548.2,457.5 L548.6,457.5 L549.0,457.5 L549.4,457.5 L549.8,457.5 L550.2,457.5 L550.6,457.5 L551.0,457.5 L551.4,457.5 L551.8,457.5 L552.2,457.5 L552.6,457.5 L553.0,457.5 L553.4,457.5 L553.8,457.5 L554.2,457.5 L554.6,457.5 L555.0,457.5 L555.4,457.5 L555.8,457.5 L556.2,457.5 L556.6,457.5 L557.1,457.5 L557.5,457.5 L557.9,457.5 L558.3,457.5 L558.7,457.5 L559.1,457.5 L559.5,457.5 L559.9,457.5 L560.3,457.5 L560.7,457.5 L561.1,457.5 L561.5,457.5 L561.9,457.5 L562.3,457.5 L562.7,457.5 L563.1,457.5 L563.5,457.5 L563.9,457.5 L564.3,457.5 L564.7,457.5 L565.1,457.5 L565.5,457.5 L565.9,457.5 L566.3,457.5 L566.7,457.5 L567.1,457.5 L567.5,457.5 L567.9,457.5 L568.3,457.5 L568.7,457.5 L569.1,457.5 L569.5,457.5 L569.9,457.5 L570.3,457.5 L570.7,457.5 L571.1,457.5 L571.5,457.5 L571.9,457.5 L572.3,457.5 L572.7,457.5 L573.1,457.5 L573.5,457.5 L573.9,457.5 L574.3,457.5 L574.7,457.5 L575.1,457.5 L575.5,457.5 L575.9,457.5 L576.3,457.5 L576.7,457.5 L577.1,457.5 L577.5,457.5 L577.9,457.5 L578.3,457.5 L578.7,457.5 L579.1,457.5 L579.5,457.5 L579.9,457.5 L580.3,457.5 L580.7,457.5 L581.1,457.5 L581.5,457.5 L581.9,457.5 L582.3,457.5 L582.7,457.5 L583.1,457.5 L583.5,457.5 L583.9,457.5 L584.3,457.5 L584.7,457.5 L585.1,457.5 L585.5,457.5 L585.9,457.5 L586.3,457.5 L586.7,457.5 L587.1,457.5 L587.5,457.5 L587.9,457.5 L588.3,457.5 L588.7,457.5 L589.2,457.5 L589.6,457.5 L590.0,457.5 L590.4,457.5 L590.8,457.5 L591.2,457.5 L591.6,457.5 L592.0,457.5 L592.4,457.5 L592.8,457.5 L593.2,457.5 L593.6,457.5 L594.0,457.5 L594.4,457.5 L594.8,457.5 L595.2,457.5 L595.6,457.5 L596.0,457.5 L596.4,457.5 L596.8,457.5 L597.2,457.5 L597.6,457.5 L598.0,457.5 L598.4,457.5 L598.8,457.5 L599.2,457.5 L599.6,457.5 L600.0,457.5 L600.4,457.5 L600.8,457.5 L601.2,457.5 L601.6,457.5 L602.0,457.5 L602.4,457.5 L602.8,457.5 L603.2,457.5 L603.6,457.5 L604.0,457.5 L604.4,457.5 L604.8,457.5" fill="none" stroke="#66a83a" stroke-width="0.8"/>
<path d="M508.9,456.9 L509.3,456.9 L509.7,456.9 L510.1,456.9 L510.5,456.9 L510.9,456.9 L511.3,456.9 L511.7,456.9 L512.1,456.9 L512.5,456.9 L512.9,456.9 L513.3,456.9 L513.7,456.9 L514.1,456.9 L514.5,456.9 L514.9,456.9 L515.3,456.9 L515.7,456.9 L516.1,456.9 L516.5,456.9 L516.9,456.9 L517.3,456.9 L517.7,456.8 L518.1,456.8 L518.5,456.8 L518.9,456.8 L519.3,456.8 L519.7,456.7 L520.1,456.7 L520.5,456.6 L520.9,456.6 L521.3,456.5 L521.7,456.4 L522.1,456.4 L522.5,456.3 L522.9,456.2 L523.3,456.1 L523.7,455.9 L524.1,455.8 L524.5,455.7 L525.0,455.5 L525.4,455.4 L525.8,455.3 L526.2,455.1 L526.6,455.0 L527.0,454.9 L527.4,454.8 L527.8,454.7 L528.2,454.6 L528.6,454.5 L529.0,454.5 L529.4,454.5 L529.8,454.5 L530.2,454.5 L530.6,454.5 L531.0,454.6 L531.4,454.6 L531.8,454.7 L532.2,454.8 L532.6,454.9 L533.0,455.0 L533.4,455.1 L533.8,455.2 L534.2,455.3 L534.6,455.3 L535.0,455.4 L535.4,455.5 L535.8,455.5 L536.2,455.6 L536.6,455.6 L537.0,455.6 L537.4,455.5 L537.8,455.5 L538.2,455.4 L538.6,455.3 L539.0,455.2 L539.4,455.1 L539.8,454.9 L540.2,454.7 L540.6,454.5 L541.0,454.2 L541.4,453.9 L541.8,453.7 L542.2,453.4 L542.6,453.0 L543.0,452.7 L543.4,452.4 L543.8,452.1 L544.2,451.9 L544.6,451.6 L545.0,451.5 L545.4,451.3 L545.8,451.2 L546.2,451.2 L546.6,451.2 L547.0,451.3 L547.4,451.5 L547.8,451.7 L548.2,451.9 L548.6,452.2 L549.0,452.5 L549.4,452.8 L549.8,453.2 L550.2,453.5 L550.6,453.9 L551.0,454.2 L551.4,454.5 L551.8,454.7 L552.2,455.0 L552.6,455.2 L553.0,455.3 L553.4,455.5 L553.8,455.6 L554.2,455.7 L554.6,455.7 L555.0,455.7 L555.4,455.7 L555.8,455.7 L556.2,455.6 L556.6,455.6 L557.1,455.5 L557.5,455.4 L557.9,455.3 L558.3,455.2 L558.7,455.1 L559.1,455.0 L559.5,454.9 L559.9,454.7 L560.3,454.6 L560.7,454.5 L561.1,454.3 L561.5,454.2 L561.9,454.1 L562.3,453.9 L562.7,453.8 L563.1,453.6 L563.5,453.5 L563.9,453.3 L564.3,453.2 L564.7,453.0 L565.1,452.9 L565.5,452.8 L565.9,452.6 L566.3,452.5 L566.7,452.3 L567.1,452.2 L567.5,452.1 L567.9,452.0 L568.3,451.9 L568.7,451.8 L569.1,451.7 L569.5,451.6 L569.9,451.5 L570.3,451.4 L570.7,451.4 L571.1,451.3 L571.5,451.2 L571.9,451.2 L572.3,451.1 L572.7,451.1 L573.1,451.0 L573.5,450.9 L573.9,450.9 L574.3,450.8 L574.7,450.7 L575.1,450.6 L575.5,450.5 L575.9,450.4 L576.3,450.3 L576.7,450.1 L577.1,450.0 L577.5,449.8 L577.9,449.6 L578.3,449.3 L578.7,449.1 L579.1,448.8 L579.5,448.4 L579.9,448.1 L580.3,447.7 L580.7,447.2 L581.1,446.8 L581.5,446.3 L581.9,445.7 L582.3,445.2 L582.7,444.6 L583.1,444.0 L583.5,443.4 L583.9,442.8 L584.3,442.3 L584.7,441.8 L585.1,441.4 L585.5,441.1 L585.9,440.8 L586.3,440.7 L586.7,440.7 L587.1,440.8 L587.5,441.1 L587.9,441.4 L588.3,441.9 L588.7,442.5 L589.2,443.2 L589.6,444.0 L590.0,444.8 L590.4,445.7 L590.8,446.7 L591.2,447.6 L591.6,448.5 L592.0,449.4 L592.4,450.3 L592.8,451.2 L593.2,451.9 L593.6,452.6 L594.0,453.3 L594.4,453.9 L594.8,454.4 L595.2,454.8 L595.6,455.2 L596.0,455.5 L596.4,455.8 L596.8,456.0 L597.2,456.2 L597.6,456.4 L598.0,456.5 L598.4,456.6 L598.8,456.7 L599.2,456.7 L599.6,456.8 L600.0,456.8 L600.4,456.8 L600.8,456.9 L601.2,456.9 L601.6,456.9 L602.0,456.9 L602.4,456.9 L602.8,456.9 L603.2,456.9 L603.6,456.9 L604.0,456.9 L604.4,456.9 L604.8,456.9" fill="none" stroke="#f0875e" stroke-width="1.0"/>
<path d="M508.9,491.6 L509.3,491.6 L509.7,491.7 L510.1,491.7 L510.5,491.7 L510.9,491.7 L511.3,491.7 L511.7,491.7 L512.1,491.7 L512.5,491.8 L512.9,491.8 L513.3,491.8 L513.7,491.8 L514.1,491.8 L514.5,491.8 L514.9,491.8 L515.3,491.9 L515.7,491.9 L516.1,491.9 L516.5,491.9 L516.9,491.9 L517.3,491.9 L517.7,491.9 L518.1,491.9 L518.5,492.0 L518.9,492.0 L519.3,492.0 L519.7,492.0 L520.1,492.0 L520.5,492.0 L520.9,492.0 L521.3,492.0 L521.7,492.0 L522.1,491.9 L522.5,491.9 L522.9,491.9 L523.3,491.9 L523.7,491.8 L524.1,491.8 L524.5,491.7 L525.0,491.7 L525.4,491.6 L525.8,491.6 L526.2,491.5 L526.6,491.5 L527.0,491.4 L527.4,491.4 L527.8,491.4 L528.2,491.3 L528.6,491.3 L529.0,491.3 L529.4,491.4 L529.8,491.4 L530.2,491.4 L530.6,491.5 L531.0,491.6 L531.4,491.6 L531.8,491.7 L532.2,491.8 L532.6,491.9 L533.0,492.0 L533.4,492.0 L533.8,492.1 L534.2,492.2 L534.6,492.3 L535.0,492.3 L535.4,492.4 L535.8,492.4 L536.2,492.5 L536.6,492.5 L537.0,492.6 L537.4,492.6 L537.8,492.6 L538.2,492.6 L538.6,492.7 L539.0,492.7 L539.4,492.7 L539.8,492.7 L540.2,492.7 L540.6,492.8 L541.0,492.8 L541.4,492.8 L541.8,492.8 L542.2,492.8 L542.6,492.8 L543.0,492.9 L543.4,492.9 L543.8,492.9 L544.2,492.9 L544.6,492.9 L545.0,492.9 L545.4,492.9 L545.8,493.0 L546.2,493.0 L546.6,493.0 L547.0,493.0 L547.4,493.0 L547.8,493.0 L548.2,493.0 L548.6,493.1 L549.0,493.1 L549.4,493.1 L549.8,493.1 L550.2,493.1 L550.6,493.1 L551.0,493.1 L551.4,493.2 L551.8,493.2 L552.2,493.2 L552.6,493.2 L553.0,493.2 L553.4,493.2 L553.8,493.2 L554.2,493.3 L554.6,493.3 L555.0,493.3 L555.4,493.3 L555.8,493.3 L556.2,493.3 L556.6,493.3 L557.1,493.4 L557.5,493.4 L557.9,493.4 L558.3,493.4 L558.7,493.4 L559.1,493.4 L559.5,493.4 L559.9,493.5 L560.3,493.5 L560.7,493.5 L561.1,493.5 L561.5,493.5 L561.9,493.5 L562.3,493.5 L562.7,493.6 L563.1,493.6 L563.5,493.6 L563.9,493.6 L564.3,493.6 L564.7,493.6 L565.1,493.6 L565.5,493.7 L565.9,493.7 L566.3,493.7 L566.7,493.7 L567.1,493.7 L567.5,493.7 L567.9,493.7 L568.3,493.8 L568.7,493.8 L569.1,493.8 L569.5,493.8 L569.9,493.8 L570.3,493.8 L570.7,493.8 L571.1,493.9 L571.5,493.9 L571.9,493.9 L572.3,493.9 L572.7,493.9 L573.1,493.9 L573.5,494.0 L573.9,494.0 L574.3,494.0 L574.7,494.0 L575.1,494.0 L575.5,494.0 L575.9,494.0 L576.3,494.1 L576.7,494.1 L577.1,494.1 L577.5,494.1 L577.9,494.1 L578.3,494.1 L578.7,494.1 L579.1,494.2 L579.5,494.2 L579.9,494.2 L580.3,494.2 L580.7,494.2 L581.1,494.2 L581.5,494.2 L581.9,494.3 L582.3,494.3 L582.7,494.3 L583.1,494.3 L583.5,494.3 L583.9,494.3 L584.3,494.4 L584.7,494.4 L585.1,494.5 L585.5,494.6 L585.9,494.7 L586.3,494.7 L586.7,494.8 L587.1,494.9 L587.5,495.1 L587.9,495.2 L588.3,495.3 L588.7,495.4 L589.2,495.5 L589.6,495.7 L590.0,495.8 L590.4,495.9 L590.8,496.1 L591.2,496.2 L591.6,496.3 L592.0,496.5 L592.4,496.6 L592.8,496.8 L593.2,496.9 L593.6,497.1 L594.0,497.3 L594.4,497.4 L594.8,497.6 L595.2,497.7 L595.6,497.9 L596.0,498.1 L596.4,498.3 L596.8,498.4 L597.2,498.6 L597.6,498.8 L598.0,499.0 L598.4,499.1 L598.8,499.3 L599.2,499.5 L599.6,499.7 L600.0,499.9 L600.4,500.1 L600.8,500.3 L601.2,500.5 L601.6,500.7 L602.0,500.9 L602.4,501.1 L602.8,501.3 L603.2,501.5 L603.6,501.7 L604.0,501.9 L604.4,502.1 L604.8,502.3 L604.8,502.3 L604.4,502.1 L604.0,501.9 L603.6,501.7 L603.2,501.5 L602.8,501.3 L602.4,501.1 L602.0,500.9 L601.6,500.7 L601.2,500.5 L600.8,500.3 L600.4,500.1 L600.0,499.9 L599.6,499.7 L599.2,499.5 L598.8,499.3 L598.4,499.1 L598.0,499.0 L597.6,498.8 L597.2,498.6 L596.8,498.4 L596.4,498.3 L596.0,498.1 L595.6,497.9 L595.2,497.7 L594.8,497.6 L594.4,497.4 L594.0,497.3 L593.6,497.1 L593.2,496.9 L592.8,496.8 L592.4,496.6 L592.0,496.5 L591.6,496.3 L591.2,496.2 L590.8,496.1 L590.4,495.9 L590.0,495.8 L589.6,495.7 L589.2,495.5 L588.7,495.4 L588.3,495.3 L587.9,495.2 L587.5,495.1 L587.1,494.9 L586.7,494.8 L586.3,494.7 L585.9,494.7 L585.5,494.6 L585.1,494.5 L584.7,494.4 L584.3,494.4 L583.9,494.3 L583.5,494.3 L583.1,494.3 L582.7,494.3 L582.3,494.3 L581.9,494.3 L581.5,494.2 L581.1,494.2 L580.7,494.2 L580.3,494.2 L579.9,494.2 L579.5,494.2 L579.1,494.2 L578.7,494.1 L578.3,494.1 L577.9,494.1 L577.5,494.1 L577.1,494.1 L576.7,494.1 L576.3,494.1 L575.9,494.0 L575.5,494.0 L575.1,494.0 L574.7,494.0 L574.3,494.0 L573.9,494.0 L573.5,494.0 L573.1,493.9 L572.7,493.9 L572.3,493.9 L571.9,493.9 L571.5,493.9 L571.1,493.9 L570.7,493.8 L570.3,493.8 L569.9,493.8 L569.5,493.8 L569.1,493.8 L568.7,493.8 L568.3,493.8 L567.9,493.7 L567.5,493.7 L567.1,493.7 L566.7,493.7 L566.3,493.7 L565.9,493.7 L565.5,493.7 L565.1,493.6 L564.7,493.6 L564.3,493.6 L563.9,493.6 L563.5,493.6 L563.1,493.6 L562.7,493.6 L562.3,493.5 L561.9,493.5 L561.5,493.5 L561.1,493.5 L560.7,493.5 L560.3,493.5 L559.9,493.5 L559.5,493.4 L559.1,493.4 L558.7,493.4 L558.3,493.4 L557.9,493.4 L557.5,493.4 L557.1,493.4 L556.6,493.3 L556.2,493.3 L555.8,493.3 L555.4,493.3 L555.0,493.3 L554.6,493.3 L554.2,493.3 L553.8,493.2 L553.4,493.2 L553.0,493.2 L552.6,493.2 L552.2,493.2 L551.8,493.2 L551.4,493.2 L551.0,493.1 L550.6,493.1 L550.2,493.1 L549.8,493.1 L549.4,493.1 L549.0,493.1 L548.6,493.1 L548.2,493.0 L547.8,493.0 L547.4,493.0 L547.0,493.0 L546.6,493.0 L546.2,493.0 L545.8,493.0 L545.4,492.9 L545.0,492.9 L544.6,492.9 L544.2,492.9 L543.8,492.9 L543.4,492.9 L543.0,492.9 L542.6,492.8 L542.2,492.8 L541.8,492.8 L541.4,492.8 L541.0,492.8 L540.6,492.8 L540.2,492.7 L539.8,492.7 L539.4,492.7 L539.0,492.7 L538.6,492.7 L538.2,492.7 L537.8,492.7 L537.4,492.6 L537.0,492.6 L536.6,492.6 L536.2,492.6 L535.8,492.6 L535.4,492.6 L535.0,492.6 L534.6,492.5 L534.2,492.5 L533.8,492.5 L533.4,492.5 L533.0,492.5 L532.6,492.5 L532.2,492.5 L531.8,492.4 L531.4,492.4 L531.0,492.4 L530.6,492.4 L530.2,492.4 L529.8,492.4 L529.4,492.4 L529.0,492.3 L528.6,492.3 L528.2,492.3 L527.8,492.3 L527.4,492.3 L527.0,492.3 L526.6,492.3 L526.2,492.2 L525.8,492.2 L525.4,492.2 L525.0,492.2 L524.5,492.2 L524.1,492.2 L523.7,492.2 L523.3,492.1 L522.9,492.1 L522.5,492.1 L522.1,492.1 L521.7,492.1 L521.3,492.1 L520.9,492.1 L520.5,492.0 L520.1,492.0 L519.7,492.0 L519.3,492.0 L518.9,492.0 L518.5,492.0 L518.1,492.0 L517.7,491.9 L517.3,491.9 L516.9,491.9 L516.5,491.9 L516.1,491.9 L515.7,491.9 L515.3,491.9 L514.9,491.8 L514.5,491.8 L514.1,491.8 L513.7,491.8 L513.3,491.8 L512.9,491.8 L512.5,491.8 L512.1,491.7 L511.7,491.7 L511.3,491.7 L510.9,491.7 L510.5,491.7 L510.1,491.7 L509.7,491.7 L509.3,491.6 L508.9,491.6Z" fill="#ecc0ee" stroke="#d37fd3" stroke-width="0.45" opacity="0.9"/>
<path d="M508.9,491.6 L509.3,491.6 L509.7,491.7 L510.1,491.7 L510.5,491.7 L510.9,491.7 L511.3,491.7 L511.7,491.7 L512.1,491.7 L512.5,491.8 L512.9,491.8 L513.3,491.8 L513.7,491.8 L514.1,491.8 L514.5,491.8 L514.9,491.8 L515.3,491.9 L515.7,491.9 L516.1,491.9 L516.5,491.9 L516.9,491.9 L517.3,491.9 L517.7,491.9 L518.1,492.0 L518.5,492.0 L518.9,492.0 L519.3,492.0 L519.7,492.0 L520.1,492.0 L520.5,492.0 L520.9,492.1 L521.3,492.1 L521.7,492.1 L522.1,492.1 L522.5,492.1 L522.9,492.1 L523.3,492.1 L523.7,492.2 L524.1,492.2 L524.5,492.2 L525.0,492.2 L525.4,492.2 L525.8,492.2 L526.2,492.2 L526.6,492.3 L527.0,492.3 L527.4,492.3 L527.8,492.3 L528.2,492.3 L528.6,492.3 L529.0,492.3 L529.4,492.4 L529.8,492.4 L530.2,492.4 L530.6,492.4 L531.0,492.4 L531.4,492.4 L531.8,492.4 L532.2,492.5 L532.6,492.5 L533.0,492.5 L533.4,492.5 L533.8,492.5 L534.2,492.5 L534.6,492.5 L535.0,492.6 L535.4,492.6 L535.8,492.6 L536.2,492.6 L536.6,492.6 L537.0,492.5 L537.4,492.5 L537.8,492.5 L538.2,492.4 L538.6,492.3 L539.0,492.1 L539.4,491.9 L539.8,491.7 L540.2,491.4 L540.6,491.0 L541.0,490.5 L541.4,490.0 L541.8,489.4 L542.2,488.8 L542.6,488.1 L543.0,487.4 L543.4,486.8 L543.8,486.2 L544.2,485.7 L544.6,485.3 L545.0,485.0 L545.4,484.9 L545.8,485.0 L546.2,485.2 L546.6,485.6 L547.0,486.1 L547.4,486.7 L547.8,487.3 L548.2,488.0 L548.6,488.7 L549.0,489.4 L549.4,490.0 L549.8,490.6 L550.2,491.1 L550.6,491.6 L551.0,492.0 L551.4,492.3 L551.8,492.5 L552.2,492.7 L552.6,492.9 L553.0,493.0 L553.4,493.1 L553.8,493.1 L554.2,493.2 L554.6,493.2 L555.0,493.3 L555.4,493.3 L555.8,493.3 L556.2,493.3 L556.6,493.3 L557.1,493.4 L557.5,493.4 L557.9,493.4 L558.3,493.4 L558.7,493.4 L559.1,493.4 L559.5,493.4 L559.9,493.5 L560.3,493.5 L560.7,493.5 L561.1,493.5 L561.5,493.5 L561.9,493.5 L562.3,493.5 L562.7,493.6 L563.1,493.6 L563.5,493.6 L563.9,493.6 L564.3,493.6 L564.7,493.6 L565.1,493.6 L565.5,493.7 L565.9,493.7 L566.3,493.7 L566.7,493.7 L567.1,493.7 L567.5,493.7 L567.9,493.7 L568.3,493.8 L568.7,493.8 L569.1,493.8 L569.5,493.8 L569.9,493.8 L570.3,493.8 L570.7,493.8 L571.1,493.9 L571.5,493.9 L571.9,493.9 L572.3,493.9 L572.7,493.9 L573.1,493.9 L573.5,494.0 L573.9,494.0 L574.3,494.0 L574.7,494.0 L575.1,494.0 L575.5,494.0 L575.9,494.0 L576.3,494.1 L576.7,494.1 L577.1,494.1 L577.5,494.1 L577.9,494.1 L578.3,494.1 L578.7,494.1 L579.1,494.2 L579.5,494.2 L579.9,494.2 L580.3,494.2 L580.7,494.2 L581.1,494.2 L581.5,494.2 L581.9,494.3 L582.3,494.3 L582.7,494.3 L583.1,494.3 L583.5,494.3 L583.9,494.3 L584.3,494.4 L584.7,494.4 L585.1,494.5 L585.5,494.6 L585.9,494.7 L586.3,494.7 L586.7,494.8 L587.1,494.9 L587.5,495.1 L587.9,495.2 L588.3,495.3 L588.7,495.4 L589.2,495.5 L589.6,495.7 L590.0,495.8 L590.4,495.9 L590.8,496.1 L591.2,496.2 L591.6,496.3 L592.0,496.5 L592.4,496.6 L592.8,496.8 L593.2,496.9 L593.6,497.1 L594.0,497.3 L594.4,497.4 L594.8,497.6 L595.2,497.7 L595.6,497.9 L596.0,498.1 L596.4,498.3 L596.8,498.4 L597.2,498.6 L597.6,498.8 L598.0,499.0 L598.4,499.1 L598.8,499.3 L599.2,499.5 L599.6,499.7 L600.0,499.9 L600.4,500.1 L600.8,500.3 L601.2,500.5 L601.6,500.7 L602.0,500.9 L602.4,501.1 L602.8,501.3 L603.2,501.5 L603.6,501.7 L604.0,501.9 L604.4,502.1 L604.8,502.3 L604.8,502.3 L604.4,502.1 L604.0,501.9 L603.6,501.7 L603.2,501.5 L602.8,501.3 L602.4,501.1 L602.0,500.9 L601.6,500.7 L601.2,500.5 L600.8,500.3 L600.4,500.1 L600.0,499.9 L599.6,499.7 L599.2,499.5 L598.8,499.3 L598.4,499.1 L598.0,499.0 L597.6,498.8 L597.2,498.6 L596.8,498.4 L596.4,498.3 L596.0,498.1 L595.6,497.9 L595.2,497.7 L594.8,497.6 L594.4,497.4 L594.0,497.3 L593.6,497.1 L593.2,496.9 L592.8,496.8 L592.4,496.6 L592.0,496.5 L591.6,496.3 L591.2,496.2 L590.8,496.1 L590.4,495.9 L590.0,495.8 L589.6,495.7 L589.2,495.5 L588.7,495.4 L588.3,495.3 L587.9,495.2 L587.5,495.1 L587.1,494.9 L586.7,494.8 L586.3,494.7 L585.9,494.7 L585.5,494.6 L585.1,494.5 L584.7,494.4 L584.3,494.4 L583.9,494.3 L583.5,494.3 L583.1,494.3 L582.7,494.3 L582.3,494.3 L581.9,494.3 L581.5,494.2 L581.1,494.2 L580.7,494.2 L580.3,494.2 L579.9,494.2 L579.5,494.2 L579.1,494.2 L578.7,494.1 L578.3,494.1 L577.9,494.1 L577.5,494.1 L577.1,494.1 L576.7,494.1 L576.3,494.1 L575.9,494.0 L575.5,494.0 L575.1,494.0 L574.7,494.0 L574.3,494.0 L573.9,494.0 L573.5,494.0 L573.1,493.9 L572.7,493.9 L572.3,493.9 L571.9,493.9 L571.5,493.9 L571.1,493.9 L570.7,493.8 L570.3,493.8 L569.9,493.8 L569.5,493.8 L569.1,493.8 L568.7,493.8 L568.3,493.8 L567.9,493.7 L567.5,493.7 L567.1,493.7 L566.7,493.7 L566.3,493.7 L565.9,493.7 L565.5,493.7 L565.1,493.6 L564.7,493.6 L564.3,493.6 L563.9,493.6 L563.5,493.6 L563.1,493.6 L562.7,493.6 L562.3,493.5 L561.9,493.5 L561.5,493.5 L561.1,493.5 L560.7,493.5 L560.3,493.5 L559.9,493.5 L559.5,493.4 L559.1,493.4 L558.7,493.4 L558.3,493.4 L557.9,493.4 L557.5,493.4 L557.1,493.4 L556.6,493.3 L556.2,493.3 L555.8,493.3 L555.4,493.3 L555.0,493.3 L554.6,493.3 L554.2,493.3 L553.8,493.2 L553.4,493.2 L553.0,493.2 L552.6,493.2 L552.2,493.2 L551.8,493.2 L551.4,493.2 L551.0,493.1 L550.6,493.1 L550.2,493.1 L549.8,493.1 L549.4,493.1 L549.0,493.1 L548.6,493.1 L548.2,493.0 L547.8,493.0 L547.4,493.0 L547.0,493.0 L546.6,493.0 L546.2,493.0 L545.8,493.0 L545.4,492.9 L545.0,492.9 L544.6,492.9 L544.2,492.9 L543.8,492.9 L543.4,492.9 L543.0,492.9 L542.6,492.8 L542.2,492.8 L541.8,492.8 L541.4,492.8 L541.0,492.8 L540.6,492.8 L540.2,492.7 L539.8,492.7 L539.4,492.7 L539.0,492.7 L538.6,492.7 L538.2,492.7 L537.8,492.7 L537.4,492.6 L537.0,492.6 L536.6,492.6 L536.2,492.6 L535.8,492.6 L535.4,492.6 L535.0,492.6 L534.6,492.5 L534.2,492.5 L533.8,492.5 L533.4,492.5 L533.0,492.5 L532.6,492.5 L532.2,492.5 L531.8,492.4 L531.4,492.4 L531.0,492.4 L530.6,492.4 L530.2,492.4 L529.8,492.4 L529.4,492.4 L529.0,492.3 L528.6,492.3 L528.2,492.3 L527.8,492.3 L527.4,492.3 L527.0,492.3 L526.6,492.3 L526.2,492.2 L525.8,492.2 L525.4,492.2 L525.0,492.2 L524.5,492.2 L524.1,492.2 L523.7,492.2 L523.3,492.1 L522.9,492.1 L522.5,492.1 L522.1,492.1 L521.7,492.1 L521.3,492.1 L520.9,492.1 L520.5,492.0 L520.1,492.0 L519.7,492.0 L519.3,492.0 L518.9,492.0 L518.5,492.0 L518.1,492.0 L517.7,491.9 L517.3,491.9 L516.9,491.9 L516.5,491.9 L516.1,491.9 L515.7,491.9 L515.3,491.9 L514.9,491.8 L514.5,491.8 L514.1,491.8 L513.7,491.8 L513.3,491.8 L512.9,491.8 L512.5,491.8 L512.1,491.7 L511.7,491.7 L511.3,491.7 L510.9,491.7 L510.5,491.7 L510.1,491.7 L509.7,491.7 L509.3,491.6 L508.9,491.6Z" fill="#b4d2f0" stroke="#4a8ad0" stroke-width="0.45" opacity="0.9"/>
<path d="M508.9,491.6 L509.3,491.6 L509.7,491.7 L510.1,491.7 L510.5,491.7 L510.9,491.7 L511.3,491.7 L511.7,491.7 L512.1,491.7 L512.5,491.8 L512.9,491.8 L513.3,491.8 L513.7,491.8 L514.1,491.8 L514.5,491.8 L514.9,491.8 L515.3,491.9 L515.7,491.9 L516.1,491.9 L516.5,491.9 L516.9,491.9 L517.3,491.9 L517.7,491.9 L518.1,492.0 L518.5,492.0 L518.9,492.0 L519.3,492.0 L519.7,492.0 L520.1,492.0 L520.5,492.0 L520.9,492.1 L521.3,492.1 L521.7,492.1 L522.1,492.1 L522.5,492.1 L522.9,492.1 L523.3,492.1 L523.7,492.2 L524.1,492.2 L524.5,492.2 L525.0,492.2 L525.4,492.2 L525.8,492.2 L526.2,492.2 L526.6,492.3 L527.0,492.3 L527.4,492.3 L527.8,492.3 L528.2,492.3 L528.6,492.3 L529.0,492.3 L529.4,492.4 L529.8,492.4 L530.2,492.4 L530.6,492.4 L531.0,492.4 L531.4,492.4 L531.8,492.4 L532.2,492.5 L532.6,492.5 L533.0,492.5 L533.4,492.5 L533.8,492.5 L534.2,492.5 L534.6,492.5 L535.0,492.6 L535.4,492.6 L535.8,492.6 L536.2,492.6 L536.6,492.6 L537.0,492.6 L537.4,492.6 L537.8,492.7 L538.2,492.7 L538.6,492.7 L539.0,492.7 L539.4,492.7 L539.8,492.7 L540.2,492.7 L540.6,492.8 L541.0,492.8 L541.4,492.8 L541.8,492.8 L542.2,492.8 L542.6,492.8 L543.0,492.9 L543.4,492.9 L543.8,492.9 L544.2,492.9 L544.6,492.9 L545.0,492.9 L545.4,492.9 L545.8,493.0 L546.2,493.0 L546.6,493.0 L547.0,493.0 L547.4,493.0 L547.8,493.0 L548.2,493.0 L548.6,493.1 L549.0,493.1 L549.4,493.1 L549.8,493.1 L550.2,493.1 L550.6,493.1 L551.0,493.1 L551.4,493.2 L551.8,493.2 L552.2,493.2 L552.6,493.2 L553.0,493.2 L553.4,493.2 L553.8,493.2 L554.2,493.1 L554.6,493.1 L555.0,493.0 L555.4,492.9 L555.8,492.7 L556.2,492.6 L556.6,492.4 L557.1,492.3 L557.5,492.2 L557.9,492.2 L558.3,492.2 L558.7,492.3 L559.1,492.4 L559.5,492.6 L559.9,492.8 L560.3,492.9 L560.7,493.1 L561.1,493.2 L561.5,493.3 L561.9,493.4 L562.3,493.5 L562.7,493.5 L563.1,493.6 L563.5,493.6 L563.9,493.6 L564.3,493.6 L564.7,493.6 L565.1,493.6 L565.5,493.7 L565.9,493.7 L566.3,493.7 L566.7,493.7 L567.1,493.7 L567.5,493.7 L567.9,493.7 L568.3,493.8 L568.7,493.8 L569.1,493.8 L569.5,493.8 L569.9,493.8 L570.3,493.8 L570.7,493.8 L571.1,493.9 L571.5,493.9 L571.9,493.9 L572.3,493.9 L572.7,493.9 L573.1,493.9 L573.5,494.0 L573.9,494.0 L574.3,494.0 L574.7,494.0 L575.1,494.0 L575.5,494.0 L575.9,494.0 L576.3,494.1 L576.7,494.1 L577.1,494.1 L577.5,494.1 L577.9,494.1 L578.3,494.1 L578.7,494.1 L579.1,494.2 L579.5,494.2 L579.9,494.2 L580.3,494.2 L580.7,494.2 L581.1,494.2 L581.5,494.2 L581.9,494.3 L582.3,494.3 L582.7,494.3 L583.1,494.3 L583.5,494.3 L583.9,494.3 L584.3,494.4 L584.7,494.4 L585.1,494.5 L585.5,494.6 L585.9,494.7 L586.3,494.7 L586.7,494.8 L587.1,494.9 L587.5,495.1 L587.9,495.2 L588.3,495.3 L588.7,495.4 L589.2,495.5 L589.6,495.7 L590.0,495.8 L590.4,495.9 L590.8,496.1 L591.2,496.2 L591.6,496.3 L592.0,496.5 L592.4,496.6 L592.8,496.8 L593.2,496.9 L593.6,497.1 L594.0,497.3 L594.4,497.4 L594.8,497.6 L595.2,497.7 L595.6,497.9 L596.0,498.1 L596.4,498.3 L596.8,498.4 L597.2,498.6 L597.6,498.8 L598.0,499.0 L598.4,499.1 L598.8,499.3 L599.2,499.5 L599.6,499.7 L600.0,499.9 L600.4,500.1 L600.8,500.3 L601.2,500.5 L601.6,500.7 L602.0,500.9 L602.4,501.1 L602.8,501.3 L603.2,501.5 L603.6,501.7 L604.0,501.9 L604.4,502.1 L604.8,502.3 L604.8,502.3 L604.4,502.1 L604.0,501.9 L603.6,501.7 L603.2,501.5 L602.8,501.3 L602.4,501.1 L602.0,500.9 L601.6,500.7 L601.2,500.5 L600.8,500.3 L600.4,500.1 L600.0,499.9 L599.6,499.7 L599.2,499.5 L598.8,499.3 L598.4,499.1 L598.0,499.0 L597.6,498.8 L597.2,498.6 L596.8,498.4 L596.4,498.3 L596.0,498.1 L595.6,497.9 L595.2,497.7 L594.8,497.6 L594.4,497.4 L594.0,497.3 L593.6,497.1 L593.2,496.9 L592.8,496.8 L592.4,496.6 L592.0,496.5 L591.6,496.3 L591.2,496.2 L590.8,496.1 L590.4,495.9 L590.0,495.8 L589.6,495.7 L589.2,495.5 L588.7,495.4 L588.3,495.3 L587.9,495.2 L587.5,495.1 L587.1,494.9 L586.7,494.8 L586.3,494.7 L585.9,494.7 L585.5,494.6 L585.1,494.5 L584.7,494.4 L584.3,494.4 L583.9,494.3 L583.5,494.3 L583.1,494.3 L582.7,494.3 L582.3,494.3 L581.9,494.3 L581.5,494.2 L581.1,494.2 L580.7,494.2 L580.3,494.2 L579.9,494.2 L579.5,494.2 L579.1,494.2 L578.7,494.1 L578.3,494.1 L577.9,494.1 L577.5,494.1 L577.1,494.1 L576.7,494.1 L576.3,494.1 L575.9,494.0 L575.5,494.0 L575.1,494.0 L574.7,494.0 L574.3,494.0 L573.9,494.0 L573.5,494.0 L573.1,493.9 L572.7,493.9 L572.3,493.9 L571.9,493.9 L571.5,493.9 L571.1,493.9 L570.7,493.8 L570.3,493.8 L569.9,493.8 L569.5,493.8 L569.1,493.8 L568.7,493.8 L568.3,493.8 L567.9,493.7 L567.5,493.7 L567.1,493.7 L566.7,493.7 L566.3,493.7 L565.9,493.7 L565.5,493.7 L565.1,493.6 L564.7,493.6 L564.3,493.6 L563.9,493.6 L563.5,493.6 L563.1,493.6 L562.7,493.6 L562.3,493.5 L561.9,493.5 L561.5,493.5 L561.1,493.5 L560.7,493.5 L560.3,493.5 L559.9,493.5 L559.5,493.4 L559.1,493.4 L558.7,493.4 L558.3,493.4 L557.9,493.4 L557.5,493.4 L557.1,493.4 L556.6,493.3 L556.2,493.3 L555.8,493.3 L555.4,493.3 L555.0,493.3 L554.6,493.3 L554.2,493.3 L553.8,493.2 L553.4,493.2 L553.0,493.2 L552.6,493.2 L552.2,493.2 L551.8,493.2 L551.4,493.2 L551.0,493.1 L550.6,493.1 L550.2,493.1 L549.8,493.1 L549.4,493.1 L549.0,493.1 L548.6,493.1 L548.2,493.0 L547.8,493.0 L547.4,493.0 L547.0,493.0 L546.6,493.0 L546.2,493.0 L545.8,493.0 L545.4,492.9 L545.0,492.9 L544.6,492.9 L544.2,492.9 L543.8,492.9 L543.4,492.9 L543.0,492.9 L542.6,492.8 L542.2,492.8 L541.8,492.8 L541.4,492.8 L541.0,492.8 L540.6,492.8 L540.2,492.7 L539.8,492.7 L539.4,492.7 L539.0,492.7 L538.6,492.7 L538.2,492.7 L537.8,492.7 L537.4,492.6 L537.0,492.6 L536.6,492.6 L536.2,492.6 L535.8,492.6 L535.4,492.6 L535.0,492.6 L534.6,492.5 L534.2,492.5 L533.8,492.5 L533.4,492.5 L533.0,492.5 L532.6,492.5 L532.2,492.5 L531.8,492.4 L531.4,492.4 L531.0,492.4 L530.6,492.4 L530.2,492.4 L529.8,492.4 L529.4,492.4 L529.0,492.3 L528.6,492.3 L528.2,492.3 L527.8,492.3 L527.4,492.3 L527.0,492.3 L526.6,492.3 L526.2,492.2 L525.8,492.2 L525.4,492.2 L525.0,492.2 L524.5,492.2 L524.1,492.2 L523.7,492.2 L523.3,492.1 L522.9,492.1 L522.5,492.1 L522.1,492.1 L521.7,492.1 L521.3,492.1 L520.9,492.1 L520.5,492.0 L520.1,492.0 L519.7,492.0 L519.3,492.0 L518.9,492.0 L518.5,492.0 L518.1,492.0 L517.7,491.9 L517.3,491.9 L516.9,491.9 L516.5,491.9 L516.1,491.9 L515.7,491.9 L515.3,491.9 L514.9,491.8 L514.5,491.8 L514.1,491.8 L513.7,491.8 L513.3,491.8 L512.9,491.8 L512.5,491.8 L512.1,491.7 L511.7,491.7 L511.3,491.7 L510.9,491.7 L510.5,491.7 L510.1,491.7 L509.7,491.7 L509.3,491.6 L508.9,491.6Z" fill="#eec0f0" stroke="#cc70cc" stroke-width="0.45" opacity="0.9"/>
<path d="M508.9,491.6 L509.3,491.6 L509.7,491.7 L510.1,491.7 L510.5,491.7 L510.9,491.7 L511.3,491.7 L511.7,491.7 L512.1,491.7 L512.5,491.8 L512.9,491.8 L513.3,491.8 L513.7,491.8 L514.1,491.8 L514.5,491.8 L514.9,491.8 L515.3,491.9 L515.7,491.9 L516.1,491.9 L516.5,491.9 L516.9,491.9 L517.3,491.9 L517.7,491.9 L518.1,492.0 L518.5,492.0 L518.9,492.0 L519.3,492.0 L519.7,492.0 L520.1,492.0 L520.5,492.0 L520.9,492.1 L521.3,492.1 L521.7,492.1 L522.1,492.1 L522.5,492.1 L522.9,492.1 L523.3,492.1 L523.7,492.2 L524.1,492.2 L524.5,492.2 L525.0,492.2 L525.4,492.2 L525.8,492.2 L526.2,492.2 L526.6,492.3 L527.0,492.3 L527.4,492.3 L527.8,492.3 L528.2,492.3 L528.6,492.3 L529.0,492.3 L529.4,492.4 L529.8,492.4 L530.2,492.4 L530.6,492.4 L531.0,492.4 L531.4,492.4 L531.8,492.4 L532.2,492.5 L532.6,492.5 L533.0,492.5 L533.4,492.5 L533.8,492.5 L534.2,492.5 L534.6,492.5 L535.0,492.6 L535.4,492.6 L535.8,492.6 L536.2,492.6 L536.6,492.6 L537.0,492.6 L537.4,492.6 L537.8,492.7 L538.2,492.7 L538.6,492.7 L539.0,492.7 L539.4,492.7 L539.8,492.7 L540.2,492.7 L540.6,492.8 L541.0,492.8 L541.4,492.8 L541.8,492.8 L542.2,492.8 L542.6,492.8 L543.0,492.9 L543.4,492.9 L543.8,492.9 L544.2,492.9 L544.6,492.9 L545.0,492.9 L545.4,492.9 L545.8,493.0 L546.2,493.0 L546.6,493.0 L547.0,493.0 L547.4,493.0 L547.8,493.0 L548.2,493.0 L548.6,493.1 L549.0,493.1 L549.4,493.1 L549.8,493.1 L550.2,493.1 L550.6,493.1 L551.0,493.1 L551.4,493.2 L551.8,493.2 L552.2,493.2 L552.6,493.2 L553.0,493.2 L553.4,493.2 L553.8,493.2 L554.2,493.3 L554.6,493.3 L555.0,493.3 L555.4,493.3 L555.8,493.3 L556.2,493.3 L556.6,493.3 L557.1,493.4 L557.5,493.4 L557.9,493.4 L558.3,493.4 L558.7,493.4 L559.1,493.4 L559.5,493.4 L559.9,493.4 L560.3,493.4 L560.7,493.4 L561.1,493.4 L561.5,493.4 L561.9,493.4 L562.3,493.4 L562.7,493.4 L563.1,493.4 L563.5,493.4 L563.9,493.4 L564.3,493.3 L564.7,493.3 L565.1,493.2 L565.5,493.2 L565.9,493.1 L566.3,493.0 L566.7,493.0 L567.1,492.9 L567.5,492.8 L567.9,492.6 L568.3,492.5 L568.7,492.4 L569.1,492.2 L569.5,492.0 L569.9,491.9 L570.3,491.7 L570.7,491.5 L571.1,491.3 L571.5,491.0 L571.9,490.8 L572.3,490.6 L572.7,490.4 L573.1,490.2 L573.5,489.9 L573.9,489.7 L574.3,489.5 L574.7,489.4 L575.1,489.2 L575.5,489.0 L575.9,488.9 L576.3,488.8 L576.7,488.7 L577.1,488.6 L577.5,488.6 L577.9,488.6 L578.3,488.6 L578.7,488.7 L579.1,488.8 L579.5,488.9 L579.9,489.0 L580.3,489.1 L580.7,489.3 L581.1,489.5 L581.5,489.7 L581.9,489.9 L582.3,490.2 L582.7,490.4 L583.1,490.7 L583.5,490.9 L583.9,491.2 L584.3,491.4 L584.7,491.7 L585.1,492.0 L585.5,492.3 L585.9,492.6 L586.3,492.9 L586.7,493.2 L587.1,493.5 L587.5,493.7 L587.9,494.0 L588.3,494.3 L588.7,494.5 L589.2,494.7 L589.6,495.0 L590.0,495.2 L590.4,495.4 L590.8,495.6 L591.2,495.8 L591.6,496.0 L592.0,496.2 L592.4,496.4 L592.8,496.6 L593.2,496.8 L593.6,497.0 L594.0,497.2 L594.4,497.3 L594.8,497.5 L595.2,497.7 L595.6,497.9 L596.0,498.0 L596.4,498.2 L596.8,498.4 L597.2,498.6 L597.6,498.8 L598.0,498.9 L598.4,499.1 L598.8,499.3 L599.2,499.5 L599.6,499.7 L600.0,499.9 L600.4,500.1 L600.8,500.3 L601.2,500.5 L601.6,500.7 L602.0,500.9 L602.4,501.1 L602.8,501.3 L603.2,501.5 L603.6,501.7 L604.0,501.9 L604.4,502.1 L604.8,502.3 L604.8,502.3 L604.4,502.1 L604.0,501.9 L603.6,501.7 L603.2,501.5 L602.8,501.3 L602.4,501.1 L602.0,500.9 L601.6,500.7 L601.2,500.5 L600.8,500.3 L600.4,500.1 L600.0,499.9 L599.6,499.7 L599.2,499.5 L598.8,499.3 L598.4,499.1 L598.0,499.0 L597.6,498.8 L597.2,498.6 L596.8,498.4 L596.4,498.3 L596.0,498.1 L595.6,497.9 L595.2,497.7 L594.8,497.6 L594.4,497.4 L594.0,497.3 L593.6,497.1 L593.2,496.9 L592.8,496.8 L592.4,496.6 L592.0,496.5 L591.6,496.3 L591.2,496.2 L590.8,496.1 L590.4,495.9 L590.0,495.8 L589.6,495.7 L589.2,495.5 L588.7,495.4 L588.3,495.3 L587.9,495.2 L587.5,495.1 L587.1,494.9 L586.7,494.8 L586.3,494.7 L585.9,494.7 L585.5,494.6 L585.1,494.5 L584.7,494.4 L584.3,494.4 L583.9,494.3 L583.5,494.3 L583.1,494.3 L582.7,494.3 L582.3,494.3 L581.9,494.3 L581.5,494.2 L581.1,494.2 L580.7,494.2 L580.3,494.2 L579.9,494.2 L579.5,494.2 L579.1,494.2 L578.7,494.1 L578.3,494.1 L577.9,494.1 L577.5,494.1 L577.1,494.1 L576.7,494.1 L576.3,494.1 L575.9,494.0 L575.5,494.0 L575.1,494.0 L574.7,494.0 L574.3,494.0 L573.9,494.0 L573.5,494.0 L573.1,493.9 L572.7,493.9 L572.3,493.9 L571.9,493.9 L571.5,493.9 L571.1,493.9 L570.7,493.8 L570.3,493.8 L569.9,493.8 L569.5,493.8 L569.1,493.8 L568.7,493.8 L568.3,493.8 L567.9,493.7 L567.5,493.7 L567.1,493.7 L566.7,493.7 L566.3,493.7 L565.9,493.7 L565.5,493.7 L565.1,493.6 L564.7,493.6 L564.3,493.6 L563.9,493.6 L563.5,493.6 L563.1,493.6 L562.7,493.6 L562.3,493.5 L561.9,493.5 L561.5,493.5 L561.1,493.5 L560.7,493.5 L560.3,493.5 L559.9,493.5 L559.5,493.4 L559.1,493.4 L558.7,493.4 L558.3,493.4 L557.9,493.4 L557.5,493.4 L557.1,493.4 L556.6,493.3 L556.2,493.3 L555.8,493.3 L555.4,493.3 L555.0,493.3 L554.6,493.3 L554.2,493.3 L553.8,493.2 L553.4,493.2 L553.0,493.2 L552.6,493.2 L552.2,493.2 L551.8,493.2 L551.4,493.2 L551.0,493.1 L550.6,493.1 L550.2,493.1 L549.8,493.1 L549.4,493.1 L549.0,493.1 L548.6,493.1 L548.2,493.0 L547.8,493.0 L547.4,493.0 L547.0,493.0 L546.6,493.0 L546.2,493.0 L545.8,493.0 L545.4,492.9 L545.0,492.9 L544.6,492.9 L544.2,492.9 L543.8,492.9 L543.4,492.9 L543.0,492.9 L542.6,492.8 L542.2,492.8 L541.8,492.8 L541.4,492.8 L541.0,492.8 L540.6,492.8 L540.2,492.7 L539.8,492.7 L539.4,492.7 L539.0,492.7 L538.6,492.7 L538.2,492.7 L537.8,492.7 L537.4,492.6 L537.0,492.6 L536.6,492.6 L536.2,492.6 L535.8,492.6 L535.4,492.6 L535.0,492.6 L534.6,492.5 L534.2,492.5 L533.8,492.5 L533.4,492.5 L533.0,492.5 L532.6,492.5 L532.2,492.5 L531.8,492.4 L531.4,492.4 L531.0,492.4 L530.6,492.4 L530.2,492.4 L529.8,492.4 L529.4,492.4 L529.0,492.3 L528.6,492.3 L528.2,492.3 L527.8,492.3 L527.4,492.3 L527.0,492.3 L526.6,492.3 L526.2,492.2 L525.8,492.2 L525.4,492.2 L525.0,492.2 L524.5,492.2 L524.1,492.2 L523.7,492.2 L523.3,492.1 L522.9,492.1 L522.5,492.1 L522.1,492.1 L521.7,492.1 L521.3,492.1 L520.9,492.1 L520.5,492.0 L520.1,492.0 L519.7,492.0 L519.3,492.0 L518.9,492.0 L518.5,492.0 L518.1,492.0 L517.7,491.9 L517.3,491.9 L516.9,491.9 L516.5,491.9 L516.1,491.9 L515.7,491.9 L515.3,491.9 L514.9,491.8 L514.5,491.8 L514.1,491.8 L513.7,491.8 L513.3,491.8 L512.9,491.8 L512.5,491.8 L512.1,491.7 L511.7,491.7 L511.3,491.7 L510.9,491.7 L510.5,491.7 L510.1,491.7 L509.7,491.7 L509.3,491.6 L508.9,491.6Z" fill="#dedede" stroke="#9a9a9a" stroke-width="0.45" opacity="0.9"/>
<path d="M508.9,491.6 L509.3,491.6 L509.7,491.7 L510.1,491.7 L510.5,491.7 L510.9,491.7 L511.3,491.7 L511.7,491.7 L512.1,491.7 L512.5,491.8 L512.9,491.8 L513.3,491.8 L513.7,491.8 L514.1,491.8 L514.5,491.8 L514.9,491.8 L515.3,491.9 L515.7,491.9 L516.1,491.9 L516.5,491.9 L516.9,491.9 L517.3,491.9 L517.7,491.9 L518.1,492.0 L518.5,492.0 L518.9,492.0 L519.3,492.0 L519.7,492.0 L520.1,492.0 L520.5,492.0 L520.9,492.1 L521.3,492.1 L521.7,492.1 L522.1,492.1 L522.5,492.1 L522.9,492.1 L523.3,492.1 L523.7,492.2 L524.1,492.2 L524.5,492.2 L525.0,492.2 L525.4,492.2 L525.8,492.2 L526.2,492.2 L526.6,492.3 L527.0,492.3 L527.4,492.3 L527.8,492.3 L528.2,492.3 L528.6,492.3 L529.0,492.3 L529.4,492.4 L529.8,492.4 L530.2,492.4 L530.6,492.4 L531.0,492.4 L531.4,492.4 L531.8,492.4 L532.2,492.5 L532.6,492.5 L533.0,492.5 L533.4,492.5 L533.8,492.5 L534.2,492.5 L534.6,492.5 L535.0,492.6 L535.4,492.6 L535.8,492.6 L536.2,492.6 L536.6,492.6 L537.0,492.6 L537.4,492.6 L537.8,492.7 L538.2,492.7 L538.6,492.7 L539.0,492.7 L539.4,492.7 L539.8,492.7 L540.2,492.7 L540.6,492.8 L541.0,492.8 L541.4,492.8 L541.8,492.8 L542.2,492.8 L542.6,492.8 L543.0,492.9 L543.4,492.9 L543.8,492.9 L544.2,492.9 L544.6,492.9 L545.0,492.9 L545.4,492.9 L545.8,493.0 L546.2,493.0 L546.6,493.0 L547.0,493.0 L547.4,493.0 L547.8,493.0 L548.2,493.0 L548.6,493.1 L549.0,493.1 L549.4,493.1 L549.8,493.1 L550.2,493.1 L550.6,493.1 L551.0,493.1 L551.4,493.2 L551.8,493.2 L552.2,493.2 L552.6,493.2 L553.0,493.2 L553.4,493.2 L553.8,493.2 L554.2,493.3 L554.6,493.3 L555.0,493.3 L555.4,493.3 L555.8,493.3 L556.2,493.3 L556.6,493.3 L557.1,493.4 L557.5,493.4 L557.9,493.4 L558.3,493.4 L558.7,493.4 L559.1,493.4 L559.5,493.4 L559.9,493.5 L560.3,493.5 L560.7,493.5 L561.1,493.5 L561.5,493.5 L561.9,493.5 L562.3,493.5 L562.7,493.6 L563.1,493.6 L563.5,493.6 L563.9,493.6 L564.3,493.6 L564.7,493.6 L565.1,493.6 L565.5,493.7 L565.9,493.7 L566.3,493.7 L566.7,493.7 L567.1,493.7 L567.5,493.7 L567.9,493.7 L568.3,493.8 L568.7,493.8 L569.1,493.8 L569.5,493.8 L569.9,493.8 L570.3,493.8 L570.7,493.8 L571.1,493.9 L571.5,493.9 L571.9,493.9 L572.3,493.9 L572.7,493.9 L573.1,493.9 L573.5,493.9 L573.9,493.9 L574.3,493.9 L574.7,493.9 L575.1,493.9 L575.5,493.9 L575.9,493.8 L576.3,493.7 L576.7,493.6 L577.1,493.4 L577.5,493.2 L577.9,492.8 L578.3,492.4 L578.7,491.9 L579.1,491.2 L579.5,490.4 L579.9,489.4 L580.3,488.3 L580.7,487.0 L581.1,485.6 L581.5,484.2 L581.9,482.7 L582.3,481.2 L582.7,479.8 L583.1,478.5 L583.5,477.4 L583.9,476.6 L584.3,476.1 L584.7,475.9 L585.1,476.1 L585.5,476.6 L585.9,477.5 L586.3,478.6 L586.7,479.9 L587.1,481.4 L587.5,483.0 L587.9,484.6 L588.3,486.2 L588.7,487.8 L589.2,489.2 L589.6,490.5 L590.0,491.7 L590.4,492.7 L590.8,493.6 L591.2,494.3 L591.6,495.0 L592.0,495.5 L592.4,495.9 L592.8,496.3 L593.2,496.6 L593.6,496.9 L594.0,497.1 L594.4,497.3 L594.8,497.5 L595.2,497.7 L595.6,497.9 L596.0,498.1 L596.4,498.2 L596.8,498.4 L597.2,498.6 L597.6,498.8 L598.0,499.0 L598.4,499.1 L598.8,499.3 L599.2,499.5 L599.6,499.7 L600.0,499.9 L600.4,500.1 L600.8,500.3 L601.2,500.5 L601.6,500.7 L602.0,500.9 L602.4,501.1 L602.8,501.3 L603.2,501.5 L603.6,501.7 L604.0,501.9 L604.4,502.1 L604.8,502.3 L604.8,502.3 L604.4,502.1 L604.0,501.9 L603.6,501.7 L603.2,501.5 L602.8,501.3 L602.4,501.1 L602.0,500.9 L601.6,500.7 L601.2,500.5 L600.8,500.3 L600.4,500.1 L600.0,499.9 L599.6,499.7 L599.2,499.5 L598.8,499.3 L598.4,499.1 L598.0,499.0 L597.6,498.8 L597.2,498.6 L596.8,498.4 L596.4,498.3 L596.0,498.1 L595.6,497.9 L595.2,497.7 L594.8,497.6 L594.4,497.4 L594.0,497.3 L593.6,497.1 L593.2,496.9 L592.8,496.8 L592.4,496.6 L592.0,496.5 L591.6,496.3 L591.2,496.2 L590.8,496.1 L590.4,495.9 L590.0,495.8 L589.6,495.7 L589.2,495.5 L588.7,495.4 L588.3,495.3 L587.9,495.2 L587.5,495.1 L587.1,494.9 L586.7,494.8 L586.3,494.7 L585.9,494.7 L585.5,494.6 L585.1,494.5 L584.7,494.4 L584.3,494.4 L583.9,494.3 L583.5,494.3 L583.1,494.3 L582.7,494.3 L582.3,494.3 L581.9,494.3 L581.5,494.2 L581.1,494.2 L580.7,494.2 L580.3,494.2 L579.9,494.2 L579.5,494.2 L579.1,494.2 L578.7,494.1 L578.3,494.1 L577.9,494.1 L577.5,494.1 L577.1,494.1 L576.7,494.1 L576.3,494.1 L575.9,494.0 L575.5,494.0 L575.1,494.0 L574.7,494.0 L574.3,494.0 L573.9,494.0 L573.5,494.0 L573.1,493.9 L572.7,493.9 L572.3,493.9 L571.9,493.9 L571.5,493.9 L571.1,493.9 L570.7,493.8 L570.3,493.8 L569.9,493.8 L569.5,493.8 L569.1,493.8 L568.7,493.8 L568.3,493.8 L567.9,493.7 L567.5,493.7 L567.1,493.7 L566.7,493.7 L566.3,493.7 L565.9,493.7 L565.5,493.7 L565.1,493.6 L564.7,493.6 L564.3,493.6 L563.9,493.6 L563.5,493.6 L563.1,493.6 L562.7,493.6 L562.3,493.5 L561.9,493.5 L561.5,493.5 L561.1,493.5 L560.7,493.5 L560.3,493.5 L559.9,493.5 L559.5,493.4 L559.1,493.4 L558.7,493.4 L558.3,493.4 L557.9,493.4 L557.5,493.4 L557.1,493.4 L556.6,493.3 L556.2,493.3 L555.8,493.3 L555.4,493.3 L555.0,493.3 L554.6,493.3 L554.2,493.3 L553.8,493.2 L553.4,493.2 L553.0,493.2 L552.6,493.2 L552.2,493.2 L551.8,493.2 L551.4,493.2 L551.0,493.1 L550.6,493.1 L550.2,493.1 L549.8,493.1 L549.4,493.1 L549.0,493.1 L548.6,493.1 L548.2,493.0 L547.8,493.0 L547.4,493.0 L547.0,493.0 L546.6,493.0 L546.2,493.0 L545.8,493.0 L545.4,492.9 L545.0,492.9 L544.6,492.9 L544.2,492.9 L543.8,492.9 L543.4,492.9 L543.0,492.9 L542.6,492.8 L542.2,492.8 L541.8,492.8 L541.4,492.8 L541.0,492.8 L540.6,492.8 L540.2,492.7 L539.8,492.7 L539.4,492.7 L539.0,492.7 L538.6,492.7 L538.2,492.7 L537.8,492.7 L537.4,492.6 L537.0,492.6 L536.6,492.6 L536.2,492.6 L535.8,492.6 L535.4,492.6 L535.0,492.6 L534.6,492.5 L534.2,492.5 L533.8,492.5 L533.4,492.5 L533.0,492.5 L532.6,492.5 L532.2,492.5 L531.8,492.4 L531.4,492.4 L531.0,492.4 L530.6,492.4 L530.2,492.4 L529.8,492.4 L529.4,492.4 L529.0,492.3 L528.6,492.3 L528.2,492.3 L527.8,492.3 L527.4,492.3 L527.0,492.3 L526.6,492.3 L526.2,492.2 L525.8,492.2 L525.4,492.2 L525.0,492.2 L524.5,492.2 L524.1,492.2 L523.7,492.2 L523.3,492.1 L522.9,492.1 L522.5,492.1 L522.1,492.1 L521.7,492.1 L521.3,492.1 L520.9,492.1 L520.5,492.0 L520.1,492.0 L519.7,492.0 L519.3,492.0 L518.9,492.0 L518.5,492.0 L518.1,492.0 L517.7,491.9 L517.3,491.9 L516.9,491.9 L516.5,491.9 L516.1,491.9 L515.7,491.9 L515.3,491.9 L514.9,491.8 L514.5,491.8 L514.1,491.8 L513.7,491.8 L513.3,491.8 L512.9,491.8 L512.5,491.8 L512.1,491.7 L511.7,491.7 L511.3,491.7 L510.9,491.7 L510.5,491.7 L510.1,491.7 L509.7,491.7 L509.3,491.6 L508.9,491.6Z" fill="#b4d2f0" stroke="#4a8ad0" stroke-width="0.45" opacity="0.9"/>
<path d="M508.9,491.6 L509.3,491.6 L509.7,491.7 L510.1,491.7 L510.5,491.7 L510.9,491.7 L511.3,491.7 L511.7,491.7 L512.1,491.7 L512.5,491.8 L512.9,491.8 L513.3,491.8 L513.7,491.8 L514.1,491.8 L514.5,491.8 L514.9,491.8 L515.3,491.9 L515.7,491.9 L516.1,491.9 L516.5,491.9 L516.9,491.9 L517.3,491.9 L517.7,491.9 L518.1,492.0 L518.5,492.0 L518.9,492.0 L519.3,492.0 L519.7,492.0 L520.1,492.0 L520.5,492.0 L520.9,492.1 L521.3,492.1 L521.7,492.1 L522.1,492.1 L522.5,492.1 L522.9,492.1 L523.3,492.1 L523.7,492.2 L524.1,492.2 L524.5,492.2 L525.0,492.2 L525.4,492.2 L525.8,492.2 L526.2,492.2 L526.6,492.3 L527.0,492.3 L527.4,492.3 L527.8,492.3 L528.2,492.3 L528.6,492.3 L529.0,492.3 L529.4,492.4 L529.8,492.4 L530.2,492.4 L530.6,492.4 L531.0,492.4 L531.4,492.4 L531.8,492.4 L532.2,492.5 L532.6,492.5 L533.0,492.5 L533.4,492.5 L533.8,492.5 L534.2,492.5 L534.6,492.5 L535.0,492.6 L535.4,492.6 L535.8,492.6 L536.2,492.6 L536.6,492.6 L537.0,492.6 L537.4,492.6 L537.8,492.7 L538.2,492.7 L538.6,492.7 L539.0,492.7 L539.4,492.7 L539.8,492.7 L540.2,492.7 L540.6,492.8 L541.0,492.8 L541.4,492.8 L541.8,492.8 L542.2,492.8 L542.6,492.8 L543.0,492.9 L543.4,492.9 L543.8,492.9 L544.2,492.9 L544.6,492.9 L545.0,492.9 L545.4,492.9 L545.8,493.0 L546.2,493.0 L546.6,493.0 L547.0,493.0 L547.4,493.0 L547.8,493.0 L548.2,493.0 L548.6,493.1 L549.0,493.1 L549.4,493.1 L549.8,493.1 L550.2,493.1 L550.6,493.1 L551.0,493.1 L551.4,493.2 L551.8,493.2 L552.2,493.2 L552.6,493.2 L553.0,493.2 L553.4,493.2 L553.8,493.2 L554.2,493.3 L554.6,493.3 L555.0,493.3 L555.4,493.3 L555.8,493.3 L556.2,493.3 L556.6,493.3 L557.1,493.4 L557.5,493.4 L557.9,493.4 L558.3,493.4 L558.7,493.4 L559.1,493.4 L559.5,493.4 L559.9,493.5 L560.3,493.5 L560.7,493.5 L561.1,493.5 L561.5,493.5 L561.9,493.5 L562.3,493.5 L562.7,493.6 L563.1,493.6 L563.5,493.6 L563.9,493.6 L564.3,493.6 L564.7,493.6 L565.1,493.6 L565.5,493.7 L565.9,493.7 L566.3,493.7 L566.7,493.7 L567.1,493.7 L567.5,493.7 L567.9,493.7 L568.3,493.8 L568.7,493.8 L569.1,493.8 L569.5,493.8 L569.9,493.8 L570.3,493.8 L570.7,493.8 L571.1,493.9 L571.5,493.9 L571.9,493.9 L572.3,493.9 L572.7,493.9 L573.1,493.9 L573.5,494.0 L573.9,494.0 L574.3,494.0 L574.7,494.0 L575.1,494.0 L575.5,494.0 L575.9,494.0 L576.3,494.1 L576.7,494.1 L577.1,494.1 L577.5,494.1 L577.9,494.1 L578.3,494.1 L578.7,494.1 L579.1,494.2 L579.5,494.2 L579.9,494.2 L580.3,494.2 L580.7,494.2 L581.1,494.2 L581.5,494.2 L581.9,494.3 L582.3,494.3 L582.7,494.3 L583.1,494.3 L583.5,494.3 L583.9,494.3 L584.3,494.4 L584.7,494.4 L585.1,494.5 L585.5,494.6 L585.9,494.7 L586.3,494.7 L586.7,494.8 L587.1,494.9 L587.5,495.1 L587.9,495.2 L588.3,495.3 L588.7,495.4 L589.2,495.5 L589.6,495.7 L590.0,495.8 L590.4,495.9 L590.8,496.1 L591.2,496.2 L591.6,496.3 L592.0,496.5 L592.4,496.6 L592.8,496.8 L593.2,496.9 L593.6,497.1 L594.0,497.3 L594.4,497.4 L594.8,497.6 L595.2,497.7 L595.6,497.9 L596.0,498.1 L596.4,498.3 L596.8,498.4 L597.2,498.6 L597.6,498.8 L598.0,499.0 L598.4,499.1 L598.8,499.3 L599.2,499.5 L599.6,499.7 L600.0,499.9 L600.4,500.1 L600.8,500.3 L601.2,500.5 L601.6,500.7 L602.0,500.9 L602.4,501.1 L602.8,501.3 L603.2,501.5 L603.6,501.7 L604.0,501.9 L604.4,502.1 L604.8,502.3" fill="none" stroke="#66a83a" stroke-width="0.8"/>
<path d="M508.9,491.0 L509.3,491.0 L509.7,491.1 L510.1,491.1 L510.5,491.1 L510.9,491.1 L511.3,491.1 L511.7,491.1 L512.1,491.1 L512.5,491.2 L512.9,491.2 L513.3,491.2 L513.7,491.2 L514.1,491.2 L514.5,491.2 L514.9,491.2 L515.3,491.3 L515.7,491.3 L516.1,491.3 L516.5,491.3 L516.9,491.3 L517.3,491.3 L517.7,491.3 L518.1,491.3 L518.5,491.4 L518.9,491.4 L519.3,491.4 L519.7,491.4 L520.1,491.4 L520.5,491.4 L520.9,491.4 L521.3,491.4 L521.7,491.4 L522.1,491.3 L522.5,491.3 L522.9,491.3 L523.3,491.3 L523.7,491.2 L524.1,491.2 L524.5,491.1 L525.0,491.1 L525.4,491.0 L525.8,491.0 L526.2,490.9 L526.6,490.9 L527.0,490.8 L527.4,490.8 L527.8,490.8 L528.2,490.7 L528.6,490.7 L529.0,490.7 L529.4,490.8 L529.8,490.8 L530.2,490.8 L530.6,490.9 L531.0,491.0 L531.4,491.0 L531.8,491.1 L532.2,491.2 L532.6,491.3 L533.0,491.4 L533.4,491.4 L533.8,491.5 L534.2,491.6 L534.6,491.7 L535.0,491.7 L535.4,491.8 L535.8,491.8 L536.2,491.8 L536.6,491.9 L537.0,491.9 L537.4,491.9 L537.8,491.8 L538.2,491.8 L538.6,491.7 L539.0,491.5 L539.4,491.3 L539.8,491.1 L540.2,490.8 L540.6,490.4 L541.0,489.9 L541.4,489.4 L541.8,488.8 L542.2,488.2 L542.6,487.5 L543.0,486.8 L543.4,486.2 L543.8,485.6 L544.2,485.1 L544.6,484.7 L545.0,484.4 L545.4,484.3 L545.8,484.4 L546.2,484.6 L546.6,485.0 L547.0,485.5 L547.4,486.1 L547.8,486.7 L548.2,487.4 L548.6,488.1 L549.0,488.8 L549.4,489.4 L549.8,490.0 L550.2,490.5 L550.6,491.0 L551.0,491.4 L551.4,491.7 L551.8,491.9 L552.2,492.1 L552.6,492.3 L553.0,492.4 L553.4,492.4 L553.8,492.5 L554.2,492.5 L554.6,492.4 L555.0,492.4 L555.4,492.2 L555.8,492.1 L556.2,492.0 L556.6,491.8 L557.1,491.7 L557.5,491.6 L557.9,491.5 L558.3,491.5 L558.7,491.6 L559.1,491.7 L559.5,491.8 L559.9,492.0 L560.3,492.1 L560.7,492.2 L561.1,492.3 L561.5,492.4 L561.9,492.4 L562.3,492.4 L562.7,492.3 L563.1,492.3 L563.5,492.2 L563.9,492.1 L564.3,492.0 L564.7,492.0 L565.1,491.9 L565.5,491.7 L565.9,491.6 L566.3,491.5 L566.7,491.4 L567.1,491.3 L567.5,491.2 L567.9,491.0 L568.3,490.9 L568.7,490.8 L569.1,490.6 L569.5,490.5 L569.9,490.3 L570.3,490.2 L570.7,490.0 L571.1,489.9 L571.5,489.7 L571.9,489.6 L572.3,489.4 L572.7,489.2 L573.1,489.1 L573.5,488.9 L573.9,488.7 L574.3,488.6 L574.7,488.4 L575.1,488.2 L575.5,488.1 L575.9,487.9 L576.3,487.7 L576.7,487.5 L577.1,487.3 L577.5,487.0 L577.9,486.7 L578.3,486.3 L578.7,485.8 L579.1,485.2 L579.5,484.4 L579.9,483.6 L580.3,482.6 L580.7,481.5 L581.1,480.3 L581.5,479.0 L581.9,477.7 L582.3,476.5 L582.7,475.3 L583.1,474.2 L583.5,473.4 L583.9,472.8 L584.3,472.5 L584.7,472.6 L585.1,473.0 L585.5,473.8 L585.9,474.8 L586.3,476.1 L586.7,477.6 L587.1,479.3 L587.5,481.1 L587.9,482.8 L588.3,484.6 L588.7,486.3 L589.2,487.8 L589.6,489.2 L590.0,490.5 L590.4,491.6 L590.8,492.5 L591.2,493.4 L591.6,494.0 L592.0,494.6 L592.4,495.1 L592.8,495.5 L593.2,495.8 L593.6,496.1 L594.0,496.4 L594.4,496.6 L594.8,496.8 L595.2,497.0 L595.6,497.2 L596.0,497.4 L596.4,497.6 L596.8,497.8 L597.2,498.0 L597.6,498.2 L598.0,498.3 L598.4,498.5 L598.8,498.7 L599.2,498.9 L599.6,499.1 L600.0,499.3 L600.4,499.5 L600.8,499.7 L601.2,499.9 L601.6,500.1 L602.0,500.3 L602.4,500.5 L602.8,500.7 L603.2,500.9 L603.6,501.1 L604.0,501.3 L604.4,501.5 L604.8,501.7" fill="none" stroke="#f0875e" stroke-width="1.0"/>
<text x="510.80" y="436.50" font-size="9.4" font-weight="normal" text-anchor="start" fill="#000">Co 2p</text>
<text x="508.90" y="464.10" font-size="7.2" font-weight="normal" text-anchor="start" fill="#000" textLength="90.3" lengthAdjust="spacingAndGlyphs">After HER in 1 M NaOH seawater</text>
<text x="509.40" y="500.90" font-size="7.6" font-weight="normal" text-anchor="start" fill="#000" textLength="22" lengthAdjust="spacingAndGlyphs">Original</text>
<text x="512.50" y="510.40" font-size="4.8" font-weight="bold" text-anchor="middle" fill="#000">810</text>
<text x="537.00" y="510.40" font-size="4.8" font-weight="bold" text-anchor="middle" fill="#000">800</text>
<text x="562.40" y="510.40" font-size="4.8" font-weight="bold" text-anchor="middle" fill="#000">790</text>
<text x="588.70" y="510.40" font-size="4.8" font-weight="bold" text-anchor="middle" fill="#000">780</text>
<text x="555.80" y="516.90" font-size="7.3" font-weight="normal" text-anchor="middle" fill="#000" textLength="54.3" lengthAdjust="spacingAndGlyphs">Binding energy (eV)</text>
<text x="503.60" y="466.20" font-size="6.8" font-weight="normal" text-anchor="middle" fill="#000" transform="rotate(-90 503.60 466.20)">Intensity (a.u.)</text>
</svg></body></html>
